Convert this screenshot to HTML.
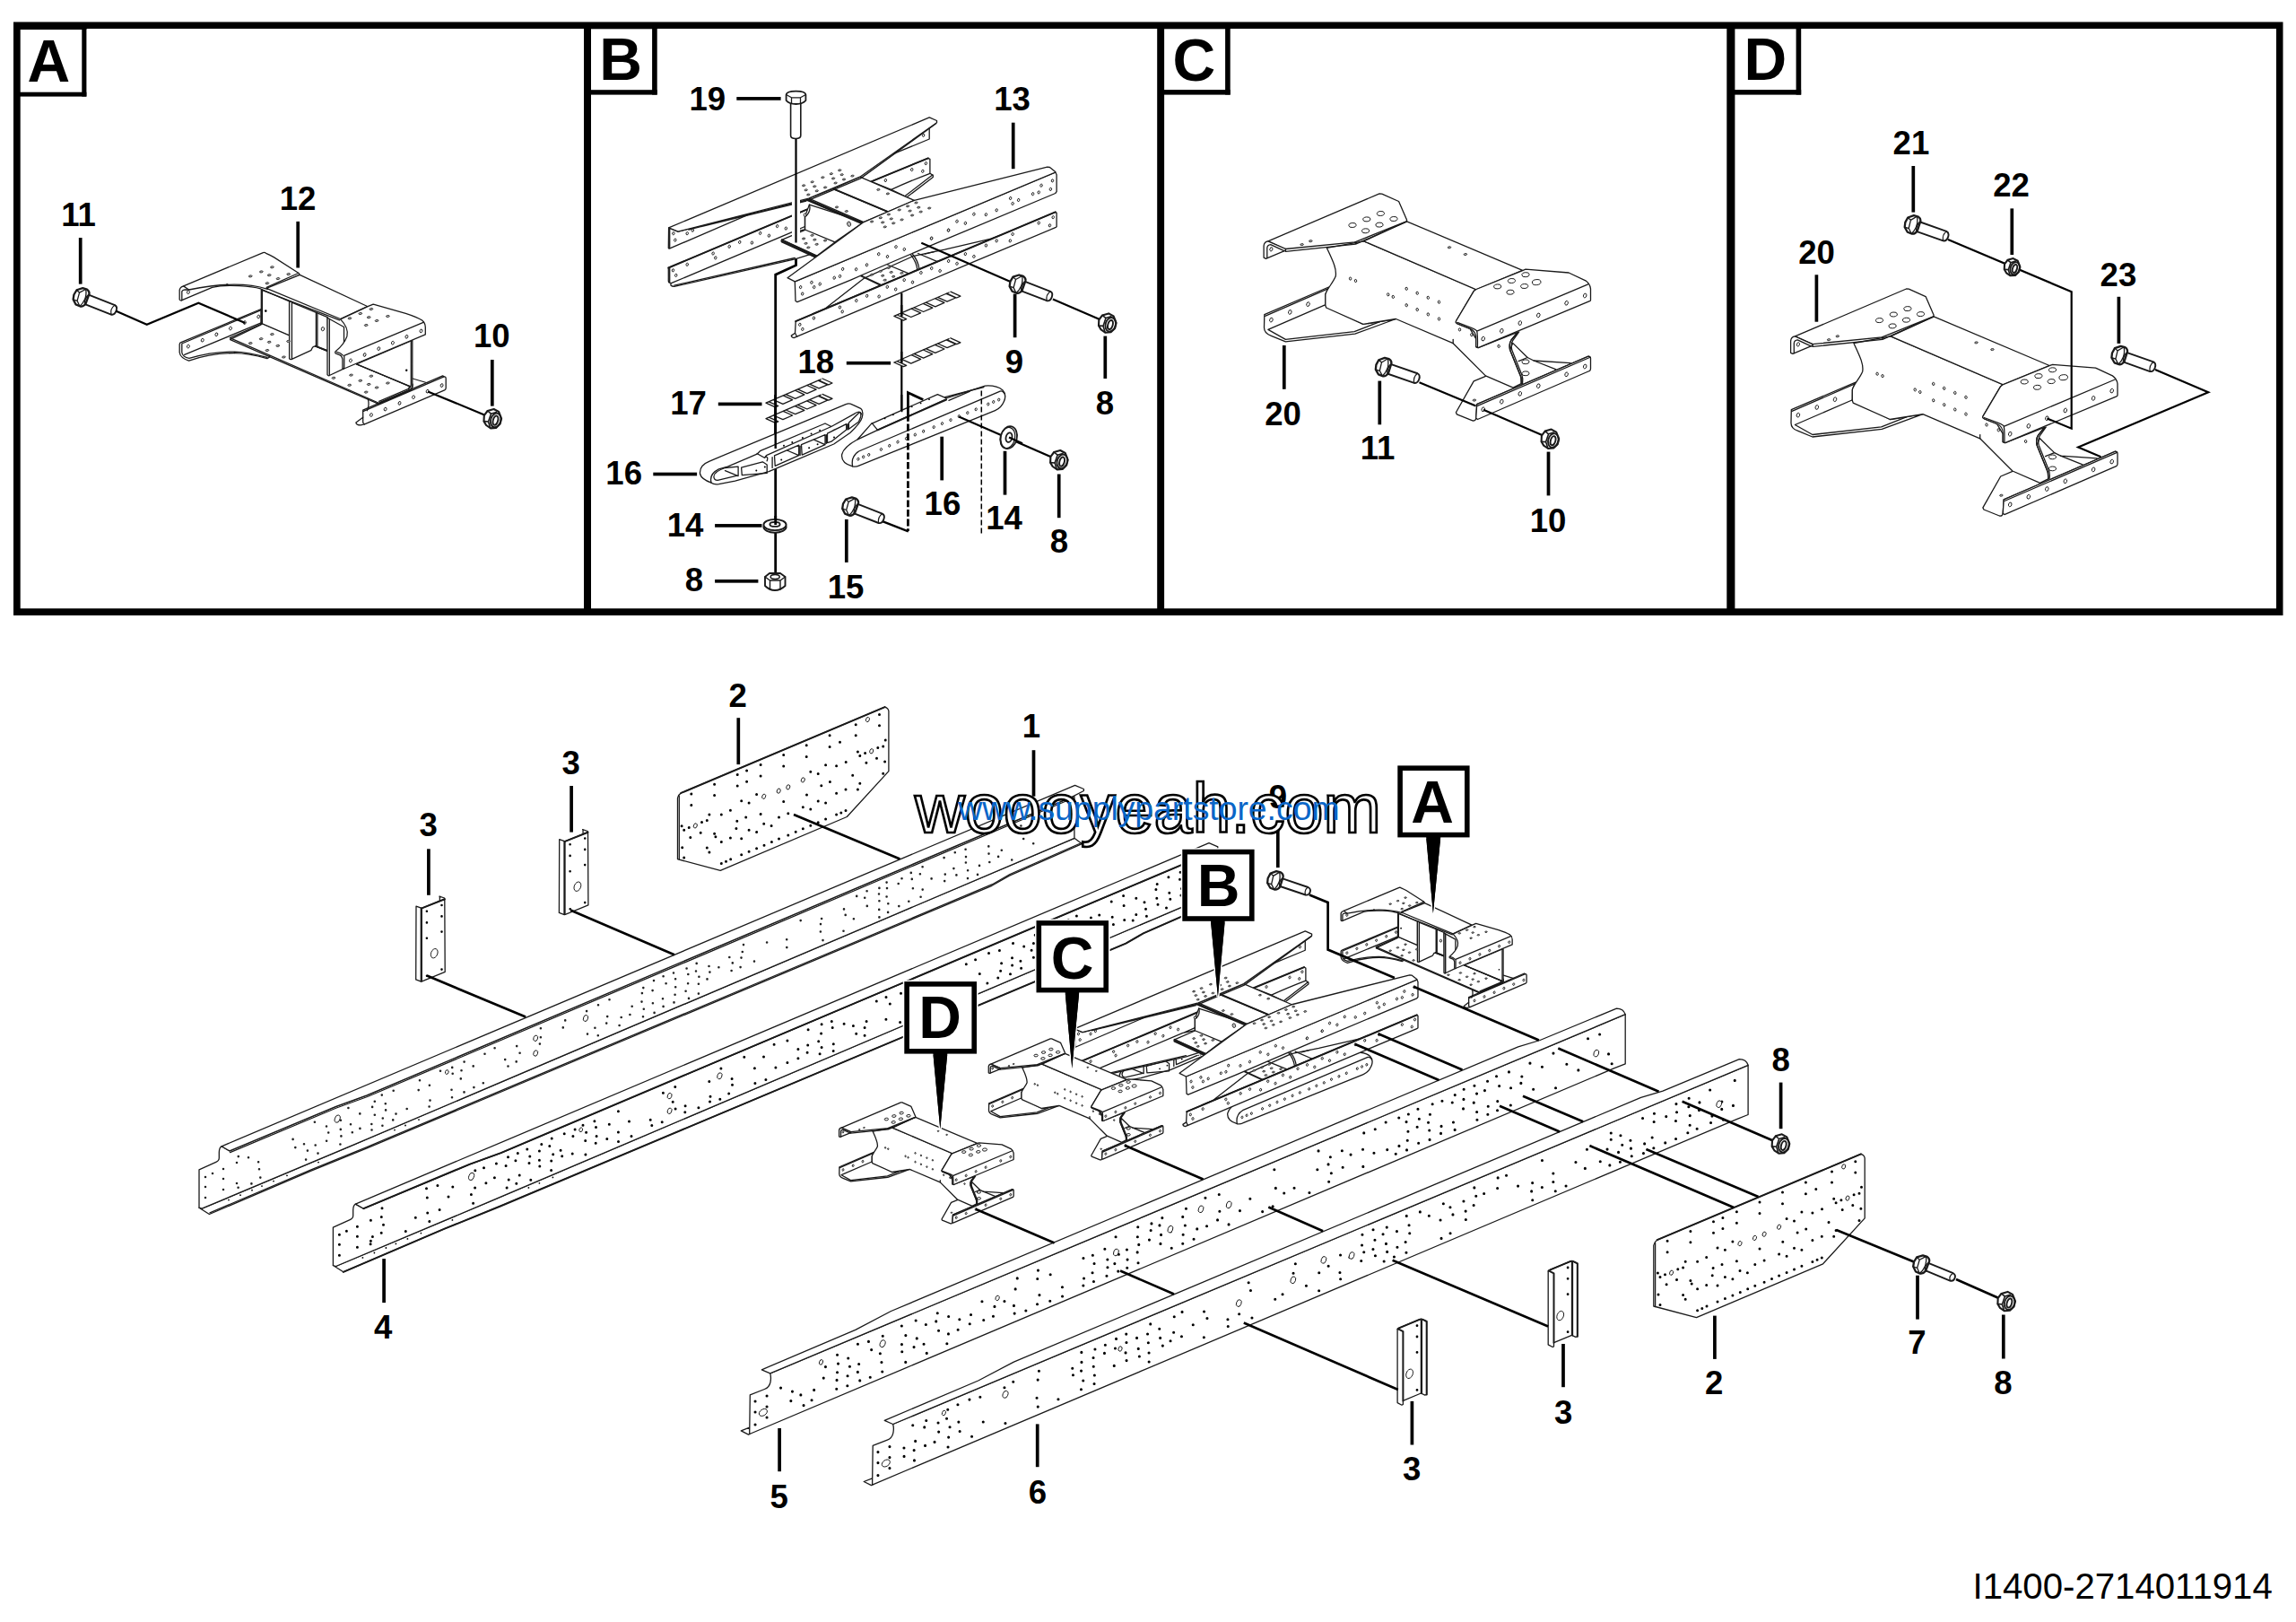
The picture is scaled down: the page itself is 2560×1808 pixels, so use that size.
<!DOCTYPE html>
<html><head><meta charset="utf-8"><title>I1400-2714011914</title>
<style>
html,body{margin:0;padding:0;background:#fff}
svg{display:block}
.lb{font-family:"Liberation Sans",Arial,sans-serif;font-weight:bold;font-size:36.6px;fill:#000;text-anchor:middle}
.bx{font-family:"Liberation Sans",Arial,sans-serif;font-weight:bold;font-size:66px;fill:#000}
.ld{stroke:#000;stroke-width:3.6;fill:none}
.ln{stroke:#000;stroke-width:2.6;fill:none;stroke-linejoin:miter}
.p{stroke:#1a1a1a;stroke-width:1.3;fill:#fff;stroke-linejoin:round;stroke-linecap:round}
.o{stroke:#1a1a1a;stroke-width:1.3;fill:none;stroke-linejoin:round;stroke-linecap:round}
.h{stroke:#1a1a1a;stroke-width:1;fill:#fff}
.p,.o,.h,.h2{vector-effect:non-scaling-stroke}
.d{fill:#000;stroke:none}
.h2{stroke:#222;stroke-width:0.9;fill:#bbb}
.ln{stroke-width:2.2}
</style></head><body>
<svg width="2560" height="1808" viewBox="0 0 2560 1808">
<rect x="0" y="0" width="2560" height="1808" fill="#fff"/>
<path fill="#000" fill-rule="evenodd" d="M15 24.4H2545.5V685.9H15Z M22.7 32H2538V678.2H22.7Z"/>
<rect x="651" y="31" width="8.0" height="648" fill="#000"/>
<rect x="1290.2" y="31" width="7.9" height="648" fill="#000"/>
<rect x="1925.3" y="31" width="9.1" height="648" fill="#000"/>
<rect x="91.3" y="31" width="5.1" height="76.6" fill="#000"/>
<rect x="21.7" y="102.7" width="74.7" height="4.9" fill="#000"/>
<rect x="21.7" y="31" width="74.7" height="2.0" fill="#000"/>
<rect x="727.1" y="31" width="5.6" height="74.6" fill="#000"/>
<rect x="658" y="100.2" width="74.7" height="5.4" fill="#000"/>
<rect x="658" y="31" width="74.7" height="1.3" fill="#000"/>
<rect x="1366.1" y="31" width="5.6" height="74.6" fill="#000"/>
<rect x="1297.1" y="100.1" width="74.6" height="5.5" fill="#000"/>
<rect x="1297.1" y="31" width="74.6" height="1.3" fill="#000"/>
<rect x="2002.6" y="31" width="5.6" height="74.6" fill="#000"/>
<rect x="1933.4" y="100.1" width="74.8" height="5.5" fill="#000"/>
<rect x="1933.4" y="31" width="74.8" height="1.3" fill="#000"/>
<defs><g id="pA">
<path class="o" d="M 200.9 321.3 L 294.1 281.8 L 334.2 305.6 L 409.6 341.5 L 416.1 339.3 L 474.4 357.6 L 474.4 373.2 L 460.1 380.2 L 460.1 428.1 L 497.1 421.1 L 497.1 434.6 L 406.5 473.4 L 396.9 471.7 L 423.0 450.2 L 256.3 377.1 L 291.5 361.9 L 291.5 346.6 L 210.5 399.4 L 200.6 394.1 Z" style="fill:#fff;stroke:none"/>
<path class="p" d="M 201.9 381.7 L 291.1 344.5 L 291.1 360.3 L 300.7 398.0 L 297.9 399.6 C 286.0 396.3 272.3 393.6 261.3 393.6 C 244.9 393.6 226.6 396.6 210.6 402.1 Q 201.0 398.9 200.2 393.0 L 200.2 383.8 Q 200.4 382.0 201.9 381.7 Z"/>
<path class="o" d="M 205.7 395.4 L 291.1 359.8 M 202.8 383.0 L 291.1 345.7 M 210.9 399.4 C 226.6 394.8 244.9 392.0 261.3 392.1 C 272.3 392.3 286.0 395.1 297.9 398.4 M 261.3 392.2 L 261.3 393.6 M 202.8 383.2 L 202.8 393.0 Q 203.7 398.0 210.9 399.4"/>
<ellipse class="h" cx="209.9" cy="386.1" rx="1.4" ry="1.9" transform="rotate(18 209.9 386.1)"/>
<ellipse class="h" cx="225.7" cy="379.2" rx="1.4" ry="1.9" transform="rotate(18 225.7 379.2)"/>
<ellipse class="h" cx="241.4" cy="372.8" rx="1.4" ry="1.9" transform="rotate(18 241.4 372.8)"/>
<ellipse class="h" cx="257.0" cy="366.0" rx="1.4" ry="1.9" transform="rotate(18 257.0 366.0)"/>
<ellipse class="h" cx="272.8" cy="359.6" rx="1.4" ry="1.9" transform="rotate(18 272.8 359.6)"/>
<ellipse class="h" cx="288.3" cy="353.0" rx="1.4" ry="1.9" transform="rotate(18 288.3 353.0)"/>
<path class="p" d="M 256.3 376.7 L 292.9 360.7 L 458.7 431.6 Q 458.7 435.1 456.1 436.3 L 423.0 449.5 Z"/>
<path class="o" d="M 256.7 378.6 L 423.0 450.6 L 457.0 436.3 Q 460.5 433.9 460.1 428.1 M 423.6 448.9 L 457.4 434.6"/>
<path class="o" d="M 256.6 378.3 L 291.1 361.9"/>
<path class="o" d="M 460.1 422.0 L 478.8 427.5"/>
<path class="p" d="M 291.3 322.3 L 291.3 360.3 L 322.6 373.8 L 322.6 335.8 Z"/>
<path class="o" d="M 292.4 323.0 L 292.4 360.5"/>
<path class="p" d="M 325.4 337.2 L 325.4 400.3 L 345.5 391.1 Q 347.5 390.5 347.9 388.4 Q 348.8 385.9 351.9 385.9 L 365.6 391.1 L 365.2 353.6 Z"/>
<path class="o" d="M 352.4 348.1 L 352.4 385.6 M 353.9 348.8 L 353.9 386.3"/>
<path class="o" d="M 351.9 385.9 L 365.6 391.1" style="stroke-width:2"/>
<path class="p" d="M 322.6 335.6 L 322.6 399.8 Q 324.0 401.3 325.4 400.3 L 325.4 336.9 Z"/>
<path class="p" d="M 367.3 355.5 L 367.3 418.5 L 383.5 410.9 L 383.5 364.5 Z"/>
<path class="p" d="M 365.0 354.1 L 365.0 417.7 Q 366.1 419.4 367.3 418.5 L 367.3 355.5 Z"/>
<path class="p" d="M 397.4 405.8 L 458.3 379.9 L 459.8 379.5 L 459.8 429.3 Q 459.8 433.4 456.4 434.8 L 455.5 433.4 L 456.9 430.5 Z"/>
<path class="o" d="M 458.3 379.9 L 458.3 428.8 Q 458.3 432.0 455.5 433.4 L 422.6 447.3 M 456.4 434.8 L 423.2 448.8 M 397.4 405.8 L 456.9 430.5"/>
<path class="p" d="M 204.6 318.9 L 293.4 281.6 Q 295.0 281.1 296.6 282.3 Q 301.1 284.1 305.2 286.6 L 332.7 304.2 Q 334.2 305.2 333.8 306.5 L 298.4 322.3 C 281.5 317.0 254.0 314.0 210.6 323.0 L 206.0 322.8 Q 203.7 323.0 202.8 324.8 L 202.8 334.7 L 202.3 335.1 Q 200.8 335.1 200.2 334.0 L 200.2 323.4 Q 200.5 320.2 204.6 318.9 Z"/>
<path class="o" d="M 332.7 304.5 L 297.2 320.4 M 290.6 321.9 C 281.5 319.3 254.0 316.4 236.6 320.4 L 202.8 334.7 M 253.1 316.4 L 253.1 318.2 M 210.6 323.0 L 204.6 318.9"/>
<path class="p" d="M 334.2 306.3 L 409.6 341.5 L 379.5 355.5 L 297.1 321.3 Z"/>
<path class="o" d="M 291.5 323.1 L 378.6 356.9"/>
<path class="p" d="M 411.2 341.2 L 416.2 339.2 L 452.3 349.3 Q 465.1 353.4 470.6 357.0 Q 474.3 360.2 474.3 364.8 L 474.3 372.9 L 383.5 411.0 L 381.9 410.6 L 381.9 400.5 Q 381.4 396.8 378.7 395.7 L 374.1 393.9 Q 373.2 392.7 374.1 391.8 Q 383.7 384.0 386.9 374.9 Q 389.2 365.7 379.6 355.9 Z"/>
<path class="o" d="M 472.6 359.1 L 383.7 396.4 Q 383.9 398.7 383.7 410.6 M 375.5 392.4 Q 380.1 393.2 382.3 396.1"/>
<ellipse class="h2" cx="303.4" cy="297.8" rx="1.9" ry="1.0" transform="rotate(-8 303.4 297.8)"/>
<ellipse class="h2" cx="291.3" cy="302.9" rx="1.9" ry="1.0" transform="rotate(-8 291.3 302.9)"/>
<ellipse class="h2" cx="279.2" cy="307.9" rx="1.9" ry="1.0" transform="rotate(-8 279.2 307.9)"/>
<ellipse class="h2" cx="300.2" cy="306.7" rx="1.9" ry="1.0" transform="rotate(-8 300.2 306.7)"/>
<ellipse class="h2" cx="310.0" cy="310.6" rx="1.9" ry="1.0" transform="rotate(-8 310.0 310.6)"/>
<ellipse class="h2" cx="297.9" cy="315.7" rx="1.9" ry="1.0" transform="rotate(-8 297.9 315.7)"/>
<ellipse class="h2" cx="321.7" cy="305.6" rx="1.9" ry="1.0" transform="rotate(-8 321.7 305.6)"/>
<ellipse class="h2" cx="303.4" cy="372.6" rx="1.9" ry="1.0" transform="rotate(-8 303.4 372.6)"/>
<ellipse class="h2" cx="291.1" cy="377.7" rx="1.9" ry="1.0" transform="rotate(-8 291.1 377.7)"/>
<ellipse class="h2" cx="279.2" cy="382.6" rx="1.9" ry="1.0" transform="rotate(-8 279.2 382.6)"/>
<ellipse class="h2" cx="300.2" cy="381.3" rx="1.9" ry="1.0" transform="rotate(-8 300.2 381.3)"/>
<ellipse class="h2" cx="309.8" cy="385.4" rx="1.9" ry="1.0" transform="rotate(-8 309.8 385.4)"/>
<ellipse class="h2" cx="297.9" cy="390.5" rx="1.9" ry="1.0" transform="rotate(-8 297.9 390.5)"/>
<ellipse class="h2" cx="321.5" cy="380.4" rx="1.9" ry="1.0" transform="rotate(-8 321.5 380.4)"/>
<ellipse class="h2" cx="316.4" cy="398.0" rx="1.9" ry="1.0" transform="rotate(-8 316.4 398.0)"/>
<ellipse class="h2" cx="413.9" cy="344.5" rx="1.9" ry="1.0" transform="rotate(-8 413.9 344.5)"/>
<ellipse class="h2" cx="401.8" cy="349.5" rx="1.9" ry="1.0" transform="rotate(-8 401.8 349.5)"/>
<ellipse class="h2" cx="389.9" cy="354.8" rx="1.9" ry="1.0" transform="rotate(-8 389.9 354.8)"/>
<ellipse class="h2" cx="411.2" cy="353.7" rx="1.9" ry="1.0" transform="rotate(-8 411.2 353.7)"/>
<ellipse class="h2" cx="420.1" cy="357.5" rx="1.9" ry="1.0" transform="rotate(-8 420.1 357.5)"/>
<ellipse class="h2" cx="432.4" cy="352.5" rx="1.9" ry="1.0" transform="rotate(-8 432.4 352.5)"/>
<ellipse class="h2" cx="408.2" cy="362.5" rx="1.9" ry="1.0" transform="rotate(-8 408.2 362.5)"/>
<ellipse class="h2" cx="372.0" cy="421.3" rx="1.9" ry="1.0" transform="rotate(-8 372.0 421.3)"/>
<ellipse class="h2" cx="391.5" cy="418.1" rx="1.9" ry="1.0" transform="rotate(-8 391.5 418.1)"/>
<ellipse class="h2" cx="413.9" cy="419.2" rx="1.9" ry="1.0" transform="rotate(-8 413.9 419.2)"/>
<ellipse class="h2" cx="401.8" cy="424.3" rx="1.9" ry="1.0" transform="rotate(-8 401.8 424.3)"/>
<ellipse class="h2" cx="389.7" cy="429.3" rx="1.9" ry="1.0" transform="rotate(-8 389.7 429.3)"/>
<ellipse class="h2" cx="411.2" cy="428.4" rx="1.9" ry="1.0" transform="rotate(-8 411.2 428.4)"/>
<ellipse class="h2" cx="420.1" cy="432.0" rx="1.9" ry="1.0" transform="rotate(-8 420.1 432.0)"/>
<ellipse class="h2" cx="432.4" cy="427.0" rx="1.9" ry="1.0" transform="rotate(-8 432.4 427.0)"/>
<ellipse class="h2" cx="408.2" cy="437.1" rx="1.9" ry="1.0" transform="rotate(-8 408.2 437.1)"/>
<ellipse class="h" cx="390.9" cy="401.9" rx="1.4" ry="1.9" transform="rotate(18 390.9 401.9)"/>
<ellipse class="h" cx="406.6" cy="395.5" rx="1.4" ry="1.9" transform="rotate(18 406.6 395.5)"/>
<ellipse class="h" cx="422.3" cy="388.6" rx="1.4" ry="1.9" transform="rotate(18 422.3 388.6)"/>
<ellipse class="h" cx="437.9" cy="382.2" rx="1.4" ry="1.9" transform="rotate(18 437.9 382.2)"/>
<ellipse class="h" cx="453.4" cy="375.3" rx="1.4" ry="1.9" transform="rotate(18 453.4 375.3)"/>
<ellipse class="h" cx="469.5" cy="368.9" rx="1.4" ry="1.9" transform="rotate(18 469.5 368.9)"/>
<ellipse class="h" cx="209.9" cy="325.7" rx="1.4" ry="1.9" transform="rotate(18 209.9 325.7)"/>
<ellipse class="h" cx="359.9" cy="366.7" rx="1.6" ry="2.1" transform="rotate(10 359.9 366.7)"/>
<path class="d" d="M295.0 346.6a1.3 1.3 0 1 0 2.6 0a1.3 1.3 0 1 0 -2.6 0"/>
<path class="d" d="M452.0 412.8a1.2 1.2 0 1 0 2.4 0a1.2 1.2 0 1 0 -2.4 0"/>
<path class="p" d="M 404.7 458.6 L 495.0 419.9 Q 497.2 419.6 497.2 422.0 L 497.2 432.5 Q 497.2 434.2 495.7 434.9 L 406.5 472.9 L 404.7 471.1 Z"/>
<path class="o" d="M 404.7 457.2 L 493.6 418.9 L 495.0 419.9 M 404.7 457.2 L 404.7 458.6 M 404.7 465.2 L 396.9 471.1 Q 397.4 473.9 402.1 473.9 L 406.5 472.9"/>
<path class="o" d="M 410.2 444.4 Q 412.3 451.7 409.3 457.7"/>
<ellipse class="h" cx="413.9" cy="462.5" rx="1.4" ry="1.9" transform="rotate(18 413.9 462.5)"/>
<ellipse class="h" cx="429.6" cy="456.1" rx="1.4" ry="1.9" transform="rotate(18 429.6 456.1)"/>
<ellipse class="h" cx="445.5" cy="449.4" rx="1.4" ry="1.9" transform="rotate(18 445.5 449.4)"/>
<ellipse class="h" cx="461.0" cy="442.7" rx="1.4" ry="1.9" transform="rotate(18 461.0 442.7)"/>
<ellipse class="h" cx="476.6" cy="436.2" rx="1.4" ry="1.9" transform="rotate(18 476.6 436.2)"/>
<ellipse class="h" cx="492.6" cy="429.6" rx="1.4" ry="1.9" transform="rotate(18 492.6 429.6)"/>
</g></defs>
<use href="#pA"/>
<g transform="translate(89.5 331.5) rotate(21.5) scale(1.0)">
<path class="p" style="stroke-width:1.9" d="M5 -6.1 L39 -6.1 Q42.8 -5.6 42.8 -0.5 Q42.8 4.6 39 5.1 L5 5.1Z"/>
<path class="o" style="stroke-width:1.2" d="M39 -6.1 Q35.4 -0.5 39 5.1"/>
<path class="p" style="stroke-width:2.3" d="M-1.2 -10.6 L3.8 -11 Q7.5 -10 7.9 -7 L8.2 4.4 Q7 8.5 3.7 9.3 L-1.7 9.2 L-6.5 5 L-7.7 -0.2 L-6.7 -6.2Z"/>
<path class="o" style="stroke-width:1.3" d="M-6.7 -6.2 L-2.8 -4.6 L1.6 -9.8 M-2.8 -4.6 L-1.8 4.8 L-6.5 5 M-1.8 4.8 L2.4 8.8 M2.4 -10.9 Q5.7 -5 5.5 0 Q5.3 5.5 3.1 9.3"/>
<path class="o" style="stroke-width:1.5" d="M7.6 -6.3999999999999995 Q4.4 -0.5 7.6 5.199999999999999"/>
</g>
<path class="ln" d="M129.5 346.8 L163.7 361.7 L221.3 337.8 L273.3 359.9"/>
<path class="ln" d="M477.1 436.4 L541.3 462.9"/>
<g transform="translate(549.1 466.6) rotate(0) scale(1.0)">
<path class="p" style="stroke-width:2.1" d="M-9.3 -3.5 L-5.5 -8.6 L1.5 -10.6 L7 -7.6 L10 0 L8.5 6 L4 10.3 L-2 10.8 L-7 7.4 L-9.6 3Z"/>
<path class="o" style="stroke-width:1.6" d="M-5.5 -8.6 L-1.6 -5.4 L4.2 -7.2 M-1.6 -5.4 L-4.6 3.4 L-9.6 3 M-4.6 3.4 L-2.4 10.4"/>
<ellipse class="o" style="stroke-width:1.9" cx="3.6" cy="1.8" rx="5.6" ry="7.9" transform="rotate(17 3.6 1.8)"/>
<ellipse class="o" style="stroke-width:1.9" cx="3.4" cy="2" rx="2.7" ry="5.2" transform="rotate(17 3.4 2)"/>
</g>
<defs><g id="pB">
<path class="o" d="M 745.3 253.9 L 1036.2 130.9 L 1044.5 134.5 L 1044.5 136.8 L 1036.9 143.1 L 1036.9 177.3 L 1040.3 195.4 L 1040.3 197.5 L 1019.4 223.3 L 1167.7 186.1 L 1178.1 194.8 L 1178.1 252.7 L 1086.1 291.7 L 888.6 375.5 L 882.3 375.5 L 886.5 358.1 L 887.0 335.5 L 887.0 313.9 L 878.0 309.7 L 910.7 285.3 L 886.3 288.8 L 751.8 319.4 L 745.3 314.5 L 745.3 298.5 L 823.6 265.8 L 746.3 277.2 Z" style="fill:#fff;stroke:none"/>
<path class="p" d="M 745.3 298.5 L 902.4 232.3 L 897.5 252.5 L 882.2 259.1 Q 809.7 289.5 748.4 315.7 Q 746.3 319.0 751.8 319.4 L 886.3 288.8 L 902.4 283.9 L 897.5 256.0 L 882.2 259.1 Q 809.7 289.5 748.4 315.7 L 746.3 315.2 Q 745.3 314.5 745.3 313.2 Z"/>
<path class="o" d="M 745.3 298.5 L 902.4 232.3" style="stroke-width:2"/>
<path class="o" d="M 751.8 318.2 L 886.3 287.5 M 746.7 299.2 L 746.7 314.5"/>
<ellipse class="h" cx="750.5" cy="301.3" rx="1.2" ry="1.6" transform="rotate(15 750.5 301.3)"/>
<ellipse class="h" cx="753.7" cy="306.9" rx="1.2" ry="1.6" transform="rotate(15 753.7 306.9)"/>
<ellipse class="h" cx="766.2" cy="294.8" rx="1.2" ry="1.6" transform="rotate(15 766.2 294.8)"/>
<ellipse class="h" cx="795.1" cy="282.5" rx="1.2" ry="1.6" transform="rotate(15 795.1 282.5)"/>
<ellipse class="h" cx="797.8" cy="287.4" rx="1.2" ry="1.6" transform="rotate(15 797.8 287.4)"/>
<ellipse class="h" cx="813.2" cy="274.8" rx="1.2" ry="1.6" transform="rotate(15 813.2 274.8)"/>
<ellipse class="h" cx="824.7" cy="269.9" rx="1.2" ry="1.6" transform="rotate(15 824.7 269.9)"/>
<ellipse class="h" cx="838.4" cy="270.6" rx="1.2" ry="1.6" transform="rotate(15 838.4 270.6)"/>
<ellipse class="h" cx="847.6" cy="259.9" rx="1.2" ry="1.6" transform="rotate(15 847.6 259.9)"/>
<ellipse class="h" cx="857.4" cy="262.7" rx="1.2" ry="1.6" transform="rotate(15 857.4 262.7)"/>
<ellipse class="h" cx="866.6" cy="252.1" rx="1.2" ry="1.6" transform="rotate(15 866.6 252.1)"/>
<ellipse class="h" cx="876.3" cy="254.6" rx="1.2" ry="1.6" transform="rotate(15 876.3 254.6)"/>
<path class="p" d="M 971.4 202.4 L 1034.8 176.3 L 1036.9 177.3 L 1036.9 193.3 L 1040.3 195.4 L 1040.3 197.5 L 1011.1 219.8 L 993.7 211.4 Z"/>
<path class="o" d="M 971.4 202.4 L 1034.8 176.3" style="stroke-width:2"/>
<path class="o" d="M 1036.9 193.3 Q 1011.8 203.0 993.7 211.4 M 1039.7 195.0 L 1009.7 218.1"/>
<ellipse class="h" cx="1032.4" cy="182.1" rx="1.2" ry="1.6" transform="rotate(15 1032.4 182.1)"/>
<ellipse class="h" cx="1016.7" cy="189.1" rx="1.2" ry="1.6" transform="rotate(15 1016.7 189.1)"/>
<ellipse class="h" cx="1028.8" cy="190.8" rx="1.2" ry="1.6" transform="rotate(15 1028.8 190.8)"/>
<ellipse class="h" cx="987.4" cy="201.0" rx="1.2" ry="1.6" transform="rotate(15 987.4 201.0)"/>
<path class="p" d="M 871.7 267.4 L 897.5 256.3 L 897.5 241.4 L 902.4 228.1 L 963.0 247.6 L 930.9 269.9 L 910.7 285.3 Z"/>
<path class="o" d="M 902.4 228.1 Q 904.5 235.1 898.9 240.7 L 897.5 241.4 L 897.5 256.0 L 930.9 269.9 M 871.0 268.6 L 909.8 286.1 M 871.3 269.7 L 908.9 287.0"/>
<path class="o" d="M 871.7 267.4 L 910.7 285.3" style="stroke-width:2"/>
<ellipse class="h2" cx="905.6" cy="262.3" rx="1.7" ry="0.9" transform="rotate(-10 905.6 262.3)"/>
<ellipse class="h2" cx="896.1" cy="266.0" rx="1.7" ry="0.9" transform="rotate(-10 896.1 266.0)"/>
<ellipse class="h2" cx="908.4" cy="267.2" rx="1.7" ry="0.9" transform="rotate(-10 908.4 267.2)"/>
<ellipse class="h2" cx="920.1" cy="268.1" rx="1.7" ry="0.9" transform="rotate(-10 920.1 268.1)"/>
<ellipse class="h2" cx="898.6" cy="271.3" rx="1.7" ry="0.9" transform="rotate(-10 898.6 271.3)"/>
<ellipse class="h2" cx="910.7" cy="272.3" rx="1.7" ry="0.9" transform="rotate(-10 910.7 272.3)"/>
<ellipse class="h2" cx="901.3" cy="275.9" rx="1.7" ry="0.9" transform="rotate(-10 901.3 275.9)"/>
<ellipse class="h2" cx="946.6" cy="249.7" rx="2.0" ry="2.7" transform="rotate(-15 946.6 249.7)"/>
<ellipse class="h" cx="897.5" cy="239.6" rx="1.3" ry="1.7"/>
<path class="p" d="M 745.6 253.9 L 756.0 258.1 L 837.6 237.9 L 746.3 277.2 L 745.3 276.6 Z"/>
<path class="o" d="M 746.7 254.9 L 746.7 276.4"/>
<ellipse class="h" cx="750.9" cy="260.2" rx="1.2" ry="1.6" transform="rotate(15 750.9 260.2)"/>
<ellipse class="h" cx="766.2" cy="260.2" rx="1.2" ry="1.6" transform="rotate(15 766.2 260.2)"/>
<ellipse class="h" cx="772.3" cy="256.7" rx="1.2" ry="1.6" transform="rotate(15 772.3 256.7)"/>
<ellipse class="h" cx="752.8" cy="267.6" rx="1.2" ry="1.6" transform="rotate(15 752.8 267.6)"/>
<path class="p" d="M 1036.2 143.1 L 1036.2 155.0 L 995.7 171.7 L 1036.2 138.9 Z"/>
<ellipse class="h" cx="1029.6" cy="150.8" rx="1.2" ry="1.6" transform="rotate(15 1029.6 150.8)"/>
<path class="p" d="M 901.7 221.2 L 928.9 210.3 L 990.2 236.2 L 963.0 247.6 Z"/>
<path class="o" d="M 898.9 222.8 L 960.2 249.0 M 900.3 222.0 L 961.6 248.3" style="stroke-width:1.5"/>
<ellipse class="h2" cx="933.0" cy="230.9" rx="1.7" ry="0.9" transform="rotate(-10 933.0 230.9)"/>
<ellipse class="h2" cx="943.8" cy="235.5" rx="1.7" ry="0.9" transform="rotate(-10 943.8 235.5)"/>
<path class="p" d="M 958.8 197.2 L 1019.4 223.3 L 990.2 236.2 L 928.9 210.3 Z"/>
<path class="o" d="M 928.9 210.3 L 990.2 236.2" style="stroke-width:2"/>
<ellipse class="h2" cx="979.4" cy="211.4" rx="1.7" ry="0.9" transform="rotate(-10 979.4 211.4)"/>
<ellipse class="h2" cx="989.9" cy="215.9" rx="1.7" ry="0.9" transform="rotate(-10 989.9 215.9)"/>
<path class="p" d="M 745.6 253.9 L 1036.2 130.9 L 1044.5 134.5 L 1044.5 136.8 L 958.8 197.2 L 901.7 221.2 L 756.0 258.1 Z"/>
<path class="o" d="M 1043.6 137.8 L 959.5 198.9 L 902.4 222.8 M 898.9 224.2 L 781.8 252.5 M 900.3 222.6 L 767.9 256.0"/>
<ellipse class="h2" cx="936.2" cy="189.8" rx="1.7" ry="0.9" transform="rotate(-10 936.2 189.8)"/>
<ellipse class="h2" cx="926.8" cy="193.7" rx="1.7" ry="0.9" transform="rotate(-10 926.8 193.7)"/>
<ellipse class="h2" cx="917.3" cy="197.8" rx="1.7" ry="0.9" transform="rotate(-10 917.3 197.8)"/>
<ellipse class="h2" cx="905.6" cy="202.8" rx="1.7" ry="0.9" transform="rotate(-10 905.6 202.8)"/>
<ellipse class="h2" cx="896.1" cy="206.8" rx="1.7" ry="0.9" transform="rotate(-10 896.1 206.8)"/>
<ellipse class="h2" cx="938.6" cy="194.7" rx="1.7" ry="0.9" transform="rotate(-10 938.6 194.7)"/>
<ellipse class="h2" cx="929.1" cy="198.9" rx="1.7" ry="0.9" transform="rotate(-10 929.1 198.9)"/>
<ellipse class="h2" cx="908.2" cy="207.8" rx="1.7" ry="0.9" transform="rotate(-10 908.2 207.8)"/>
<ellipse class="h2" cx="898.6" cy="211.8" rx="1.7" ry="0.9" transform="rotate(-10 898.6 211.8)"/>
<ellipse class="h2" cx="950.5" cy="196.1" rx="1.7" ry="0.9" transform="rotate(-10 950.5 196.1)"/>
<ellipse class="h2" cx="941.0" cy="200.0" rx="1.7" ry="0.9" transform="rotate(-10 941.0 200.0)"/>
<ellipse class="h2" cx="931.6" cy="204.0" rx="1.7" ry="0.9" transform="rotate(-10 931.6 204.0)"/>
<ellipse class="h2" cx="920.1" cy="208.9" rx="1.7" ry="0.9" transform="rotate(-10 920.1 208.9)"/>
<ellipse class="h2" cx="910.7" cy="212.8" rx="1.7" ry="0.9" transform="rotate(-10 910.7 212.8)"/>
<ellipse class="h2" cx="901.3" cy="217.0" rx="1.7" ry="0.9" transform="rotate(-10 901.3 217.0)"/>
<path class="p" d="M 918.4 345.2 L 963.0 310.4 L 1018.7 285.3 L 1053.4 278.2 L 1104.9 266.2 L 1128.6 257.6 L 1065.9 282.9 L 905.9 349.9 Z"/>
<path class="o" d="M 958.8 306.9 L 982.5 318.0" style="stroke-width:2"/>
<path class="o" d="M 989.5 295.0 L 1013.2 304.8 M 1015.3 283.9 Q 1021.5 290.9 1022.9 300.9 M 1017.4 283.2 Q 1023.6 290.2 1025.0 300.3 M 1023.6 282.5 L 1045.2 291.6 M 1031.3 283.2 L 1042.4 280.4"/>
<ellipse class="h2" cx="972.1" cy="306.2" rx="1.7" ry="0.9" transform="rotate(-10 972.1 306.2)"/>
<ellipse class="h2" cx="981.8" cy="302.3" rx="1.7" ry="0.9" transform="rotate(-10 981.8 302.3)"/>
<ellipse class="h2" cx="990.9" cy="298.5" rx="1.7" ry="0.9" transform="rotate(-10 990.9 298.5)"/>
<ellipse class="h2" cx="984.2" cy="307.3" rx="1.7" ry="0.9" transform="rotate(-10 984.2 307.3)"/>
<ellipse class="h2" cx="993.7" cy="303.4" rx="1.7" ry="0.9" transform="rotate(-10 993.7 303.4)"/>
<ellipse class="h2" cx="1005.5" cy="304.4" rx="1.7" ry="0.9" transform="rotate(-10 1005.5 304.4)"/>
<ellipse class="h2" cx="986.7" cy="312.2" rx="1.7" ry="0.9" transform="rotate(-10 986.7 312.2)"/>
<ellipse class="h2" cx="996.2" cy="308.3" rx="1.7" ry="0.9" transform="rotate(-10 996.2 308.3)"/>
<path class="p" d="M 887.2 358.1 L 1176.7 236.4 L 1178.1 237.4 L 1178.1 252.7 L 1176.7 253.7 L 1086.1 291.7 L 888.6 375.2 L 885.1 376.6 Q 882.3 376.2 882.3 374.1 L 886.5 371.3 Z"/>
<path class="o" d="M 887.2 358.1 L 1176.7 236.4" style="stroke-width:2"/>
<path class="o" d="M 886.5 371.3 L 888.6 375.2"/>
<ellipse class="h" cx="891.8" cy="361.8" rx="1.2" ry="1.6" transform="rotate(15 891.8 361.8)"/>
<ellipse class="h" cx="894.8" cy="366.9" rx="1.2" ry="1.6" transform="rotate(15 894.8 366.9)"/>
<ellipse class="h" cx="907.4" cy="354.6" rx="1.2" ry="1.6" transform="rotate(15 907.4 354.6)"/>
<ellipse class="h" cx="936.4" cy="342.5" rx="1.2" ry="1.6" transform="rotate(15 936.4 342.5)"/>
<ellipse class="h" cx="939.2" cy="347.4" rx="1.2" ry="1.6" transform="rotate(15 939.2 347.4)"/>
<ellipse class="h" cx="954.8" cy="335.1" rx="1.2" ry="1.6" transform="rotate(15 954.8 335.1)"/>
<ellipse class="h" cx="966.6" cy="329.8" rx="1.2" ry="1.6" transform="rotate(15 966.6 329.8)"/>
<ellipse class="h" cx="980.1" cy="330.5" rx="1.2" ry="1.6" transform="rotate(15 980.1 330.5)"/>
<ellipse class="h" cx="989.3" cy="319.8" rx="1.2" ry="1.6" transform="rotate(15 989.3 319.8)"/>
<ellipse class="h" cx="998.7" cy="322.5" rx="1.2" ry="1.6" transform="rotate(15 998.7 322.5)"/>
<ellipse class="h" cx="1008.2" cy="312.1" rx="1.2" ry="1.6" transform="rotate(15 1008.2 312.1)"/>
<ellipse class="h" cx="1017.5" cy="314.6" rx="1.2" ry="1.6" transform="rotate(15 1017.5 314.6)"/>
<ellipse class="h" cx="1174.2" cy="242.2" rx="1.2" ry="1.6" transform="rotate(15 1174.2 242.2)"/>
<ellipse class="h" cx="1158.2" cy="248.5" rx="1.2" ry="1.6" transform="rotate(15 1158.2 248.5)"/>
<ellipse class="h" cx="1170.5" cy="251.3" rx="1.2" ry="1.6" transform="rotate(15 1170.5 251.3)"/>
<ellipse class="h" cx="1129.1" cy="261.0" rx="1.2" ry="1.6" transform="rotate(15 1129.1 261.0)"/>
<ellipse class="h" cx="1126.3" cy="268.4" rx="1.2" ry="1.6" transform="rotate(15 1126.3 268.4)"/>
<ellipse class="h" cx="1111.2" cy="268.4" rx="1.2" ry="1.6" transform="rotate(15 1111.2 268.4)"/>
<ellipse class="h" cx="1099.4" cy="273.6" rx="1.2" ry="1.6" transform="rotate(15 1099.4 273.6)"/>
<ellipse class="h" cx="1076.4" cy="283.1" rx="1.2" ry="1.6" transform="rotate(15 1076.4 283.1)"/>
<ellipse class="h" cx="1085.9" cy="285.9" rx="1.2" ry="1.6" transform="rotate(15 1085.9 285.9)"/>
<ellipse class="h" cx="1057.6" cy="291.0" rx="1.2" ry="1.6" transform="rotate(15 1057.6 291.0)"/>
<ellipse class="h" cx="1067.0" cy="293.8" rx="1.2" ry="1.6" transform="rotate(15 1067.0 293.8)"/>
<ellipse class="h" cx="1038.7" cy="299.1" rx="1.2" ry="1.6" transform="rotate(15 1038.7 299.1)"/>
<ellipse class="h" cx="1048.1" cy="301.9" rx="1.2" ry="1.6" transform="rotate(15 1048.1 301.9)"/>
<ellipse class="h" cx="1026.9" cy="304.0" rx="1.2" ry="1.6" transform="rotate(15 1026.9 304.0)"/>
<path class="p" d="M 886.3 313.9 L 1176.7 191.8 L 1178.1 194.8 L 1178.1 213.7 L 1176.7 215.5 L 1041.5 272.2 Q 990.9 293.6 949.1 311.8 L 888.9 336.6 L 887.0 335.5 Z"/>
<ellipse class="h" cx="892.6" cy="320.1" rx="1.2" ry="1.6" transform="rotate(15 892.6 320.1)"/>
<ellipse class="h" cx="894.7" cy="327.5" rx="1.2" ry="1.6" transform="rotate(15 894.7 327.5)"/>
<ellipse class="h" cx="904.9" cy="314.8" rx="1.2" ry="1.6" transform="rotate(15 904.9 314.8)"/>
<ellipse class="h" cx="907.7" cy="320.1" rx="1.2" ry="1.6" transform="rotate(15 907.7 320.1)"/>
<ellipse class="h" cx="914.2" cy="316.6" rx="1.2" ry="1.6" transform="rotate(15 914.2 316.6)"/>
<ellipse class="h" cx="930.2" cy="309.7" rx="1.2" ry="1.6" transform="rotate(15 930.2 309.7)"/>
<ellipse class="h" cx="936.5" cy="307.9" rx="1.2" ry="1.6" transform="rotate(15 936.5 307.9)"/>
<ellipse class="h" cx="939.6" cy="299.9" rx="1.2" ry="1.6" transform="rotate(15 939.6 299.9)"/>
<ellipse class="h" cx="954.6" cy="300.2" rx="1.2" ry="1.6" transform="rotate(15 954.6 300.2)"/>
<ellipse class="h" cx="966.5" cy="295.3" rx="1.2" ry="1.6" transform="rotate(15 966.5 295.3)"/>
<ellipse class="h" cx="979.7" cy="283.2" rx="1.2" ry="1.6" transform="rotate(15 979.7 283.2)"/>
<ellipse class="h" cx="989.5" cy="286.0" rx="1.2" ry="1.6" transform="rotate(15 989.5 286.0)"/>
<ellipse class="h" cx="999.0" cy="275.2" rx="1.2" ry="1.6" transform="rotate(15 999.0 275.2)"/>
<ellipse class="h" cx="1008.3" cy="277.9" rx="1.2" ry="1.6" transform="rotate(15 1008.3 277.9)"/>
<ellipse class="h" cx="1038.5" cy="265.8" rx="1.2" ry="1.6" transform="rotate(15 1038.5 265.8)"/>
<ellipse class="h" cx="1057.5" cy="256.7" rx="1.2" ry="1.6" transform="rotate(15 1057.5 256.7)"/>
<ellipse class="h" cx="1173.5" cy="201.4" rx="1.2" ry="1.6" transform="rotate(15 1173.5 201.4)"/>
<ellipse class="h" cx="1161.0" cy="206.7" rx="1.2" ry="1.6" transform="rotate(15 1161.0 206.7)"/>
<ellipse class="h" cx="1171.4" cy="210.9" rx="1.2" ry="1.6" transform="rotate(15 1171.4 210.9)"/>
<ellipse class="h" cx="1158.2" cy="214.4" rx="1.2" ry="1.6" transform="rotate(15 1158.2 214.4)"/>
<ellipse class="h" cx="1151.6" cy="216.2" rx="1.2" ry="1.6" transform="rotate(15 1151.6 216.2)"/>
<ellipse class="h" cx="1126.6" cy="221.0" rx="1.2" ry="1.6" transform="rotate(15 1126.6 221.0)"/>
<ellipse class="h" cx="1135.6" cy="223.0" rx="1.2" ry="1.6" transform="rotate(15 1135.6 223.0)"/>
<ellipse class="h" cx="1129.1" cy="226.9" rx="1.2" ry="1.6" transform="rotate(15 1129.1 226.9)"/>
<ellipse class="h" cx="1111.2" cy="234.3" rx="1.2" ry="1.6" transform="rotate(15 1111.2 234.3)"/>
<ellipse class="h" cx="1099.4" cy="239.2" rx="1.2" ry="1.6" transform="rotate(15 1099.4 239.2)"/>
<ellipse class="h" cx="1085.9" cy="238.7" rx="1.2" ry="1.6" transform="rotate(15 1085.9 238.7)"/>
<ellipse class="h" cx="1067.0" cy="246.7" rx="1.2" ry="1.6" transform="rotate(15 1067.0 246.7)"/>
<ellipse class="h" cx="1076.4" cy="248.8" rx="1.2" ry="1.6" transform="rotate(15 1076.4 248.8)"/>
<ellipse class="h" cx="1057.6" cy="256.6" rx="1.2" ry="1.6" transform="rotate(15 1057.6 256.6)"/>
<ellipse class="h" cx="1038.7" cy="265.6" rx="1.2" ry="1.6" transform="rotate(15 1038.7 265.6)"/>
<path class="p" d="M 878.0 309.7 L 963.0 247.6 L 1019.4 223.3 L 1167.7 186.1 L 1170.5 186.5 L 1176.7 191.4 L 1176.7 192.1 L 886.3 313.9 Z"/>
<ellipse class="h2" cx="972.1" cy="247.0" rx="1.7" ry="0.9" transform="rotate(-10 972.1 247.0)"/>
<ellipse class="h2" cx="981.8" cy="242.8" rx="1.7" ry="0.9" transform="rotate(-10 981.8 242.8)"/>
<ellipse class="h2" cx="990.9" cy="239.0" rx="1.7" ry="0.9" transform="rotate(-10 990.9 239.0)"/>
<ellipse class="h2" cx="1002.7" cy="234.0" rx="1.7" ry="0.9" transform="rotate(-10 1002.7 234.0)"/>
<ellipse class="h2" cx="1012.1" cy="229.8" rx="1.7" ry="0.9" transform="rotate(-10 1012.1 229.8)"/>
<ellipse class="h2" cx="1021.5" cy="226.0" rx="1.7" ry="0.9" transform="rotate(-10 1021.5 226.0)"/>
<ellipse class="h2" cx="984.2" cy="247.9" rx="1.7" ry="0.9" transform="rotate(-10 984.2 247.9)"/>
<ellipse class="h2" cx="993.7" cy="243.9" rx="1.7" ry="0.9" transform="rotate(-10 993.7 243.9)"/>
<ellipse class="h2" cx="1014.6" cy="235.1" rx="1.7" ry="0.9" transform="rotate(-10 1014.6 235.1)"/>
<ellipse class="h2" cx="1024.3" cy="231.2" rx="1.7" ry="0.9" transform="rotate(-10 1024.3 231.2)"/>
<ellipse class="h2" cx="1036.2" cy="232.0" rx="1.7" ry="0.9" transform="rotate(-10 1036.2 232.0)"/>
<ellipse class="h2" cx="986.7" cy="252.9" rx="1.7" ry="0.9" transform="rotate(-10 986.7 252.9)"/>
<ellipse class="h2" cx="996.2" cy="248.8" rx="1.7" ry="0.9" transform="rotate(-10 996.2 248.8)"/>
<ellipse class="h2" cx="1005.5" cy="244.9" rx="1.7" ry="0.9" transform="rotate(-10 1005.5 244.9)"/>
<ellipse class="h2" cx="1017.1" cy="240.0" rx="1.7" ry="0.9" transform="rotate(-10 1017.1 240.0)"/>
<ellipse class="h2" cx="1026.7" cy="236.1" rx="1.7" ry="0.9" transform="rotate(-10 1026.7 236.1)"/>
</g></defs>
<use href="#pB"/>

<defs><g id="pC">
<path class="o" d="M 1409.1 274.0 L 1538.0 215.9 L 1559.6 224.5 L 1568.6 245.4 L 1697.6 301.4 L 1701.0 300.2 L 1749.1 304.0 L 1773.5 321.8 L 1773.5 335.7 L 1697.6 369.2 L 1711.5 402.0 L 1750.5 404.7 L 1773.5 398.5 L 1773.5 413.1 L 1647.4 467.5 L 1641.8 468.9 L 1623.4 459.8 L 1643.2 424.9 L 1657.1 419.1 L 1620.2 382.7 L 1556.1 355.5 L 1510.8 372.2 L 1433.4 380.9 L 1409.5 365.3 L 1409.8 350.6 L 1481.5 320.0 L 1489.9 302.6 L 1479.4 276.4 L 1433.4 280.3 L 1409.1 287.5 Z" style="fill:#fff;stroke:none"/>
<path class="p" d="M 1409.8 350.6 L 1481.5 320.0 L 1478.0 327.6 L 1477.8 340.2 L 1519.9 361.4 L 1556.4 355.5 L 1510.8 372.2 L 1433.4 380.9 L 1417.4 374.3 Q 1409.5 371.6 1409.5 365.3 Z"/>
<path class="o" d="M 1410.5 352.3 L 1480.6 321.8 M 1413.9 367.4 L 1477.4 339.9 M 1413.9 367.4 L 1433.4 378.4 L 1510.1 369.7 L 1544.9 356.1 M 1520.1 360.0 L 1553.3 354.7"/>
<ellipse class="h" cx="1417.4" cy="356.6" rx="1.7" ry="2.4" transform="rotate(18 1417.4 356.6)"/>
<ellipse class="h" cx="1438.3" cy="347.9" rx="1.7" ry="2.4" transform="rotate(18 1438.3 347.9)"/>
<ellipse class="h" cx="1458.5" cy="339.1" rx="1.7" ry="2.4" transform="rotate(18 1458.5 339.1)"/>
<path class="p" d="M 1657.1 419.1 L 1643.2 424.9 L 1623.4 459.8 L 1624.4 461.9 L 1641.8 468.9 Q 1645.3 469.5 1645.7 466.1 L 1646.7 450.7 L 1771.1 397.1 L 1751.9 405.4 L 1750.5 404.7 L 1710.1 402.0 L 1703.1 398.5 L 1686.7 382.4 L 1683.6 390.1 Z"/>
<path class="o" d="M 1710.1 402.0 L 1734.5 411.7 M 1703.1 398.5 L 1693.1 402.6"/>
<ellipse class="h" cx="1701.0" cy="403.3" rx="4.0" ry="2.4" transform="rotate(-5 1701.0 403.3)"/>
<ellipse class="h" cx="1701.0" cy="416.3" rx="4.0" ry="2.4" transform="rotate(-5 1701.0 416.3)"/>
<ellipse class="h2" cx="1643.9" cy="446.1" rx="1.8" ry="1.0" transform="rotate(-8 1643.9 446.1)"/>
<path class="p" d="M 1479.4 276.4 C 1486.4 291.4 1490.6 299.8 1489.2 308.1 C 1486.4 315.1 1479.4 322.1 1477.8 328.3 L 1477.8 340.2 L 1478.7 343.0 L 1519.9 361.4 L 1556.4 355.5 L 1620.2 382.7 L 1656.4 418.9 L 1687.1 432.2 L 1696.2 427.7 L 1696.2 420.8 L 1683.6 390.1 Q 1682.2 383.1 1685.0 379.0 L 1692.0 370.3 L 1648.1 387.6 L 1645.7 386.6 L 1645.7 377.6 L 1639.0 366.4 L 1625.1 360.8 L 1623.4 358.0 L 1643.2 324.6 L 1646.0 322.5 L 1520.6 268.8 Z"/>
<path class="o" d="M 1620.2 378.5 L 1620.2 382.7"/>
<path class="o" d="M 1692.0 370.3 L 1685.0 379.0 Q 1682.2 383.1 1683.6 390.1 L 1694.8 418.0 Q 1696.2 420.8 1696.2 428.0 M 1693.7 369.9 L 1686.7 379.7 Q 1684.3 383.8 1685.7 390.1 L 1696.9 418.0 Q 1698.3 421.5 1697.6 427.5"/>
<path class="p" d="M 1520.6 268.8 L 1568.6 246.8 L 1697.6 301.4 L 1646.0 322.8 Z"/>
<path class="p" d="M 1413.9 268.8 L 1538.0 215.9 L 1540.8 216.1 L 1559.6 224.5 L 1568.4 244.7 Q 1568.9 246.1 1567.9 246.8 L 1510.8 269.8 L 1433.4 277.5 Z"/>
<path class="o" d="M 1568.6 246.8 L 1511.5 272.2 L 1433.4 280.3 L 1433.4 277.5 M 1511.5 272.2 L 1510.8 269.8"/>
<path class="p" d="M 1413.9 268.8 Q 1409.5 269.4 1409.1 274.0 L 1409.1 287.2 L 1411.4 288.3 L 1433.4 279.1 L 1433.4 277.5 Z"/>
<path class="o" d="M 1412.8 287.6 L 1412.8 276.4 Q 1413.2 273.0 1416.7 272.7 L 1431.8 279.7"/>
<ellipse class="h" cx="1417.4" cy="277.8" rx="1.5" ry="2.2" transform="rotate(18 1417.4 277.8)"/>
<ellipse class="h" cx="1539.4" cy="238.0" rx="4.1" ry="2.5" transform="rotate(-6 1539.4 238.0)"/>
<ellipse class="h" cx="1523.8" cy="244.4" rx="4.1" ry="2.5" transform="rotate(-6 1523.8 244.4)"/>
<ellipse class="h" cx="1508.0" cy="251.0" rx="4.1" ry="2.5" transform="rotate(-6 1508.0 251.0)"/>
<ellipse class="h" cx="1554.0" cy="244.0" rx="4.1" ry="2.5" transform="rotate(-6 1554.0 244.0)"/>
<ellipse class="h" cx="1538.0" cy="250.6" rx="4.1" ry="2.5" transform="rotate(-6 1538.0 250.6)"/>
<ellipse class="h" cx="1522.6" cy="257.3" rx="4.1" ry="2.5" transform="rotate(-6 1522.6 257.3)"/>
<ellipse class="h2" cx="1461.3" cy="268.7" rx="1.8" ry="1.0" transform="rotate(-8 1461.3 268.7)"/>
<ellipse class="h2" cx="1451.6" cy="272.6" rx="1.8" ry="1.0" transform="rotate(-8 1451.6 272.6)"/>
<ellipse class="h2" cx="1616.0" cy="275.8" rx="1.8" ry="1.0" transform="rotate(-8 1616.0 275.8)"/>
<ellipse class="h2" cx="1633.9" cy="283.5" rx="1.8" ry="1.0" transform="rotate(-8 1633.9 283.5)"/>
<ellipse class="h" cx="1505.6" cy="310.6" rx="1.2" ry="1.6" transform="rotate(-10 1505.6 310.6)"/>
<ellipse class="h" cx="1511.5" cy="313.0" rx="1.2" ry="1.6" transform="rotate(-10 1511.5 313.0)"/>
<ellipse class="h" cx="1547.7" cy="328.3" rx="1.2" ry="1.6" transform="rotate(-10 1547.7 328.3)"/>
<ellipse class="h" cx="1553.3" cy="330.9" rx="1.2" ry="1.6" transform="rotate(-10 1553.3 330.9)"/>
<ellipse class="h" cx="1568.2" cy="321.8" rx="1.2" ry="1.6" transform="rotate(-10 1568.2 321.8)"/>
<ellipse class="h" cx="1580.2" cy="326.7" rx="1.2" ry="1.6" transform="rotate(-10 1580.2 326.7)"/>
<ellipse class="h" cx="1592.3" cy="331.8" rx="1.2" ry="1.6" transform="rotate(-10 1592.3 331.8)"/>
<ellipse class="h" cx="1604.5" cy="336.7" rx="1.2" ry="1.6" transform="rotate(-10 1604.5 336.7)"/>
<ellipse class="h" cx="1568.2" cy="340.2" rx="1.2" ry="1.6" transform="rotate(-10 1568.2 340.2)"/>
<ellipse class="h" cx="1580.2" cy="345.1" rx="1.2" ry="1.6" transform="rotate(-10 1580.2 345.1)"/>
<ellipse class="h" cx="1592.3" cy="350.4" rx="1.2" ry="1.6" transform="rotate(-10 1592.3 350.4)"/>
<ellipse class="h" cx="1604.5" cy="355.5" rx="1.2" ry="1.6" transform="rotate(-10 1604.5 355.5)"/>
<ellipse class="h" cx="1627.5" cy="367.4" rx="1.2" ry="1.6" transform="rotate(-10 1627.5 367.4)"/>
<ellipse class="h" cx="1640.8" cy="373.2" rx="1.2" ry="1.6" transform="rotate(-10 1640.8 373.2)"/>
<ellipse class="h" cx="1671.1" cy="385.9" rx="1.2" ry="1.6" transform="rotate(-10 1671.1 385.9)"/>
<path class="p" d="M 1646.0 322.5 L 1697.6 301.6 L 1701.0 300.2 L 1749.1 304.0 L 1767.9 312.8 Q 1772.8 316.2 1773.5 321.8 L 1773.5 334.4 Q 1773.5 335.5 1772.4 335.7 L 1648.1 387.6 L 1645.7 386.6 L 1645.7 377.6 Q 1646.0 369.2 1639.0 366.4 L 1625.1 360.8 Q 1622.3 359.7 1623.4 358.0 L 1643.2 324.6 Z"/>
<path class="o" d="M 1770.7 316.9 L 1646.7 369.2 Q 1647.7 372.7 1647.4 387.3 M 1624.8 359.4 L 1640.4 365.3 Q 1646.7 367.8 1646.7 369.2"/>
<ellipse class="h" cx="1701.0" cy="306.2" rx="4.1" ry="2.5" transform="rotate(-6 1701.0 306.2)"/>
<ellipse class="h" cx="1685.4" cy="313.0" rx="4.1" ry="2.5" transform="rotate(-6 1685.4 313.0)"/>
<ellipse class="h" cx="1669.7" cy="319.4" rx="4.1" ry="2.5" transform="rotate(-6 1669.7 319.4)"/>
<ellipse class="h" cx="1699.7" cy="319.0" rx="4.1" ry="2.5" transform="rotate(-6 1699.7 319.0)"/>
<ellipse class="h" cx="1684.0" cy="325.7" rx="4.1" ry="2.5" transform="rotate(-6 1684.0 325.7)"/>
<ellipse class="h" cx="1713.2" cy="314.6" rx="4.8" ry="3.0" transform="rotate(-6 1713.2 314.6)"/>
<ellipse class="h" cx="1653.7" cy="377.6" rx="1.7" ry="2.4" transform="rotate(18 1653.7 377.6)"/>
<ellipse class="h" cx="1674.3" cy="368.8" rx="1.7" ry="2.4" transform="rotate(18 1674.3 368.8)"/>
<ellipse class="h" cx="1694.8" cy="360.1" rx="1.7" ry="2.4" transform="rotate(18 1694.8 360.1)"/>
<ellipse class="h" cx="1715.3" cy="351.4" rx="1.7" ry="2.4" transform="rotate(18 1715.3 351.4)"/>
<ellipse class="h" cx="1746.6" cy="337.8" rx="1.7" ry="2.4" transform="rotate(18 1746.6 337.8)"/>
<ellipse class="h" cx="1767.2" cy="329.5" rx="1.7" ry="2.4" transform="rotate(18 1767.2 329.5)"/>
<path class="p" d="M 1646.7 450.7 L 1771.1 397.1 Q 1773.5 397.4 1773.5 399.2 L 1773.5 411.0 Q 1773.5 413.1 1772.1 413.5 L 1647.4 467.5 L 1645.7 466.1 Z"/>
<path class="o" d="M 1647.4 452.4 L 1772.4 398.5"/>
<ellipse class="h" cx="1653.7" cy="456.3" rx="1.7" ry="2.4" transform="rotate(18 1653.7 456.3)"/>
<ellipse class="h" cx="1674.3" cy="447.7" rx="1.7" ry="2.4" transform="rotate(18 1674.3 447.7)"/>
<ellipse class="h" cx="1694.8" cy="438.9" rx="1.7" ry="2.4" transform="rotate(18 1694.8 438.9)"/>
<ellipse class="h" cx="1715.3" cy="430.2" rx="1.7" ry="2.4" transform="rotate(18 1715.3 430.2)"/>
<ellipse class="h" cx="1746.6" cy="417.3" rx="1.7" ry="2.4" transform="rotate(18 1746.6 417.3)"/>
<ellipse class="h" cx="1767.2" cy="408.5" rx="1.7" ry="2.4" transform="rotate(18 1767.2 408.5)"/>
</g></defs>
<use href="#pC"/>
<use href="#pC" transform="translate(587.5 106.1)"/>
<g transform="translate(1541.6 409.3) rotate(19) scale(1.0)">
<path class="p" style="stroke-width:1.9" d="M5 -6.1 L39 -6.1 Q42.8 -5.6 42.8 -0.5 Q42.8 4.6 39 5.1 L5 5.1Z"/>
<path class="o" style="stroke-width:1.2" d="M39 -6.1 Q35.4 -0.5 39 5.1"/>
<path class="p" style="stroke-width:2.3" d="M-1.2 -10.6 L3.8 -11 Q7.5 -10 7.9 -7 L8.2 4.4 Q7 8.5 3.7 9.3 L-1.7 9.2 L-6.5 5 L-7.7 -0.2 L-6.7 -6.2Z"/>
<path class="o" style="stroke-width:1.3" d="M-6.7 -6.2 L-2.8 -4.6 L1.6 -9.8 M-2.8 -4.6 L-1.8 4.8 L-6.5 5 M-1.8 4.8 L2.4 8.8 M2.4 -10.9 Q5.7 -5 5.5 0 Q5.3 5.5 3.1 9.3"/>
<path class="o" style="stroke-width:1.5" d="M7.6 -6.3999999999999995 Q4.4 -0.5 7.6 5.199999999999999"/>
</g>
<path class="ln" d="M1582.5 426.2 L1645.6 452.6 M1654 456.8 L1720 485.2"/>
<g transform="translate(1728.2 489.2) rotate(0) scale(1.0)">
<path class="p" style="stroke-width:2.1" d="M-9.3 -3.5 L-5.5 -8.6 L1.5 -10.6 L7 -7.6 L10 0 L8.5 6 L4 10.3 L-2 10.8 L-7 7.4 L-9.6 3Z"/>
<path class="o" style="stroke-width:1.6" d="M-5.5 -8.6 L-1.6 -5.4 L4.2 -7.2 M-1.6 -5.4 L-4.6 3.4 L-9.6 3 M-4.6 3.4 L-2.4 10.4"/>
<ellipse class="o" style="stroke-width:1.9" cx="3.6" cy="1.8" rx="5.6" ry="7.9" transform="rotate(17 3.6 1.8)"/>
<ellipse class="o" style="stroke-width:1.9" cx="3.4" cy="2" rx="2.7" ry="5.2" transform="rotate(17 3.4 2)"/>
</g>
<g transform="translate(2131.5 250.6) rotate(19.5) scale(1.0)">
<path class="p" style="stroke-width:1.9" d="M5 -6.1 L39 -6.1 Q42.8 -5.6 42.8 -0.5 Q42.8 4.6 39 5.1 L5 5.1Z"/>
<path class="o" style="stroke-width:1.2" d="M39 -6.1 Q35.4 -0.5 39 5.1"/>
<path class="p" style="stroke-width:2.3" d="M-1.2 -10.6 L3.8 -11 Q7.5 -10 7.9 -7 L8.2 4.4 Q7 8.5 3.7 9.3 L-1.7 9.2 L-6.5 5 L-7.7 -0.2 L-6.7 -6.2Z"/>
<path class="o" style="stroke-width:1.3" d="M-6.7 -6.2 L-2.8 -4.6 L1.6 -9.8 M-2.8 -4.6 L-1.8 4.8 L-6.5 5 M-1.8 4.8 L2.4 8.8 M2.4 -10.9 Q5.7 -5 5.5 0 Q5.3 5.5 3.1 9.3"/>
<path class="o" style="stroke-width:1.5" d="M7.6 -6.3999999999999995 Q4.4 -0.5 7.6 5.199999999999999"/>
</g>
<path class="ln" d="M2172 267 L2309.7 325.2 L2309.7 477.7 L2282.4 466.4"/>
<g transform="translate(2243.4 297.6) rotate(0) scale(0.9)">
<path class="p" style="stroke-width:2.1" d="M-9.3 -3.5 L-5.5 -8.6 L1.5 -10.6 L7 -7.6 L10 0 L8.5 6 L4 10.3 L-2 10.8 L-7 7.4 L-9.6 3Z"/>
<path class="o" style="stroke-width:1.6" d="M-5.5 -8.6 L-1.6 -5.4 L4.2 -7.2 M-1.6 -5.4 L-4.6 3.4 L-9.6 3 M-4.6 3.4 L-2.4 10.4"/>
<ellipse class="o" style="stroke-width:1.9" cx="3.6" cy="1.8" rx="5.6" ry="7.9" transform="rotate(17 3.6 1.8)"/>
<ellipse class="o" style="stroke-width:1.9" cx="3.4" cy="2" rx="2.7" ry="5.2" transform="rotate(17 3.4 2)"/>
</g>
<g transform="translate(2362.2 396.2) rotate(19.5) scale(1.0)">
<path class="p" style="stroke-width:1.9" d="M5 -6.1 L39 -6.1 Q42.8 -5.6 42.8 -0.5 Q42.8 4.6 39 5.1 L5 5.1Z"/>
<path class="o" style="stroke-width:1.2" d="M39 -6.1 Q35.4 -0.5 39 5.1"/>
<path class="p" style="stroke-width:2.3" d="M-1.2 -10.6 L3.8 -11 Q7.5 -10 7.9 -7 L8.2 4.4 Q7 8.5 3.7 9.3 L-1.7 9.2 L-6.5 5 L-7.7 -0.2 L-6.7 -6.2Z"/>
<path class="o" style="stroke-width:1.3" d="M-6.7 -6.2 L-2.8 -4.6 L1.6 -9.8 M-2.8 -4.6 L-1.8 4.8 L-6.5 5 M-1.8 4.8 L2.4 8.8 M2.4 -10.9 Q5.7 -5 5.5 0 Q5.3 5.5 3.1 9.3"/>
<path class="o" style="stroke-width:1.5" d="M7.6 -6.3999999999999995 Q4.4 -0.5 7.6 5.199999999999999"/>
</g>
<path class="ln" d="M2403 412 L2462.2 437.3 L2317.2 498.6 L2342.5 509.2"/>
<defs><g id="r16r">
<path class="p" d="M 950.6 519.8 Q 937.4 516.3 938.7 506.5 Q 940.8 498.2 956.2 489.8 L 971.5 472.4 L 1045.4 439.6 L 1055.1 443.8 L 1098.3 430.1 Q 1110.9 429.2 1117.8 434.7 Q 1122.7 439.6 1119.5 447.3 Q 1116.4 454.9 1109.5 457.7 L 957.6 519.1 Q 954.8 520.5 950.6 519.8 Z"/>
<path class="o" d="M 950.6 519.8 Q 948.5 508.6 957.6 503.0 L 1115.1 436.1 Q 1117.8 435.4 1119.5 438.2 M 972.2 471.7 L 978.5 479.3 L 1055.1 444.9 M 1053.7 442.7 L 1096.9 431.5 M 1057.9 446.3 L 1081.6 436.1 M 956.2 489.8 L 978.5 479.3"/>
<path class="o" d="M 978.5 479.3 L 1055.1 445.5" style="stroke-width:2"/>
<ellipse class="h" cx="956.9" cy="511.7" rx="1.1" ry="1.5" transform="rotate(15 956.9 511.7)"/>
<ellipse class="h" cx="962.7" cy="509.3" rx="1.1" ry="1.5" transform="rotate(15 962.7 509.3)"/>
<ellipse class="h" cx="968.7" cy="506.9" rx="1.1" ry="1.5" transform="rotate(15 968.7 506.9)"/>
<ellipse class="h" cx="982.4" cy="500.9" rx="1.1" ry="1.5" transform="rotate(15 982.4 500.9)"/>
<ellipse class="h" cx="991.7" cy="496.8" rx="1.1" ry="1.5" transform="rotate(15 991.7 496.8)"/>
<ellipse class="h" cx="1001.0" cy="492.6" rx="1.1" ry="1.5" transform="rotate(15 1001.0 492.6)"/>
<ellipse class="h" cx="1010.5" cy="488.8" rx="1.1" ry="1.5" transform="rotate(15 1010.5 488.8)"/>
<ellipse class="h" cx="1020.3" cy="484.6" rx="1.1" ry="1.5" transform="rotate(15 1020.3 484.6)"/>
<ellipse class="h" cx="1029.6" cy="480.7" rx="1.1" ry="1.5" transform="rotate(15 1029.6 480.7)"/>
<ellipse class="h" cx="1041.2" cy="476.1" rx="1.1" ry="1.5" transform="rotate(15 1041.2 476.1)"/>
<ellipse class="h" cx="1050.5" cy="472.1" rx="1.1" ry="1.5" transform="rotate(15 1050.5 472.1)"/>
<ellipse class="h" cx="1060.0" cy="468.2" rx="1.1" ry="1.5" transform="rotate(15 1060.0 468.2)"/>
<ellipse class="h" cx="1069.3" cy="464.0" rx="1.1" ry="1.5" transform="rotate(15 1069.3 464.0)"/>
<ellipse class="h" cx="1078.8" cy="460.2" rx="1.1" ry="1.5" transform="rotate(15 1078.8 460.2)"/>
<ellipse class="h" cx="1088.2" cy="456.3" rx="1.1" ry="1.5" transform="rotate(15 1088.2 456.3)"/>
<ellipse class="h" cx="1101.8" cy="450.5" rx="1.1" ry="1.5" transform="rotate(15 1101.8 450.5)"/>
<ellipse class="h" cx="1107.7" cy="448.0" rx="1.1" ry="1.5" transform="rotate(15 1107.7 448.0)"/>
<ellipse class="h" cx="1113.7" cy="445.5" rx="1.1" ry="1.5" transform="rotate(15 1113.7 445.5)"/>
<path class="d" d="M985.7 466.4a0.9 0.9 0 1 0 1.8 0a0.9 0.9 0 1 0 -1.8 0M995.0 462.3a0.9 0.9 0 1 0 1.8 0a0.9 0.9 0 1 0 -1.8 0M1004.7 458.4a0.9 0.9 0 1 0 1.8 0a0.9 0.9 0 1 0 -1.8 0M1015.9 453.3a0.9 0.9 0 1 0 1.8 0a0.9 0.9 0 1 0 -1.8 0M1025.7 449.4a0.9 0.9 0 1 0 1.8 0a0.9 0.9 0 1 0 -1.8 0M1035.1 445.2a0.9 0.9 0 1 0 1.8 0a0.9 0.9 0 1 0 -1.8 0"/>
</g><g id="r16l">
<path class="p" d="M 780.6 528.5 Q 779.2 518.7 791.7 513.8 L 943.7 450.4 Q 946.4 449.0 950.6 451.1 L 959.7 455.3 Q 963.2 458.1 961.1 465.7 Q 959.7 471.3 947.8 482.5 L 929.7 495.0 L 857.2 525.7 L 819.6 536.1 L 801.5 539.6 Q 795.9 540.3 793.1 538.2 Q 782.0 534.0 780.6 528.5 Z"/>
<path class="o" d="M 793.1 538.2 Q 790.3 528.5 801.5 522.9 L 811.3 520.1 L 844.0 506.2 L 847.5 502.7 L 920.0 472.0 L 926.9 475.5 L 952.0 461.6 Q 959.0 456.7 960.4 461.6 M 844.0 505.5 L 852.4 510.3 L 854.5 507.6 L 926.9 475.5 M 852.4 510.3 Q 857.2 507.6 855.2 513.8"/>
<path class="o" d="M 795.9 531.3 Q 795.9 525.7 808.5 521.5 L 823.1 520.1 L 823.1 529.9 L 800.1 535.4 Q 795.9 535.4 795.9 531.3 Z M 808.5 524.6 L 823.1 530.6 M 826.6 521.2 L 850.3 514.8 L 855.2 518.0 L 855.2 527.4 L 827.3 529.6 Z M 863.5 507.8 L 890.7 496.1 L 890.7 507.6 L 864.2 519.3 Z M 877.5 502.0 L 890.7 507.6 M 893.5 495.7 L 920.0 484.6 L 920.0 495.7 L 894.2 507.1 Z M 907.4 490.1 L 920.0 495.7 M 922.5 483.2 L 943.7 472.7 L 943.7 479.0 L 926.9 492.2 L 922.5 493.6 Z M 929.0 479.7 L 935.3 476.9 M 946.4 471.3 L 957.6 460.2 Q 960.4 458.8 959.7 464.4 L 957.6 469.9 L 946.4 478.3 Z M 861.1 509.7 L 861.1 521.5 M 892.1 497.1 L 892.1 507.6 M 921.4 484.6 L 921.4 494.3 M 945.1 472.7 L 945.1 479.0"/>
<path class="d" d="M873.0 496.7a1.0 1.0 0 1 0 2.0 0a1.0 1.0 0 1 0 -2.0 0M882.3 492.9a1.0 1.0 0 1 0 2.0 0a1.0 1.0 0 1 0 -2.0 0M893.9 488.0a1.0 1.0 0 1 0 2.0 0a1.0 1.0 0 1 0 -2.0 0M903.6 483.6a1.0 1.0 0 1 0 2.0 0a1.0 1.0 0 1 0 -2.0 0M913.1 479.7a1.0 1.0 0 1 0 2.0 0a1.0 1.0 0 1 0 -2.0 0M842.3 524.6a1.0 1.0 0 1 0 2.0 0a1.0 1.0 0 1 0 -2.0 0M851.8 520.5a1.0 1.0 0 1 0 2.0 0a1.0 1.0 0 1 0 -2.0 0M870.2 512.4a1.0 1.0 0 1 0 2.0 0a1.0 1.0 0 1 0 -2.0 0M901.1 499.2a1.0 1.0 0 1 0 2.0 0a1.0 1.0 0 1 0 -2.0 0M910.6 495.3a1.0 1.0 0 1 0 2.0 0a1.0 1.0 0 1 0 -2.0 0M929.0 487.4a1.0 1.0 0 1 0 2.0 0a1.0 1.0 0 1 0 -2.0 0"/>
</g></defs>
<path d="M887.5 200 L887.5 268" stroke="#fff" stroke-width="9" fill="none"/>
<path class="ln" d="M887.5 153 L887.5 270.5"/>
<path class="ln" style="stroke-width:2.8" d="M887.5 288.8 L887.5 295.7 L864.7 306.2 L864.7 640"/>
<path d="M854.0 449.2 L864.5 453.9 L867.8 452.5 L857.3 447.8Z M862.4 445.6 L872.9 450.3 L883.7 445.6 L873.2 440.9Z M876.2 439.6 L886.7 444.3 L896.9 439.9 L886.4 435.2Z M889.4 433.9 L899.9 438.6 L910.1 434.2 L899.6 429.5Z M902.6 428.2 L913.1 432.9 L922.7 428.8 L912.2 424.1Z M912.8 423.8 L923.8 428.8 L928.0 427.0 L917.0 422.0Z " fill="#fff"/><path class="o" style="stroke-width:1.3" d="M854.0 449.2 L915.2 422.8 M854.0 449.2 L864.5 453.9 L867.8 452.5 L857.3 447.8 M862.4 445.6 L872.9 450.3 L883.7 445.6 L873.2 440.9 M876.2 439.6 L886.7 444.3 L896.9 439.9 L886.4 435.2 M889.4 433.9 L899.9 438.6 L910.1 434.2 L899.6 429.5 M902.6 428.2 L913.1 432.9 L922.7 428.8 L912.2 424.1 M912.8 423.8 L923.8 428.8 L928.0 427.0 L917.0 422.0 "/>
<path d="M854.0 466.6 L864.5 471.3 L867.8 469.9 L857.3 465.2Z M862.4 463.0 L872.9 467.7 L883.7 463.0 L873.2 458.3Z M876.2 457.0 L886.7 461.7 L896.9 457.3 L886.4 452.6Z M889.4 451.3 L899.9 456.0 L910.1 451.6 L899.6 446.9Z M902.6 445.6 L913.1 450.3 L922.7 446.2 L912.2 441.5Z M912.8 441.2 L923.8 446.2 L928.0 444.4 L917.0 439.4Z " fill="#fff"/><path class="o" style="stroke-width:1.3" d="M854.0 466.6 L915.2 440.2 M854.0 466.6 L864.5 471.3 L867.8 469.9 L857.3 465.2 M862.4 463.0 L872.9 467.7 L883.7 463.0 L873.2 458.3 M876.2 457.0 L886.7 461.7 L896.9 457.3 L886.4 452.6 M889.4 451.3 L899.9 456.0 L910.1 451.6 L899.6 446.9 M902.6 445.6 L913.1 450.3 L922.7 446.2 L912.2 441.5 M912.8 441.2 L923.8 446.2 L928.0 444.4 L917.0 439.4 "/>
<path class="ln" style="stroke-width:2.4" d="M864.7 440 L864.7 500"/>
<use href="#r16l"/>
<path class="ln" style="stroke-width:2.4" d="M864.7 440 L864.7 500"/>
<path class="ln" d="M1005.3 326.5 L1005.3 458"/>
<path d="M996.9 352.4 L1007.4 357.1 L1010.7 355.7 L1000.2 351.0Z M1005.3 348.8 L1015.8 353.5 L1026.6 348.8 L1016.1 344.1Z M1019.1 342.8 L1029.6 347.5 L1039.8 343.1 L1029.3 338.4Z M1032.3 337.1 L1042.8 341.8 L1053.0 337.4 L1042.5 332.7Z M1045.5 331.4 L1056.0 336.1 L1065.6 332.0 L1055.1 327.3Z M1055.7 327.0 L1066.7 332.0 L1070.9 330.2 L1059.9 325.2Z " fill="#fff"/><path class="o" style="stroke-width:1.3" d="M996.9 352.4 L1058.1 326.0 M996.9 352.4 L1007.4 357.1 L1010.7 355.7 L1000.2 351.0 M1005.3 348.8 L1015.8 353.5 L1026.6 348.8 L1016.1 344.1 M1019.1 342.8 L1029.6 347.5 L1039.8 343.1 L1029.3 338.4 M1032.3 337.1 L1042.8 341.8 L1053.0 337.4 L1042.5 332.7 M1045.5 331.4 L1056.0 336.1 L1065.6 332.0 L1055.1 327.3 M1055.7 327.0 L1066.7 332.0 L1070.9 330.2 L1059.9 325.2 "/>
<path d="M996.9 404.0 L1007.4 408.7 L1010.7 407.3 L1000.2 402.6Z M1005.3 400.4 L1015.8 405.1 L1026.6 400.4 L1016.1 395.7Z M1019.1 394.4 L1029.6 399.1 L1039.8 394.7 L1029.3 390.0Z M1032.3 388.7 L1042.8 393.4 L1053.0 389.0 L1042.5 384.3Z M1045.5 383.0 L1056.0 387.7 L1065.6 383.6 L1055.1 378.9Z M1055.7 378.6 L1066.7 383.6 L1070.9 381.8 L1059.9 376.8Z " fill="#fff"/><path class="o" style="stroke-width:1.3" d="M996.9 404.0 L1058.1 377.6 M996.9 404.0 L1007.4 408.7 L1010.7 407.3 L1000.2 402.6 M1005.3 400.4 L1015.8 405.1 L1026.6 400.4 L1016.1 395.7 M1019.1 394.4 L1029.6 399.1 L1039.8 394.7 L1029.3 390.0 M1032.3 388.7 L1042.8 393.4 L1053.0 389.0 L1042.5 384.3 M1045.5 383.0 L1056.0 387.7 L1065.6 383.6 L1055.1 378.9 M1055.7 378.6 L1066.7 383.6 L1070.9 381.8 L1059.9 376.8 "/>
<path class="ln" d="M1005.3 340 L1005.3 352 M1005.3 392 L1005.3 404"/>
<use href="#r16r"/>
<path class="ln" d="M1005.3 440 L1005.3 458"/>
<path class="ln" style="stroke-width:2.8" d="M1029.3 445.5 L1012.4 437.7 L1012.4 462"/>
<path class="ln" style="stroke-width:2.8;stroke-dasharray:7.8 2.8" d="M1012.4 462 L1012.4 592"/>
<path class="ln" style="stroke-width:2.4" d="M1012.8 592.4 L983.3 580.9"/>
<path class="ln" style="stroke-width:1.5;stroke-dasharray:6 3" d="M1094.3 435.4 L1094.3 597.6"/>
<g transform="translate(947.1 564.7) rotate(21.5) scale(1.0)">
<path class="p" style="stroke-width:1.9" d="M5 -6.1 L37 -6.1 Q40.8 -5.6 40.8 -0.5 Q40.8 4.6 37 5.1 L5 5.1Z"/>
<path class="o" style="stroke-width:1.2" d="M37 -6.1 Q33.4 -0.5 37 5.1"/>
<path class="p" style="stroke-width:2.3" d="M-1.2 -10.6 L3.8 -11 Q7.5 -10 7.9 -7 L8.2 4.4 Q7 8.5 3.7 9.3 L-1.7 9.2 L-6.5 5 L-7.7 -0.2 L-6.7 -6.2Z"/>
<path class="o" style="stroke-width:1.3" d="M-6.7 -6.2 L-2.8 -4.6 L1.6 -9.8 M-2.8 -4.6 L-1.8 4.8 L-6.5 5 M-1.8 4.8 L2.4 8.8 M2.4 -10.9 Q5.7 -5 5.5 0 Q5.3 5.5 3.1 9.3"/>
<path class="o" style="stroke-width:1.5" d="M7.6 -6.3999999999999995 Q4.4 -0.5 7.6 5.199999999999999"/>
</g>
<path class="ln" d="M1069.2 464.6 L1173 509.8"/>
<ellipse class="p" style="stroke-width:1.8" cx="1124.8" cy="487.7" rx="9" ry="12.6" transform="rotate(14 1124.8 487.7)"/>
<ellipse class="o" style="stroke-width:1.2" cx="1123.4" cy="488" rx="8.2" ry="11.8" transform="rotate(14 1123.4 488)"/>
<ellipse class="p" style="stroke-width:1.8" cx="1125" cy="487.6" rx="3.4" ry="5.4" transform="rotate(14 1125 487.6)"/>
<path class="ln" d="M1125 487.6 L1140 494.2"/>
<g transform="translate(1180.7 512.6) rotate(0) scale(1.0)">
<path class="p" style="stroke-width:2.1" d="M-9.3 -3.5 L-5.5 -8.6 L1.5 -10.6 L7 -7.6 L10 0 L8.5 6 L4 10.3 L-2 10.8 L-7 7.4 L-9.6 3Z"/>
<path class="o" style="stroke-width:1.6" d="M-5.5 -8.6 L-1.6 -5.4 L4.2 -7.2 M-1.6 -5.4 L-4.6 3.4 L-9.6 3 M-4.6 3.4 L-2.4 10.4"/>
<ellipse class="o" style="stroke-width:1.9" cx="3.6" cy="1.8" rx="5.6" ry="7.9" transform="rotate(17 3.6 1.8)"/>
<ellipse class="o" style="stroke-width:1.9" cx="3.4" cy="2" rx="2.7" ry="5.2" transform="rotate(17 3.4 2)"/>
</g>
<path class="ln" d="M1027.3 270.8 L1126.6 314 M1173.9 333.5 L1225.5 355.8"/>
<g transform="translate(1133.5 316.8) rotate(21.1) scale(1.0)">
<path class="p" style="stroke-width:1.9" d="M5 -6.1 L38 -6.1 Q41.8 -5.6 41.8 -0.5 Q41.8 4.6 38 5.1 L5 5.1Z"/>
<path class="o" style="stroke-width:1.2" d="M38 -6.1 Q34.4 -0.5 38 5.1"/>
<path class="p" style="stroke-width:2.3" d="M-1.2 -10.6 L3.8 -11 Q7.5 -10 7.9 -7 L8.2 4.4 Q7 8.5 3.7 9.3 L-1.7 9.2 L-6.5 5 L-7.7 -0.2 L-6.7 -6.2Z"/>
<path class="o" style="stroke-width:1.3" d="M-6.7 -6.2 L-2.8 -4.6 L1.6 -9.8 M-2.8 -4.6 L-1.8 4.8 L-6.5 5 M-1.8 4.8 L2.4 8.8 M2.4 -10.9 Q5.7 -5 5.5 0 Q5.3 5.5 3.1 9.3"/>
<path class="o" style="stroke-width:1.5" d="M7.6 -6.3999999999999995 Q4.4 -0.5 7.6 5.199999999999999"/>
</g>
<g transform="translate(1234.6 360.0) rotate(0) scale(1.0)">
<path class="p" style="stroke-width:2.1" d="M-9.3 -3.5 L-5.5 -8.6 L1.5 -10.6 L7 -7.6 L10 0 L8.5 6 L4 10.3 L-2 10.8 L-7 7.4 L-9.6 3Z"/>
<path class="o" style="stroke-width:1.6" d="M-5.5 -8.6 L-1.6 -5.4 L4.2 -7.2 M-1.6 -5.4 L-4.6 3.4 L-9.6 3 M-4.6 3.4 L-2.4 10.4"/>
<ellipse class="o" style="stroke-width:1.9" cx="3.6" cy="1.8" rx="5.6" ry="7.9" transform="rotate(17 3.6 1.8)"/>
<ellipse class="o" style="stroke-width:1.9" cx="3.4" cy="2" rx="2.7" ry="5.2" transform="rotate(17 3.4 2)"/>
</g>
<path class="p" style="stroke-width:1.6" d="M881.6 114 L881.6 151 Q881.6 154.5 887.2 154.5 Q892.8 154.5 892.8 151 L892.8 114Z"/>
<path class="p" style="stroke-width:1.8" d="M876.6 105.5 Q877 101.6 887.5 101.6 Q898 101.6 898.4 105.5 L898.4 112 Q895 116 887.5 116 Q880 116 876.6 112Z"/>
<path class="o" d="M876.6 105.5 L882.5 108.8 L892.5 108.8 L898.4 105.5 M882.5 108.8 L882.5 115.6 M892.5 108.8 L892.5 115.6"/>
<ellipse class="p" style="stroke-width:1.9" cx="864" cy="587.6" rx="12.6" ry="6.1"/>
<ellipse class="p" style="stroke-width:1.9" cx="864" cy="585" rx="12.6" ry="6.1"/>
<ellipse class="p" style="stroke-width:1.9" cx="864" cy="584.4" rx="5.6" ry="2.5"/>
<path class="ln" style="stroke-width:2.8" d="M864.7 575 L864.7 585"/>
<path class="p" style="stroke-width:1.9" d="M853 643 L858 639 L870 639 L875.5 643 L875.5 653 Q870 658 864 658 Q858 658 853 653Z"/>
<path class="o" style="stroke-width:1.4" d="M853 643 L858.5 647 L870 647 L875.5 643 M858.5 647 L858.5 657 M870 647 L870 657"/>
<ellipse class="p" style="stroke-width:1.5" cx="864.2" cy="643" rx="5" ry="2.4"/>
<defs><g id="plate2"><path class="p" d="M 755.5 889.7 Q 756.2 885.9 759.4 883.9 L 986.6 788.1 Q 990.5 789.4 990.9 792.7 L 990.9 859.6 L 944.3 910.5 L 803.2 970.4 L 755.5 957.7 Z"/>
<path class="o" d="M 759.4 883.9 L 986.6 788.1" style="stroke-width:2"/>
<path class="o" d="M 757.3 887.2 L 757.3 958.2"/>
<path class="d" d="M979.0 796.5a1.5 1.5 0 1 0 3.0 0a1.5 1.5 0 1 0 -3.0 0M979.0 808.8a1.5 1.5 0 1 0 3.0 0a1.5 1.5 0 1 0 -3.0 0M952.7 807.8a1.5 1.5 0 1 0 3.0 0a1.5 1.5 0 1 0 -3.0 0M952.7 819.8a1.5 1.5 0 1 0 3.0 0a1.5 1.5 0 1 0 -3.0 0M923.6 819.8a1.5 1.5 0 1 0 3.0 0a1.5 1.5 0 1 0 -3.0 0M923.6 832.5a1.5 1.5 0 1 0 3.0 0a1.5 1.5 0 1 0 -3.0 0M897.7 830.8a1.5 1.5 0 1 0 3.0 0a1.5 1.5 0 1 0 -3.0 0M897.7 843.5a1.5 1.5 0 1 0 3.0 0a1.5 1.5 0 1 0 -3.0 0M872.2 841.6a1.5 1.5 0 1 0 3.0 0a1.5 1.5 0 1 0 -3.0 0M872.2 854.1a1.5 1.5 0 1 0 3.0 0a1.5 1.5 0 1 0 -3.0 0M846.6 852.5a1.5 1.5 0 1 0 3.0 0a1.5 1.5 0 1 0 -3.0 0M846.6 864.9a1.5 1.5 0 1 0 3.0 0a1.5 1.5 0 1 0 -3.0 0M831.1 859.1a1.5 1.5 0 1 0 3.0 0a1.5 1.5 0 1 0 -3.0 0M831.1 871.2a1.5 1.5 0 1 0 3.0 0a1.5 1.5 0 1 0 -3.0 0M820.7 863.5a1.5 1.5 0 1 0 3.0 0a1.5 1.5 0 1 0 -3.0 0M820.7 875.9a1.5 1.5 0 1 0 3.0 0a1.5 1.5 0 1 0 -3.0 0M795.1 874.2a1.5 1.5 0 1 0 3.0 0a1.5 1.5 0 1 0 -3.0 0M795.1 886.5a1.5 1.5 0 1 0 3.0 0a1.5 1.5 0 1 0 -3.0 0M769.3 885.0a1.5 1.5 0 1 0 3.0 0a1.5 1.5 0 1 0 -3.0 0M769.3 897.5a1.5 1.5 0 1 0 3.0 0a1.5 1.5 0 1 0 -3.0 0M985.7 825.0a1.5 1.5 0 1 0 3.0 0a1.5 1.5 0 1 0 -3.0 0M983.2 831.9a1.5 1.5 0 1 0 3.0 0a1.5 1.5 0 1 0 -3.0 0M977.3 833.4a1.5 1.5 0 1 0 3.0 0a1.5 1.5 0 1 0 -3.0 0M963.1 839.5a1.5 1.5 0 1 0 3.0 0a1.5 1.5 0 1 0 -3.0 0M957.3 842.5a1.5 1.5 0 1 0 3.0 0a1.5 1.5 0 1 0 -3.0 0M954.9 838.0a1.5 1.5 0 1 0 3.0 0a1.5 1.5 0 1 0 -3.0 0M935.0 827.3a1.5 1.5 0 1 0 3.0 0a1.5 1.5 0 1 0 -3.0 0M976.0 845.3a1.5 1.5 0 1 0 3.0 0a1.5 1.5 0 1 0 -3.0 0M964.4 850.3a1.5 1.5 0 1 0 3.0 0a1.5 1.5 0 1 0 -3.0 0M985.1 849.0a1.5 1.5 0 1 0 3.0 0a1.5 1.5 0 1 0 -3.0 0M941.7 849.4a1.5 1.5 0 1 0 3.0 0a1.5 1.5 0 1 0 -3.0 0M931.1 853.8a1.5 1.5 0 1 0 3.0 0a1.5 1.5 0 1 0 -3.0 0M919.1 852.8a1.5 1.5 0 1 0 3.0 0a1.5 1.5 0 1 0 -3.0 0M902.3 860.2a1.5 1.5 0 1 0 3.0 0a1.5 1.5 0 1 0 -3.0 0M910.7 862.6a1.5 1.5 0 1 0 3.0 0a1.5 1.5 0 1 0 -3.0 0M949.2 864.2a1.5 1.5 0 1 0 3.0 0a1.5 1.5 0 1 0 -3.0 0M983.2 862.3a1.5 1.5 0 1 0 3.0 0a1.5 1.5 0 1 0 -3.0 0M957.3 873.2a1.5 1.5 0 1 0 3.0 0a1.5 1.5 0 1 0 -3.0 0M954.9 880.0a1.5 1.5 0 1 0 3.0 0a1.5 1.5 0 1 0 -3.0 0M941.5 880.0a1.5 1.5 0 1 0 3.0 0a1.5 1.5 0 1 0 -3.0 0M931.1 884.3a1.5 1.5 0 1 0 3.0 0a1.5 1.5 0 1 0 -3.0 0M923.9 871.6a1.5 1.5 0 1 0 3.0 0a1.5 1.5 0 1 0 -3.0 0M914.3 875.8a1.5 1.5 0 1 0 3.0 0a1.5 1.5 0 1 0 -3.0 0M898.0 885.9a1.5 1.5 0 1 0 3.0 0a1.5 1.5 0 1 0 -3.0 0M910.7 893.0a1.5 1.5 0 1 0 3.0 0a1.5 1.5 0 1 0 -3.0 0M919.1 894.9a1.5 1.5 0 1 0 3.0 0a1.5 1.5 0 1 0 -3.0 0M893.8 899.7a1.5 1.5 0 1 0 3.0 0a1.5 1.5 0 1 0 -3.0 0M902.3 902.0a1.5 1.5 0 1 0 3.0 0a1.5 1.5 0 1 0 -3.0 0M872.2 893.6a1.5 1.5 0 1 0 3.0 0a1.5 1.5 0 1 0 -3.0 0M842.1 885.6a1.5 1.5 0 1 0 3.0 0a1.5 1.5 0 1 0 -3.0 0M825.2 892.7a1.5 1.5 0 1 0 3.0 0a1.5 1.5 0 1 0 -3.0 0M833.6 894.9a1.5 1.5 0 1 0 3.0 0a1.5 1.5 0 1 0 -3.0 0M812.9 903.3a1.5 1.5 0 1 0 3.0 0a1.5 1.5 0 1 0 -3.0 0M802.8 907.9a1.5 1.5 0 1 0 3.0 0a1.5 1.5 0 1 0 -3.0 0M789.4 907.9a1.5 1.5 0 1 0 3.0 0a1.5 1.5 0 1 0 -3.0 0M786.8 914.6a1.5 1.5 0 1 0 3.0 0a1.5 1.5 0 1 0 -3.0 0M781.0 916.5a1.5 1.5 0 1 0 3.0 0a1.5 1.5 0 1 0 -3.0 0M766.7 922.5a1.5 1.5 0 1 0 3.0 0a1.5 1.5 0 1 0 -3.0 0M761.2 925.3a1.5 1.5 0 1 0 3.0 0a1.5 1.5 0 1 0 -3.0 0M758.6 920.8a1.5 1.5 0 1 0 3.0 0a1.5 1.5 0 1 0 -3.0 0M779.7 928.2a1.5 1.5 0 1 0 3.0 0a1.5 1.5 0 1 0 -3.0 0M795.1 929.2a1.5 1.5 0 1 0 3.0 0a1.5 1.5 0 1 0 -3.0 0M796.4 932.8a1.5 1.5 0 1 0 3.0 0a1.5 1.5 0 1 0 -3.0 0M768.3 933.4a1.5 1.5 0 1 0 3.0 0a1.5 1.5 0 1 0 -3.0 0M759.2 944.8a1.5 1.5 0 1 0 3.0 0a1.5 1.5 0 1 0 -3.0 0M786.8 945.1a1.5 1.5 0 1 0 3.0 0a1.5 1.5 0 1 0 -3.0 0M789.4 949.9a1.5 1.5 0 1 0 3.0 0a1.5 1.5 0 1 0 -3.0 0M761.2 956.1a1.5 1.5 0 1 0 3.0 0a1.5 1.5 0 1 0 -3.0 0M802.8 938.5a1.5 1.5 0 1 0 3.0 0a1.5 1.5 0 1 0 -3.0 0M812.9 934.1a1.5 1.5 0 1 0 3.0 0a1.5 1.5 0 1 0 -3.0 0M825.2 934.7a1.5 1.5 0 1 0 3.0 0a1.5 1.5 0 1 0 -3.0 0M819.4 923.4a1.5 1.5 0 1 0 3.0 0a1.5 1.5 0 1 0 -3.0 0M820.3 915.2a1.5 1.5 0 1 0 3.0 0a1.5 1.5 0 1 0 -3.0 0M830.2 911.1a1.5 1.5 0 1 0 3.0 0a1.5 1.5 0 1 0 -3.0 0M846.6 907.5a1.5 1.5 0 1 0 3.0 0a1.5 1.5 0 1 0 -3.0 0M833.6 925.3a1.5 1.5 0 1 0 3.0 0a1.5 1.5 0 1 0 -3.0 0M842.1 927.5a1.5 1.5 0 1 0 3.0 0a1.5 1.5 0 1 0 -3.0 0M850.2 918.2a1.5 1.5 0 1 0 3.0 0a1.5 1.5 0 1 0 -3.0 0M858.6 920.4a1.5 1.5 0 1 0 3.0 0a1.5 1.5 0 1 0 -3.0 0M867.0 911.1a1.5 1.5 0 1 0 3.0 0a1.5 1.5 0 1 0 -3.0 0M877.3 906.8a1.5 1.5 0 1 0 3.0 0a1.5 1.5 0 1 0 -3.0 0M802.8 962.5a1.5 1.5 0 1 0 3.0 0a1.5 1.5 0 1 0 -3.0 0M808.0 960.3a1.5 1.5 0 1 0 3.0 0a1.5 1.5 0 1 0 -3.0 0M813.2 957.7a1.5 1.5 0 1 0 3.0 0a1.5 1.5 0 1 0 -3.0 0M825.2 952.8a1.5 1.5 0 1 0 3.0 0a1.5 1.5 0 1 0 -3.0 0M833.6 949.3a1.5 1.5 0 1 0 3.0 0a1.5 1.5 0 1 0 -3.0 0M842.1 945.8a1.5 1.5 0 1 0 3.0 0a1.5 1.5 0 1 0 -3.0 0M850.5 942.2a1.5 1.5 0 1 0 3.0 0a1.5 1.5 0 1 0 -3.0 0M858.9 938.5a1.5 1.5 0 1 0 3.0 0a1.5 1.5 0 1 0 -3.0 0M867.0 935.0a1.5 1.5 0 1 0 3.0 0a1.5 1.5 0 1 0 -3.0 0M877.3 930.9a1.5 1.5 0 1 0 3.0 0a1.5 1.5 0 1 0 -3.0 0M885.7 927.3a1.5 1.5 0 1 0 3.0 0a1.5 1.5 0 1 0 -3.0 0M893.8 923.8a1.5 1.5 0 1 0 3.0 0a1.5 1.5 0 1 0 -3.0 0M902.3 920.2a1.5 1.5 0 1 0 3.0 0a1.5 1.5 0 1 0 -3.0 0M910.7 916.7a1.5 1.5 0 1 0 3.0 0a1.5 1.5 0 1 0 -3.0 0M919.1 913.0a1.5 1.5 0 1 0 3.0 0a1.5 1.5 0 1 0 -3.0 0M931.1 908.1a1.5 1.5 0 1 0 3.0 0a1.5 1.5 0 1 0 -3.0 0M936.3 905.9a1.5 1.5 0 1 0 3.0 0a1.5 1.5 0 1 0 -3.0 0M941.5 903.6a1.5 1.5 0 1 0 3.0 0a1.5 1.5 0 1 0 -3.0 0"/>
<ellipse class="h" cx="967.4" cy="802.1" rx="1.9" ry="2.7" transform="rotate(20 967.4 802.1)"/>
<ellipse class="h" cx="971.7" cy="837.3" rx="1.9" ry="2.7" transform="rotate(20 971.7 837.3)"/>
<ellipse class="h" cx="895.3" cy="869.4" rx="1.9" ry="2.7" transform="rotate(20 895.3 869.4)"/>
<ellipse class="h" cx="878.8" cy="877.4" rx="1.9" ry="2.7" transform="rotate(20 878.8 877.4)"/>
<ellipse class="h" cx="868.2" cy="881.6" rx="1.9" ry="2.7" transform="rotate(20 868.2 881.6)"/>
<ellipse class="h" cx="851.7" cy="887.8" rx="1.9" ry="2.7" transform="rotate(20 851.7 887.8)"/>
<ellipse class="h" cx="775.3" cy="920.4" rx="1.9" ry="2.7" transform="rotate(20 775.3 920.4)"/></g>
<g id="br3"><path class="p" d="M 464.0 1010.1 L 470.3 1012.4 L 495.8 1002.2 L 496.2 1083.4 L 471.1 1093.7 L 469.6 1094.1 L 463.7 1091.9 Z"/>
<path class="o" d="M 470.3 1012.4 L 495.8 1002.2" style="stroke-width:2"/>
<path class="o" d="M 470.3 1012.5 L 470.3 1093.9 M 469.3 1012.2 L 469.3 1093.9 M 489.9 999.1 L 495.6 1001.0 L 495.8 1002.2 M 490.3 999.1 L 490.4 1004.1"/>
<path class="d" d="M474.6 1015.8a1.3 1.3 0 1 0 2.6 0a1.3 1.3 0 1 0 -2.6 0M474.6 1028.4a1.3 1.3 0 1 0 2.6 0a1.3 1.3 0 1 0 -2.6 0M474.6 1045.7a1.3 1.3 0 1 0 2.6 0a1.3 1.3 0 1 0 -2.6 0M491.2 1009.0a1.3 1.3 0 1 0 2.6 0a1.3 1.3 0 1 0 -2.6 0M491.2 1021.4a1.3 1.3 0 1 0 2.6 0a1.3 1.3 0 1 0 -2.6 0M491.2 1038.6a1.3 1.3 0 1 0 2.6 0a1.3 1.3 0 1 0 -2.6 0M491.2 1080.6a1.3 1.3 0 1 0 2.6 0a1.3 1.3 0 1 0 -2.6 0M474.7 1087.7a1.3 1.3 0 1 0 2.6 0a1.3 1.3 0 1 0 -2.6 0"/>
<ellipse class="h" cx="484.2" cy="1062.7" rx="3.6" ry="5.4" transform="rotate(22 484.2 1062.7)"/></g>
<g id="br3r"><path class="p" d="M 1726.2 1416.8 Q 1726.6 1415.6 1728.1 1415.4 L 1750.7 1406.1 Q 1752.9 1405.2 1755.1 1406.5 L 1758.8 1408.3 L 1758.8 1489.7 L 1756.9 1490.4 L 1752.5 1488.3 L 1732.5 1496.7 L 1732.5 1500.8 L 1731.1 1501.5 L 1726.2 1498.9 Z"/>
<path class="o" d="M 1728.1 1415.6 L 1750.7 1406.1 Q 1752.9 1405.2 1755.1 1406.5 L 1758.8 1408.3 L 1758.8 1489.7 M 1728.1 1417.2 L 1732.5 1419.4 L 1732.5 1496.7" style="stroke-width:2"/>
<path class="o" d="M 1752.5 1407.0 L 1752.5 1488.3 M 1753.5 1407.4 L 1753.5 1488.8 M 1726.2 1416.8 L 1728.1 1417.2"/>
<path class="d" d="M1746.7 1413.0a1.4 1.4 0 1 0 2.8 0a1.4 1.4 0 1 0 -2.8 0M1746.7 1425.3a1.4 1.4 0 1 0 2.8 0a1.4 1.4 0 1 0 -2.8 0M1746.7 1442.7a1.4 1.4 0 1 0 2.8 0a1.4 1.4 0 1 0 -2.8 0M1746.7 1484.7a1.4 1.4 0 1 0 2.8 0a1.4 1.4 0 1 0 -2.8 0"/>
<ellipse class="h" cx="1739.7" cy="1466.6" rx="3.6" ry="5.4" transform="rotate(22 1739.7 1466.6)"/></g>
<g id="rail1"><path class="p" d="M233.4 1353.5 L346.3 1305.4 L409.1 1279.9 L1105.9 987.3 L1125.4 976.1 L1206.3 940.6 L1197.9 934.3 L1197.9 934.3 L396.5 1275.1 L225.1 1347.2 L222 1346.2Z"/>
<path class="o" d="M234.0 1351.9 L346.9 1303.8 L409.7 1278.3 L1106.5 985.7 L1126.0 974.5 L1206.9 939.0"/>
<path class="p" d="M256.0 1282.9 L374.6 1233.3 L409.1 1220.8 L1195.1 888.3 L1197.9 887.6 L1197.9 934.3 L1197.9 934.3 L396.5 1275.1 L225.1 1347.2 L222 1346.2 L222 1303.8 L240.8 1295.4 Q244.3 1294 244.3 1290.8 L244.3 1284.5 Q244.5 1279 247 1277.8Z"/>
<path class="p" d="M247 1277.8 L1198.6 875.4 L1208.4 879.5 L1208.4 881.5 L1195.1 888.3 L409.1 1220.8 L374.6 1233.3 L256.0 1282.9Z"/>
<path class="o" d="M256.5 1284.6 L375.1 1235.0 L409.6 1222.5 L1195.6 890.0"/>
<path class="d" style="fill:#222" d="M264.5 1289.1a1.3 1.3 0 1 0 2.6 0a1.3 1.3 0 1 0 -2.6 0M264.3 1323.7a1.3 1.3 0 1 0 2.6 0a1.3 1.3 0 1 0 -2.6 0M275.7 1290.2a1.3 1.3 0 1 0 2.6 0a1.3 1.3 0 1 0 -2.6 0M279.1 1319.4a1.3 1.3 0 1 0 2.6 0a1.3 1.3 0 1 0 -2.6 0M286.8 1295.2a1.3 1.3 0 1 0 2.6 0a1.3 1.3 0 1 0 -2.6 0M287.7 1303.2a1.3 1.3 0 1 0 2.6 0a1.3 1.3 0 1 0 -2.6 0M289.0 1312.6a1.3 1.3 0 1 0 2.6 0a1.3 1.3 0 1 0 -2.6 0M325.3 1269.9a1.3 1.3 0 1 0 2.6 0a1.3 1.3 0 1 0 -2.6 0M328.0 1279.1a1.3 1.3 0 1 0 2.6 0a1.3 1.3 0 1 0 -2.6 0M337.7 1275.3a1.3 1.3 0 1 0 2.6 0a1.3 1.3 0 1 0 -2.6 0M341.6 1282.6a1.3 1.3 0 1 0 2.6 0a1.3 1.3 0 1 0 -2.6 0M339.8 1292.6a1.3 1.3 0 1 0 2.6 0a1.3 1.3 0 1 0 -2.6 0M349.6 1250.7a1.3 1.3 0 1 0 2.6 0a1.3 1.3 0 1 0 -2.6 0M350.4 1276.5a1.3 1.3 0 1 0 2.6 0a1.3 1.3 0 1 0 -2.6 0M353.2 1285.6a1.3 1.3 0 1 0 2.6 0a1.3 1.3 0 1 0 -2.6 0M362.7 1255.5a1.3 1.3 0 1 0 2.6 0a1.3 1.3 0 1 0 -2.6 0M364.9 1262.5a1.3 1.3 0 1 0 2.6 0a1.3 1.3 0 1 0 -2.6 0M362.8 1271.8a1.3 1.3 0 1 0 2.6 0a1.3 1.3 0 1 0 -2.6 0M378.6 1248.8a1.3 1.3 0 1 0 2.6 0a1.3 1.3 0 1 0 -2.6 0M378.5 1258.9a1.3 1.3 0 1 0 2.6 0a1.3 1.3 0 1 0 -2.6 0M379.1 1266.4a1.3 1.3 0 1 0 2.6 0a1.3 1.3 0 1 0 -2.6 0M378.1 1275.5a1.3 1.3 0 1 0 2.6 0a1.3 1.3 0 1 0 -2.6 0M387.1 1235.0a1.3 1.3 0 1 0 2.6 0a1.3 1.3 0 1 0 -2.6 0M389.7 1253.2a1.3 1.3 0 1 0 2.6 0a1.3 1.3 0 1 0 -2.6 0M391.5 1262.2a1.3 1.3 0 1 0 2.6 0a1.3 1.3 0 1 0 -2.6 0M400.0 1241.4a1.3 1.3 0 1 0 2.6 0a1.3 1.3 0 1 0 -2.6 0M400.1 1257.9a1.3 1.3 0 1 0 2.6 0a1.3 1.3 0 1 0 -2.6 0M416.5 1227.8a1.3 1.3 0 1 0 2.6 0a1.3 1.3 0 1 0 -2.6 0M413.8 1233.9a1.3 1.3 0 1 0 2.6 0a1.3 1.3 0 1 0 -2.6 0M416.5 1242.8a1.3 1.3 0 1 0 2.6 0a1.3 1.3 0 1 0 -2.6 0M413.0 1253.0a1.3 1.3 0 1 0 2.6 0a1.3 1.3 0 1 0 -2.6 0M413.2 1259.5a1.3 1.3 0 1 0 2.6 0a1.3 1.3 0 1 0 -2.6 0M424.5 1220.6a1.3 1.3 0 1 0 2.6 0a1.3 1.3 0 1 0 -2.6 0M428.5 1230.2a1.3 1.3 0 1 0 2.6 0a1.3 1.3 0 1 0 -2.6 0M428.8 1237.4a1.3 1.3 0 1 0 2.6 0a1.3 1.3 0 1 0 -2.6 0M425.5 1246.5a1.3 1.3 0 1 0 2.6 0a1.3 1.3 0 1 0 -2.6 0M425.1 1254.7a1.3 1.3 0 1 0 2.6 0a1.3 1.3 0 1 0 -2.6 0M437.4 1215.7a1.3 1.3 0 1 0 2.6 0a1.3 1.3 0 1 0 -2.6 0M440.2 1241.6a1.3 1.3 0 1 0 2.6 0a1.3 1.3 0 1 0 -2.6 0M436.9 1248.4a1.3 1.3 0 1 0 2.6 0a1.3 1.3 0 1 0 -2.6 0M452.4 1236.0a1.3 1.3 0 1 0 2.6 0a1.3 1.3 0 1 0 -2.6 0M466.7 1204.2a1.3 1.3 0 1 0 2.6 0a1.3 1.3 0 1 0 -2.6 0M465.4 1215.1a1.3 1.3 0 1 0 2.6 0a1.3 1.3 0 1 0 -2.6 0M477.6 1209.8a1.3 1.3 0 1 0 2.6 0a1.3 1.3 0 1 0 -2.6 0M478.2 1226.6a1.3 1.3 0 1 0 2.6 0a1.3 1.3 0 1 0 -2.6 0M477.3 1233.5a1.3 1.3 0 1 0 2.6 0a1.3 1.3 0 1 0 -2.6 0M489.7 1193.7a1.3 1.3 0 1 0 2.6 0a1.3 1.3 0 1 0 -2.6 0M502.9 1189.9a1.3 1.3 0 1 0 2.6 0a1.3 1.3 0 1 0 -2.6 0M503.4 1196.8a1.3 1.3 0 1 0 2.6 0a1.3 1.3 0 1 0 -2.6 0M502.2 1214.8a1.3 1.3 0 1 0 2.6 0a1.3 1.3 0 1 0 -2.6 0M502.7 1223.3a1.3 1.3 0 1 0 2.6 0a1.3 1.3 0 1 0 -2.6 0M516.3 1183.6a1.3 1.3 0 1 0 2.6 0a1.3 1.3 0 1 0 -2.6 0M513.2 1193.3a1.3 1.3 0 1 0 2.6 0a1.3 1.3 0 1 0 -2.6 0M512.5 1202.4a1.3 1.3 0 1 0 2.6 0a1.3 1.3 0 1 0 -2.6 0M516.2 1217.4a1.3 1.3 0 1 0 2.6 0a1.3 1.3 0 1 0 -2.6 0M526.4 1188.4a1.3 1.3 0 1 0 2.6 0a1.3 1.3 0 1 0 -2.6 0M527.1 1212.1a1.3 1.3 0 1 0 2.6 0a1.3 1.3 0 1 0 -2.6 0M539.2 1174.8a1.3 1.3 0 1 0 2.6 0a1.3 1.3 0 1 0 -2.6 0M537.5 1207.2a1.3 1.3 0 1 0 2.6 0a1.3 1.3 0 1 0 -2.6 0M550.3 1168.2a1.3 1.3 0 1 0 2.6 0a1.3 1.3 0 1 0 -2.6 0M561.9 1181.1a1.3 1.3 0 1 0 2.6 0a1.3 1.3 0 1 0 -2.6 0M565.2 1188.5a1.3 1.3 0 1 0 2.6 0a1.3 1.3 0 1 0 -2.6 0M574.9 1166.1a1.3 1.3 0 1 0 2.6 0a1.3 1.3 0 1 0 -2.6 0M578.3 1173.8a1.3 1.3 0 1 0 2.6 0a1.3 1.3 0 1 0 -2.6 0M574.4 1183.4a1.3 1.3 0 1 0 2.6 0a1.3 1.3 0 1 0 -2.6 0M601.6 1146.3a1.3 1.3 0 1 0 2.6 0a1.3 1.3 0 1 0 -2.6 0M601.6 1156.3a1.3 1.3 0 1 0 2.6 0a1.3 1.3 0 1 0 -2.6 0M600.6 1163.6a1.3 1.3 0 1 0 2.6 0a1.3 1.3 0 1 0 -2.6 0M628.9 1137.4a1.3 1.3 0 1 0 2.6 0a1.3 1.3 0 1 0 -2.6 0M626.5 1145.4a1.3 1.3 0 1 0 2.6 0a1.3 1.3 0 1 0 -2.6 0M652.8 1127.1a1.3 1.3 0 1 0 2.6 0a1.3 1.3 0 1 0 -2.6 0M653.7 1152.6a1.3 1.3 0 1 0 2.6 0a1.3 1.3 0 1 0 -2.6 0M665.7 1120.3a1.3 1.3 0 1 0 2.6 0a1.3 1.3 0 1 0 -2.6 0M662.1 1145.7a1.3 1.3 0 1 0 2.6 0a1.3 1.3 0 1 0 -2.6 0M665.5 1154.2a1.3 1.3 0 1 0 2.6 0a1.3 1.3 0 1 0 -2.6 0M678.2 1114.2a1.3 1.3 0 1 0 2.6 0a1.3 1.3 0 1 0 -2.6 0M675.9 1133.1a1.3 1.3 0 1 0 2.6 0a1.3 1.3 0 1 0 -2.6 0M674.9 1140.6a1.3 1.3 0 1 0 2.6 0a1.3 1.3 0 1 0 -2.6 0M691.4 1134.0a1.3 1.3 0 1 0 2.6 0a1.3 1.3 0 1 0 -2.6 0M689.3 1143.0a1.3 1.3 0 1 0 2.6 0a1.3 1.3 0 1 0 -2.6 0M703.4 1121.8a1.3 1.3 0 1 0 2.6 0a1.3 1.3 0 1 0 -2.6 0M701.1 1131.0a1.3 1.3 0 1 0 2.6 0a1.3 1.3 0 1 0 -2.6 0M716.0 1101.1a1.3 1.3 0 1 0 2.6 0a1.3 1.3 0 1 0 -2.6 0M714.6 1107.1a1.3 1.3 0 1 0 2.6 0a1.3 1.3 0 1 0 -2.6 0M714.2 1116.6a1.3 1.3 0 1 0 2.6 0a1.3 1.3 0 1 0 -2.6 0M716.5 1124.7a1.3 1.3 0 1 0 2.6 0a1.3 1.3 0 1 0 -2.6 0M715.7 1133.2a1.3 1.3 0 1 0 2.6 0a1.3 1.3 0 1 0 -2.6 0M727.7 1093.1a1.3 1.3 0 1 0 2.6 0a1.3 1.3 0 1 0 -2.6 0M726.3 1104.1a1.3 1.3 0 1 0 2.6 0a1.3 1.3 0 1 0 -2.6 0M726.6 1118.2a1.3 1.3 0 1 0 2.6 0a1.3 1.3 0 1 0 -2.6 0M728.3 1128.9a1.3 1.3 0 1 0 2.6 0a1.3 1.3 0 1 0 -2.6 0M738.3 1088.2a1.3 1.3 0 1 0 2.6 0a1.3 1.3 0 1 0 -2.6 0M741.3 1096.3a1.3 1.3 0 1 0 2.6 0a1.3 1.3 0 1 0 -2.6 0M737.7 1113.2a1.3 1.3 0 1 0 2.6 0a1.3 1.3 0 1 0 -2.6 0M738.3 1121.9a1.3 1.3 0 1 0 2.6 0a1.3 1.3 0 1 0 -2.6 0M749.7 1084.5a1.3 1.3 0 1 0 2.6 0a1.3 1.3 0 1 0 -2.6 0M751.8 1091.3a1.3 1.3 0 1 0 2.6 0a1.3 1.3 0 1 0 -2.6 0M751.9 1100.2a1.3 1.3 0 1 0 2.6 0a1.3 1.3 0 1 0 -2.6 0M751.3 1108.8a1.3 1.3 0 1 0 2.6 0a1.3 1.3 0 1 0 -2.6 0M750.2 1117.4a1.3 1.3 0 1 0 2.6 0a1.3 1.3 0 1 0 -2.6 0M764.3 1079.5a1.3 1.3 0 1 0 2.6 0a1.3 1.3 0 1 0 -2.6 0M766.0 1086.0a1.3 1.3 0 1 0 2.6 0a1.3 1.3 0 1 0 -2.6 0M765.8 1096.3a1.3 1.3 0 1 0 2.6 0a1.3 1.3 0 1 0 -2.6 0M763.3 1104.7a1.3 1.3 0 1 0 2.6 0a1.3 1.3 0 1 0 -2.6 0M766.7 1112.9a1.3 1.3 0 1 0 2.6 0a1.3 1.3 0 1 0 -2.6 0M775.4 1073.9a1.3 1.3 0 1 0 2.6 0a1.3 1.3 0 1 0 -2.6 0M774.7 1082.5a1.3 1.3 0 1 0 2.6 0a1.3 1.3 0 1 0 -2.6 0M778.1 1088.7a1.3 1.3 0 1 0 2.6 0a1.3 1.3 0 1 0 -2.6 0M777.6 1096.7a1.3 1.3 0 1 0 2.6 0a1.3 1.3 0 1 0 -2.6 0M777.6 1107.6a1.3 1.3 0 1 0 2.6 0a1.3 1.3 0 1 0 -2.6 0M789.2 1077.0a1.3 1.3 0 1 0 2.6 0a1.3 1.3 0 1 0 -2.6 0M790.1 1083.6a1.3 1.3 0 1 0 2.6 0a1.3 1.3 0 1 0 -2.6 0M787.2 1091.4a1.3 1.3 0 1 0 2.6 0a1.3 1.3 0 1 0 -2.6 0M800.1 1078.3a1.3 1.3 0 1 0 2.6 0a1.3 1.3 0 1 0 -2.6 0M812.0 1067.0a1.3 1.3 0 1 0 2.6 0a1.3 1.3 0 1 0 -2.6 0M815.5 1073.4a1.3 1.3 0 1 0 2.6 0a1.3 1.3 0 1 0 -2.6 0M814.3 1082.0a1.3 1.3 0 1 0 2.6 0a1.3 1.3 0 1 0 -2.6 0M827.7 1053.1a1.3 1.3 0 1 0 2.6 0a1.3 1.3 0 1 0 -2.6 0M826.5 1061.0a1.3 1.3 0 1 0 2.6 0a1.3 1.3 0 1 0 -2.6 0M825.2 1067.6a1.3 1.3 0 1 0 2.6 0a1.3 1.3 0 1 0 -2.6 0M824.3 1078.1a1.3 1.3 0 1 0 2.6 0a1.3 1.3 0 1 0 -2.6 0M839.7 1071.6a1.3 1.3 0 1 0 2.6 0a1.3 1.3 0 1 0 -2.6 0M853.8 1050.5a1.3 1.3 0 1 0 2.6 0a1.3 1.3 0 1 0 -2.6 0M875.9 1047.3a1.3 1.3 0 1 0 2.6 0a1.3 1.3 0 1 0 -2.6 0M876.0 1056.1a1.3 1.3 0 1 0 2.6 0a1.3 1.3 0 1 0 -2.6 0M891.4 1026.1a1.3 1.3 0 1 0 2.6 0a1.3 1.3 0 1 0 -2.6 0M914.8 1024.0a1.3 1.3 0 1 0 2.6 0a1.3 1.3 0 1 0 -2.6 0M913.7 1030.1a1.3 1.3 0 1 0 2.6 0a1.3 1.3 0 1 0 -2.6 0M913.6 1038.5a1.3 1.3 0 1 0 2.6 0a1.3 1.3 0 1 0 -2.6 0M916.2 1048.1a1.3 1.3 0 1 0 2.6 0a1.3 1.3 0 1 0 -2.6 0M939.7 1013.4a1.3 1.3 0 1 0 2.6 0a1.3 1.3 0 1 0 -2.6 0M941.4 1019.9a1.3 1.3 0 1 0 2.6 0a1.3 1.3 0 1 0 -2.6 0M939.2 1037.7a1.3 1.3 0 1 0 2.6 0a1.3 1.3 0 1 0 -2.6 0M953.9 998.9a1.3 1.3 0 1 0 2.6 0a1.3 1.3 0 1 0 -2.6 0M950.6 1024.3a1.3 1.3 0 1 0 2.6 0a1.3 1.3 0 1 0 -2.6 0M965.3 993.2a1.3 1.3 0 1 0 2.6 0a1.3 1.3 0 1 0 -2.6 0M962.9 1000.7a1.3 1.3 0 1 0 2.6 0a1.3 1.3 0 1 0 -2.6 0M965.5 1009.9a1.3 1.3 0 1 0 2.6 0a1.3 1.3 0 1 0 -2.6 0M979.1 989.9a1.3 1.3 0 1 0 2.6 0a1.3 1.3 0 1 0 -2.6 0M978.7 996.5a1.3 1.3 0 1 0 2.6 0a1.3 1.3 0 1 0 -2.6 0M979.1 1004.2a1.3 1.3 0 1 0 2.6 0a1.3 1.3 0 1 0 -2.6 0M978.9 1013.9a1.3 1.3 0 1 0 2.6 0a1.3 1.3 0 1 0 -2.6 0M979.1 1022.4a1.3 1.3 0 1 0 2.6 0a1.3 1.3 0 1 0 -2.6 0M987.3 983.6a1.3 1.3 0 1 0 2.6 0a1.3 1.3 0 1 0 -2.6 0M987.7 990.1a1.3 1.3 0 1 0 2.6 0a1.3 1.3 0 1 0 -2.6 0M987.3 999.5a1.3 1.3 0 1 0 2.6 0a1.3 1.3 0 1 0 -2.6 0M989.0 1007.2a1.3 1.3 0 1 0 2.6 0a1.3 1.3 0 1 0 -2.6 0M988.8 1016.9a1.3 1.3 0 1 0 2.6 0a1.3 1.3 0 1 0 -2.6 0M1004.2 979.3a1.3 1.3 0 1 0 2.6 0a1.3 1.3 0 1 0 -2.6 0M1000.4 985.0a1.3 1.3 0 1 0 2.6 0a1.3 1.3 0 1 0 -2.6 0M1001.0 1010.1a1.3 1.3 0 1 0 2.6 0a1.3 1.3 0 1 0 -2.6 0M1014.5 972.9a1.3 1.3 0 1 0 2.6 0a1.3 1.3 0 1 0 -2.6 0M1015.5 979.9a1.3 1.3 0 1 0 2.6 0a1.3 1.3 0 1 0 -2.6 0M1016.6 990.3a1.3 1.3 0 1 0 2.6 0a1.3 1.3 0 1 0 -2.6 0M1012.0 1004.8a1.3 1.3 0 1 0 2.6 0a1.3 1.3 0 1 0 -2.6 0M1027.3 966.2a1.3 1.3 0 1 0 2.6 0a1.3 1.3 0 1 0 -2.6 0M1024.6 974.3a1.3 1.3 0 1 0 2.6 0a1.3 1.3 0 1 0 -2.6 0M1027.4 991.6a1.3 1.3 0 1 0 2.6 0a1.3 1.3 0 1 0 -2.6 0M1025.3 999.7a1.3 1.3 0 1 0 2.6 0a1.3 1.3 0 1 0 -2.6 0M1037.3 979.4a1.3 1.3 0 1 0 2.6 0a1.3 1.3 0 1 0 -2.6 0M1051.3 956.1a1.3 1.3 0 1 0 2.6 0a1.3 1.3 0 1 0 -2.6 0M1052.5 974.6a1.3 1.3 0 1 0 2.6 0a1.3 1.3 0 1 0 -2.6 0M1051.9 982.1a1.3 1.3 0 1 0 2.6 0a1.3 1.3 0 1 0 -2.6 0M1063.5 950.3a1.3 1.3 0 1 0 2.6 0a1.3 1.3 0 1 0 -2.6 0M1062.1 968.1a1.3 1.3 0 1 0 2.6 0a1.3 1.3 0 1 0 -2.6 0M1065.1 975.4a1.3 1.3 0 1 0 2.6 0a1.3 1.3 0 1 0 -2.6 0M1075.3 946.7a1.3 1.3 0 1 0 2.6 0a1.3 1.3 0 1 0 -2.6 0M1075.7 955.1a1.3 1.3 0 1 0 2.6 0a1.3 1.3 0 1 0 -2.6 0M1075.6 961.5a1.3 1.3 0 1 0 2.6 0a1.3 1.3 0 1 0 -2.6 0M1077.8 970.3a1.3 1.3 0 1 0 2.6 0a1.3 1.3 0 1 0 -2.6 0M1077.7 979.1a1.3 1.3 0 1 0 2.6 0a1.3 1.3 0 1 0 -2.6 0M1090.7 964.9a1.3 1.3 0 1 0 2.6 0a1.3 1.3 0 1 0 -2.6 0M1088.7 974.9a1.3 1.3 0 1 0 2.6 0a1.3 1.3 0 1 0 -2.6 0M1101.0 943.4a1.3 1.3 0 1 0 2.6 0a1.3 1.3 0 1 0 -2.6 0M1101.2 951.6a1.3 1.3 0 1 0 2.6 0a1.3 1.3 0 1 0 -2.6 0M1102.0 961.0a1.3 1.3 0 1 0 2.6 0a1.3 1.3 0 1 0 -2.6 0M1115.5 947.8a1.3 1.3 0 1 0 2.6 0a1.3 1.3 0 1 0 -2.6 0M1111.8 954.9a1.3 1.3 0 1 0 2.6 0a1.3 1.3 0 1 0 -2.6 0M1126.9 958.5a1.3 1.3 0 1 0 2.6 0a1.3 1.3 0 1 0 -2.6 0M1137.1 920.5a1.3 1.3 0 1 0 2.6 0a1.3 1.3 0 1 0 -2.6 0M1139.9 935.0a1.3 1.3 0 1 0 2.6 0a1.3 1.3 0 1 0 -2.6 0M1150.3 915.2a1.3 1.3 0 1 0 2.6 0a1.3 1.3 0 1 0 -2.6 0M1150.9 940.3a1.3 1.3 0 1 0 2.6 0a1.3 1.3 0 1 0 -2.6 0M227.7 1312.0a1.3 1.3 0 1 0 2.6 0a1.3 1.3 0 1 0 -2.6 0M227.7 1323.0a1.3 1.3 0 1 0 2.6 0a1.3 1.3 0 1 0 -2.6 0M227.7 1335.0a1.3 1.3 0 1 0 2.6 0a1.3 1.3 0 1 0 -2.6 0M235.7 1308.0a1.3 1.3 0 1 0 2.6 0a1.3 1.3 0 1 0 -2.6 0M247.7 1303.0a1.3 1.3 0 1 0 2.6 0a1.3 1.3 0 1 0 -2.6 0M247.7 1314.0a1.3 1.3 0 1 0 2.6 0a1.3 1.3 0 1 0 -2.6 0M247.7 1326.0a1.3 1.3 0 1 0 2.6 0a1.3 1.3 0 1 0 -2.6 0M262.7 1296.0a1.3 1.3 0 1 0 2.6 0a1.3 1.3 0 1 0 -2.6 0M262.7 1319.0a1.3 1.3 0 1 0 2.6 0a1.3 1.3 0 1 0 -2.6 0"/>
<path class="d" d="M254.1 1337.6a0.9 0.9 0 1 0 1.8 0a0.9 0.9 0 1 0 -1.8 0M267.1 1332.2a0.9 0.9 0 1 0 1.8 0a0.9 0.9 0 1 0 -1.8 0M280.1 1326.7a0.9 0.9 0 1 0 1.8 0a0.9 0.9 0 1 0 -1.8 0M291.1 1322.1a0.9 0.9 0 1 0 1.8 0a0.9 0.9 0 1 0 -1.8 0M304.1 1316.6a0.9 0.9 0 1 0 1.8 0a0.9 0.9 0 1 0 -1.8 0M319.1 1310.3a0.9 0.9 0 1 0 1.8 0a0.9 0.9 0 1 0 -1.8 0M354.1 1295.6a0.9 0.9 0 1 0 1.8 0a0.9 0.9 0 1 0 -1.8 0M439.1 1259.6a0.9 0.9 0 1 0 1.8 0a0.9 0.9 0 1 0 -1.8 0M451.1 1254.5a0.9 0.9 0 1 0 1.8 0a0.9 0.9 0 1 0 -1.8 0M466.1 1248.1a0.9 0.9 0 1 0 1.8 0a0.9 0.9 0 1 0 -1.8 0"/>
<g><ellipse class="h" cx="376.2" cy="1247.1" rx="2.8" ry="4.3" transform="rotate(20 376.2 1247.1)"/><ellipse class="h" cx="498.3" cy="1195" rx="1.8" ry="2.4" transform="rotate(20 498.3 1195)"/><ellipse class="h" cx="597.2" cy="1157.3" rx="2.3" ry="3.3" transform="rotate(20 597.2 1157.3)"/><ellipse class="h" cx="597.2" cy="1174" rx="2.3" ry="3.3" transform="rotate(20 597.2 1174)"/><ellipse class="h" cx="653" cy="1135" rx="2.5" ry="3.6" transform="rotate(20 653 1135)"/></g></g>
<g id="rail4"><path class="p" d="M233.4 1353.5 L346.3 1305.4 L409.1 1279.9 L1105.9 987.3 L1125.4 976.1 L1206.3 940.6 L1197.9 934.3 L1197.9 934.3 L396.5 1275.1 L225.1 1347.2 L222 1346.2Z"/>
<path class="o" style="stroke-width:2" d="M233.4 1353.5 L346.3 1305.4 L409.1 1279.9 L1105.9 987.3 L1125.4 976.1 L1206.3 940.6"/>
<path class="p" d="M256.0 1282.9 L374.6 1233.3 L409.1 1220.8 L1195.1 888.3 L1197.9 887.6 L1197.9 934.3 L1197.9 934.3 L396.5 1275.1 L225.1 1347.2 L222 1346.2 L222 1303.8 L240.8 1295.4 Q244.3 1294 244.3 1290.8 L244.3 1284.5 Q244.5 1279 247 1277.8Z"/>
<path class="p" d="M247 1277.8 L1198.6 875.4 L1208.4 879.5 L1208.4 881.5 L1195.1 888.3 L409.1 1220.8 L374.6 1233.3 L256.0 1282.9Z"/>
<path class="o" style="stroke-width:2" d="M256.0 1282.9 L374.6 1233.3 L409.1 1220.8 L1195.1 888.3"/>
<path class="d" d="M264.5 1314.2a1.5 1.5 0 1 0 3.0 0a1.5 1.5 0 1 0 -3.0 0M262.2 1322.4a1.5 1.5 0 1 0 3.0 0a1.5 1.5 0 1 0 -3.0 0M275.1 1282.5a1.5 1.5 0 1 0 3.0 0a1.5 1.5 0 1 0 -3.0 0M274.4 1292.1a1.5 1.5 0 1 0 3.0 0a1.5 1.5 0 1 0 -3.0 0M276.6 1301.0a1.5 1.5 0 1 0 3.0 0a1.5 1.5 0 1 0 -3.0 0M274.3 1310.0a1.5 1.5 0 1 0 3.0 0a1.5 1.5 0 1 0 -3.0 0M301.4 1308.2a1.5 1.5 0 1 0 3.0 0a1.5 1.5 0 1 0 -3.0 0M312.4 1292.9a1.5 1.5 0 1 0 3.0 0a1.5 1.5 0 1 0 -3.0 0M324.6 1260.5a1.5 1.5 0 1 0 3.0 0a1.5 1.5 0 1 0 -3.0 0M325.4 1270.7a1.5 1.5 0 1 0 3.0 0a1.5 1.5 0 1 0 -3.0 0M325.8 1287.6a1.5 1.5 0 1 0 3.0 0a1.5 1.5 0 1 0 -3.0 0M327.9 1297.2a1.5 1.5 0 1 0 3.0 0a1.5 1.5 0 1 0 -3.0 0M337.0 1257.3a1.5 1.5 0 1 0 3.0 0a1.5 1.5 0 1 0 -3.0 0M339.2 1284.2a1.5 1.5 0 1 0 3.0 0a1.5 1.5 0 1 0 -3.0 0M353.9 1258.7a1.5 1.5 0 1 0 3.0 0a1.5 1.5 0 1 0 -3.0 0M349.1 1269.8a1.5 1.5 0 1 0 3.0 0a1.5 1.5 0 1 0 -3.0 0M378.9 1240.5a1.5 1.5 0 1 0 3.0 0a1.5 1.5 0 1 0 -3.0 0M374.4 1249.6a1.5 1.5 0 1 0 3.0 0a1.5 1.5 0 1 0 -3.0 0M378.7 1259.8a1.5 1.5 0 1 0 3.0 0a1.5 1.5 0 1 0 -3.0 0M374.5 1267.3a1.5 1.5 0 1 0 3.0 0a1.5 1.5 0 1 0 -3.0 0M376.7 1277.0a1.5 1.5 0 1 0 3.0 0a1.5 1.5 0 1 0 -3.0 0M388.6 1237.5a1.5 1.5 0 1 0 3.0 0a1.5 1.5 0 1 0 -3.0 0M391.0 1254.5a1.5 1.5 0 1 0 3.0 0a1.5 1.5 0 1 0 -3.0 0M402.5 1232.6a1.5 1.5 0 1 0 3.0 0a1.5 1.5 0 1 0 -3.0 0M400.5 1248.4a1.5 1.5 0 1 0 3.0 0a1.5 1.5 0 1 0 -3.0 0M415.6 1225.5a1.5 1.5 0 1 0 3.0 0a1.5 1.5 0 1 0 -3.0 0M413.2 1235.3a1.5 1.5 0 1 0 3.0 0a1.5 1.5 0 1 0 -3.0 0M416.3 1250.7a1.5 1.5 0 1 0 3.0 0a1.5 1.5 0 1 0 -3.0 0M414.2 1259.7a1.5 1.5 0 1 0 3.0 0a1.5 1.5 0 1 0 -3.0 0M426.4 1221.2a1.5 1.5 0 1 0 3.0 0a1.5 1.5 0 1 0 -3.0 0M424.0 1229.4a1.5 1.5 0 1 0 3.0 0a1.5 1.5 0 1 0 -3.0 0M428.3 1245.8a1.5 1.5 0 1 0 3.0 0a1.5 1.5 0 1 0 -3.0 0M424.9 1255.0a1.5 1.5 0 1 0 3.0 0a1.5 1.5 0 1 0 -3.0 0M436.9 1216.7a1.5 1.5 0 1 0 3.0 0a1.5 1.5 0 1 0 -3.0 0M439.9 1224.6a1.5 1.5 0 1 0 3.0 0a1.5 1.5 0 1 0 -3.0 0M439.1 1232.3a1.5 1.5 0 1 0 3.0 0a1.5 1.5 0 1 0 -3.0 0M440.9 1250.9a1.5 1.5 0 1 0 3.0 0a1.5 1.5 0 1 0 -3.0 0M452.9 1211.3a1.5 1.5 0 1 0 3.0 0a1.5 1.5 0 1 0 -3.0 0M450.5 1218.7a1.5 1.5 0 1 0 3.0 0a1.5 1.5 0 1 0 -3.0 0M450.5 1229.0a1.5 1.5 0 1 0 3.0 0a1.5 1.5 0 1 0 -3.0 0M450.9 1235.8a1.5 1.5 0 1 0 3.0 0a1.5 1.5 0 1 0 -3.0 0M464.3 1204.8a1.5 1.5 0 1 0 3.0 0a1.5 1.5 0 1 0 -3.0 0M461.9 1213.1a1.5 1.5 0 1 0 3.0 0a1.5 1.5 0 1 0 -3.0 0M465.8 1222.4a1.5 1.5 0 1 0 3.0 0a1.5 1.5 0 1 0 -3.0 0M463.8 1229.6a1.5 1.5 0 1 0 3.0 0a1.5 1.5 0 1 0 -3.0 0M463.7 1240.3a1.5 1.5 0 1 0 3.0 0a1.5 1.5 0 1 0 -3.0 0M478.3 1199.4a1.5 1.5 0 1 0 3.0 0a1.5 1.5 0 1 0 -3.0 0M474.2 1218.0a1.5 1.5 0 1 0 3.0 0a1.5 1.5 0 1 0 -3.0 0M475.8 1224.4a1.5 1.5 0 1 0 3.0 0a1.5 1.5 0 1 0 -3.0 0M490.2 1194.6a1.5 1.5 0 1 0 3.0 0a1.5 1.5 0 1 0 -3.0 0M488.0 1202.1a1.5 1.5 0 1 0 3.0 0a1.5 1.5 0 1 0 -3.0 0M487.3 1221.6a1.5 1.5 0 1 0 3.0 0a1.5 1.5 0 1 0 -3.0 0M499.1 1190.0a1.5 1.5 0 1 0 3.0 0a1.5 1.5 0 1 0 -3.0 0M502.7 1197.9a1.5 1.5 0 1 0 3.0 0a1.5 1.5 0 1 0 -3.0 0M501.8 1207.3a1.5 1.5 0 1 0 3.0 0a1.5 1.5 0 1 0 -3.0 0M502.0 1222.7a1.5 1.5 0 1 0 3.0 0a1.5 1.5 0 1 0 -3.0 0M512.0 1185.4a1.5 1.5 0 1 0 3.0 0a1.5 1.5 0 1 0 -3.0 0M513.6 1192.2a1.5 1.5 0 1 0 3.0 0a1.5 1.5 0 1 0 -3.0 0M514.2 1202.2a1.5 1.5 0 1 0 3.0 0a1.5 1.5 0 1 0 -3.0 0M513.3 1210.0a1.5 1.5 0 1 0 3.0 0a1.5 1.5 0 1 0 -3.0 0M528.4 1188.9a1.5 1.5 0 1 0 3.0 0a1.5 1.5 0 1 0 -3.0 0M525.9 1205.1a1.5 1.5 0 1 0 3.0 0a1.5 1.5 0 1 0 -3.0 0M538.5 1174.4a1.5 1.5 0 1 0 3.0 0a1.5 1.5 0 1 0 -3.0 0M538.5 1197.6a1.5 1.5 0 1 0 3.0 0a1.5 1.5 0 1 0 -3.0 0M538.6 1208.3a1.5 1.5 0 1 0 3.0 0a1.5 1.5 0 1 0 -3.0 0M550.6 1185.7a1.5 1.5 0 1 0 3.0 0a1.5 1.5 0 1 0 -3.0 0M553.1 1202.2a1.5 1.5 0 1 0 3.0 0a1.5 1.5 0 1 0 -3.0 0M574.3 1184.0a1.5 1.5 0 1 0 3.0 0a1.5 1.5 0 1 0 -3.0 0M575.9 1190.1a1.5 1.5 0 1 0 3.0 0a1.5 1.5 0 1 0 -3.0 0M588.5 1154.0a1.5 1.5 0 1 0 3.0 0a1.5 1.5 0 1 0 -3.0 0M587.3 1186.4a1.5 1.5 0 1 0 3.0 0a1.5 1.5 0 1 0 -3.0 0M601.9 1147.3a1.5 1.5 0 1 0 3.0 0a1.5 1.5 0 1 0 -3.0 0M599.3 1163.9a1.5 1.5 0 1 0 3.0 0a1.5 1.5 0 1 0 -3.0 0M602.2 1171.8a1.5 1.5 0 1 0 3.0 0a1.5 1.5 0 1 0 -3.0 0M613.2 1168.5a1.5 1.5 0 1 0 3.0 0a1.5 1.5 0 1 0 -3.0 0M612.9 1175.4a1.5 1.5 0 1 0 3.0 0a1.5 1.5 0 1 0 -3.0 0M628.0 1170.4a1.5 1.5 0 1 0 3.0 0a1.5 1.5 0 1 0 -3.0 0M639.9 1141.1a1.5 1.5 0 1 0 3.0 0a1.5 1.5 0 1 0 -3.0 0M641.1 1157.9a1.5 1.5 0 1 0 3.0 0a1.5 1.5 0 1 0 -3.0 0M640.6 1163.6a1.5 1.5 0 1 0 3.0 0a1.5 1.5 0 1 0 -3.0 0M653.0 1126.8a1.5 1.5 0 1 0 3.0 0a1.5 1.5 0 1 0 -3.0 0M651.9 1161.0a1.5 1.5 0 1 0 3.0 0a1.5 1.5 0 1 0 -3.0 0M665.2 1138.2a1.5 1.5 0 1 0 3.0 0a1.5 1.5 0 1 0 -3.0 0M665.6 1144.9a1.5 1.5 0 1 0 3.0 0a1.5 1.5 0 1 0 -3.0 0M661.8 1154.7a1.5 1.5 0 1 0 3.0 0a1.5 1.5 0 1 0 -3.0 0M678.9 1114.0a1.5 1.5 0 1 0 3.0 0a1.5 1.5 0 1 0 -3.0 0M690.5 1126.5a1.5 1.5 0 1 0 3.0 0a1.5 1.5 0 1 0 -3.0 0M691.0 1143.3a1.5 1.5 0 1 0 3.0 0a1.5 1.5 0 1 0 -3.0 0M700.6 1113.8a1.5 1.5 0 1 0 3.0 0a1.5 1.5 0 1 0 -3.0 0M703.0 1139.2a1.5 1.5 0 1 0 3.0 0a1.5 1.5 0 1 0 -3.0 0M712.2 1099.9a1.5 1.5 0 1 0 3.0 0a1.5 1.5 0 1 0 -3.0 0M714.0 1125.6a1.5 1.5 0 1 0 3.0 0a1.5 1.5 0 1 0 -3.0 0M727.0 1095.7a1.5 1.5 0 1 0 3.0 0a1.5 1.5 0 1 0 -3.0 0M727.0 1120.3a1.5 1.5 0 1 0 3.0 0a1.5 1.5 0 1 0 -3.0 0M739.0 1105.3a1.5 1.5 0 1 0 3.0 0a1.5 1.5 0 1 0 -3.0 0M739.0 1115.5a1.5 1.5 0 1 0 3.0 0a1.5 1.5 0 1 0 -3.0 0M750.2 1083.4a1.5 1.5 0 1 0 3.0 0a1.5 1.5 0 1 0 -3.0 0M749.8 1100.6a1.5 1.5 0 1 0 3.0 0a1.5 1.5 0 1 0 -3.0 0M749.2 1109.0a1.5 1.5 0 1 0 3.0 0a1.5 1.5 0 1 0 -3.0 0M765.2 1077.5a1.5 1.5 0 1 0 3.0 0a1.5 1.5 0 1 0 -3.0 0M764.7 1087.6a1.5 1.5 0 1 0 3.0 0a1.5 1.5 0 1 0 -3.0 0M761.8 1096.4a1.5 1.5 0 1 0 3.0 0a1.5 1.5 0 1 0 -3.0 0M765.2 1103.3a1.5 1.5 0 1 0 3.0 0a1.5 1.5 0 1 0 -3.0 0M763.2 1110.5a1.5 1.5 0 1 0 3.0 0a1.5 1.5 0 1 0 -3.0 0M776.4 1074.1a1.5 1.5 0 1 0 3.0 0a1.5 1.5 0 1 0 -3.0 0M777.3 1081.1a1.5 1.5 0 1 0 3.0 0a1.5 1.5 0 1 0 -3.0 0M778.4 1099.4a1.5 1.5 0 1 0 3.0 0a1.5 1.5 0 1 0 -3.0 0M778.3 1107.2a1.5 1.5 0 1 0 3.0 0a1.5 1.5 0 1 0 -3.0 0M790.2 1077.0a1.5 1.5 0 1 0 3.0 0a1.5 1.5 0 1 0 -3.0 0M800.5 1079.3a1.5 1.5 0 1 0 3.0 0a1.5 1.5 0 1 0 -3.0 0M803.8 1087.9a1.5 1.5 0 1 0 3.0 0a1.5 1.5 0 1 0 -3.0 0M815.2 1074.2a1.5 1.5 0 1 0 3.0 0a1.5 1.5 0 1 0 -3.0 0M813.2 1081.1a1.5 1.5 0 1 0 3.0 0a1.5 1.5 0 1 0 -3.0 0M813.2 1089.9a1.5 1.5 0 1 0 3.0 0a1.5 1.5 0 1 0 -3.0 0M826.4 1051.6a1.5 1.5 0 1 0 3.0 0a1.5 1.5 0 1 0 -3.0 0M837.1 1047.1a1.5 1.5 0 1 0 3.0 0a1.5 1.5 0 1 0 -3.0 0M841.4 1054.8a1.5 1.5 0 1 0 3.0 0a1.5 1.5 0 1 0 -3.0 0M837.0 1072.0a1.5 1.5 0 1 0 3.0 0a1.5 1.5 0 1 0 -3.0 0M853.6 1042.9a1.5 1.5 0 1 0 3.0 0a1.5 1.5 0 1 0 -3.0 0M852.7 1075.3a1.5 1.5 0 1 0 3.0 0a1.5 1.5 0 1 0 -3.0 0M864.2 1044.7a1.5 1.5 0 1 0 3.0 0a1.5 1.5 0 1 0 -3.0 0M863.4 1060.4a1.5 1.5 0 1 0 3.0 0a1.5 1.5 0 1 0 -3.0 0M874.3 1029.7a1.5 1.5 0 1 0 3.0 0a1.5 1.5 0 1 0 -3.0 0M876.2 1040.2a1.5 1.5 0 1 0 3.0 0a1.5 1.5 0 1 0 -3.0 0M877.3 1055.2a1.5 1.5 0 1 0 3.0 0a1.5 1.5 0 1 0 -3.0 0M901.5 1045.9a1.5 1.5 0 1 0 3.0 0a1.5 1.5 0 1 0 -3.0 0M926.4 1010.4a1.5 1.5 0 1 0 3.0 0a1.5 1.5 0 1 0 -3.0 0M928.4 1043.1a1.5 1.5 0 1 0 3.0 0a1.5 1.5 0 1 0 -3.0 0M936.7 1005.5a1.5 1.5 0 1 0 3.0 0a1.5 1.5 0 1 0 -3.0 0M941.4 1021.1a1.5 1.5 0 1 0 3.0 0a1.5 1.5 0 1 0 -3.0 0M951.6 998.1a1.5 1.5 0 1 0 3.0 0a1.5 1.5 0 1 0 -3.0 0M950.0 1031.7a1.5 1.5 0 1 0 3.0 0a1.5 1.5 0 1 0 -3.0 0M963.5 995.2a1.5 1.5 0 1 0 3.0 0a1.5 1.5 0 1 0 -3.0 0M965.7 1009.5a1.5 1.5 0 1 0 3.0 0a1.5 1.5 0 1 0 -3.0 0M964.7 1017.9a1.5 1.5 0 1 0 3.0 0a1.5 1.5 0 1 0 -3.0 0M961.9 1025.8a1.5 1.5 0 1 0 3.0 0a1.5 1.5 0 1 0 -3.0 0M978.6 987.2a1.5 1.5 0 1 0 3.0 0a1.5 1.5 0 1 0 -3.0 0M977.6 1003.5a1.5 1.5 0 1 0 3.0 0a1.5 1.5 0 1 0 -3.0 0M977.7 1011.8a1.5 1.5 0 1 0 3.0 0a1.5 1.5 0 1 0 -3.0 0M975.6 1021.4a1.5 1.5 0 1 0 3.0 0a1.5 1.5 0 1 0 -3.0 0M990.8 990.8a1.5 1.5 0 1 0 3.0 0a1.5 1.5 0 1 0 -3.0 0M987.0 1007.0a1.5 1.5 0 1 0 3.0 0a1.5 1.5 0 1 0 -3.0 0M987.7 1015.0a1.5 1.5 0 1 0 3.0 0a1.5 1.5 0 1 0 -3.0 0M1003.3 978.0a1.5 1.5 0 1 0 3.0 0a1.5 1.5 0 1 0 -3.0 0M1001.5 987.1a1.5 1.5 0 1 0 3.0 0a1.5 1.5 0 1 0 -3.0 0M999.2 994.9a1.5 1.5 0 1 0 3.0 0a1.5 1.5 0 1 0 -3.0 0M1001.5 1003.0a1.5 1.5 0 1 0 3.0 0a1.5 1.5 0 1 0 -3.0 0M1013.5 972.1a1.5 1.5 0 1 0 3.0 0a1.5 1.5 0 1 0 -3.0 0M1011.7 981.6a1.5 1.5 0 1 0 3.0 0a1.5 1.5 0 1 0 -3.0 0M1014.8 998.3a1.5 1.5 0 1 0 3.0 0a1.5 1.5 0 1 0 -3.0 0M1024.4 976.5a1.5 1.5 0 1 0 3.0 0a1.5 1.5 0 1 0 -3.0 0M1028.9 1000.5a1.5 1.5 0 1 0 3.0 0a1.5 1.5 0 1 0 -3.0 0M1040.4 961.2a1.5 1.5 0 1 0 3.0 0a1.5 1.5 0 1 0 -3.0 0M1041.0 968.9a1.5 1.5 0 1 0 3.0 0a1.5 1.5 0 1 0 -3.0 0M1039.4 987.2a1.5 1.5 0 1 0 3.0 0a1.5 1.5 0 1 0 -3.0 0M1049.5 956.8a1.5 1.5 0 1 0 3.0 0a1.5 1.5 0 1 0 -3.0 0M1051.1 963.8a1.5 1.5 0 1 0 3.0 0a1.5 1.5 0 1 0 -3.0 0M1051.8 971.8a1.5 1.5 0 1 0 3.0 0a1.5 1.5 0 1 0 -3.0 0M1050.9 980.1a1.5 1.5 0 1 0 3.0 0a1.5 1.5 0 1 0 -3.0 0M1065.5 958.7a1.5 1.5 0 1 0 3.0 0a1.5 1.5 0 1 0 -3.0 0M1061.8 968.6a1.5 1.5 0 1 0 3.0 0a1.5 1.5 0 1 0 -3.0 0M1062.3 983.8a1.5 1.5 0 1 0 3.0 0a1.5 1.5 0 1 0 -3.0 0M1074.8 955.6a1.5 1.5 0 1 0 3.0 0a1.5 1.5 0 1 0 -3.0 0M1078.8 964.0a1.5 1.5 0 1 0 3.0 0a1.5 1.5 0 1 0 -3.0 0M1077.6 969.3a1.5 1.5 0 1 0 3.0 0a1.5 1.5 0 1 0 -3.0 0M1076.7 978.1a1.5 1.5 0 1 0 3.0 0a1.5 1.5 0 1 0 -3.0 0M1088.3 940.8a1.5 1.5 0 1 0 3.0 0a1.5 1.5 0 1 0 -3.0 0M1089.3 957.9a1.5 1.5 0 1 0 3.0 0a1.5 1.5 0 1 0 -3.0 0M1090.5 966.2a1.5 1.5 0 1 0 3.0 0a1.5 1.5 0 1 0 -3.0 0M1101.7 934.3a1.5 1.5 0 1 0 3.0 0a1.5 1.5 0 1 0 -3.0 0M1102.2 945.1a1.5 1.5 0 1 0 3.0 0a1.5 1.5 0 1 0 -3.0 0M1102.8 961.2a1.5 1.5 0 1 0 3.0 0a1.5 1.5 0 1 0 -3.0 0M1115.9 937.0a1.5 1.5 0 1 0 3.0 0a1.5 1.5 0 1 0 -3.0 0M1115.9 955.2a1.5 1.5 0 1 0 3.0 0a1.5 1.5 0 1 0 -3.0 0M1112.3 961.6a1.5 1.5 0 1 0 3.0 0a1.5 1.5 0 1 0 -3.0 0M1125.1 941.5a1.5 1.5 0 1 0 3.0 0a1.5 1.5 0 1 0 -3.0 0M1126.6 949.0a1.5 1.5 0 1 0 3.0 0a1.5 1.5 0 1 0 -3.0 0M1127.5 956.9a1.5 1.5 0 1 0 3.0 0a1.5 1.5 0 1 0 -3.0 0M1139.3 921.1a1.5 1.5 0 1 0 3.0 0a1.5 1.5 0 1 0 -3.0 0M1138.0 927.2a1.5 1.5 0 1 0 3.0 0a1.5 1.5 0 1 0 -3.0 0M1138.9 937.0a1.5 1.5 0 1 0 3.0 0a1.5 1.5 0 1 0 -3.0 0M1140.1 944.0a1.5 1.5 0 1 0 3.0 0a1.5 1.5 0 1 0 -3.0 0M1152.0 913.5a1.5 1.5 0 1 0 3.0 0a1.5 1.5 0 1 0 -3.0 0M1152.9 931.0a1.5 1.5 0 1 0 3.0 0a1.5 1.5 0 1 0 -3.0 0M1153.9 937.9a1.5 1.5 0 1 0 3.0 0a1.5 1.5 0 1 0 -3.0 0M1149.6 947.6a1.5 1.5 0 1 0 3.0 0a1.5 1.5 0 1 0 -3.0 0M1165.2 907.9a1.5 1.5 0 1 0 3.0 0a1.5 1.5 0 1 0 -3.0 0M1164.6 915.9a1.5 1.5 0 1 0 3.0 0a1.5 1.5 0 1 0 -3.0 0M1166.5 926.1a1.5 1.5 0 1 0 3.0 0a1.5 1.5 0 1 0 -3.0 0M1166.0 933.8a1.5 1.5 0 1 0 3.0 0a1.5 1.5 0 1 0 -3.0 0M1175.9 904.5a1.5 1.5 0 1 0 3.0 0a1.5 1.5 0 1 0 -3.0 0M1176.1 927.7a1.5 1.5 0 1 0 3.0 0a1.5 1.5 0 1 0 -3.0 0M1174.6 937.2a1.5 1.5 0 1 0 3.0 0a1.5 1.5 0 1 0 -3.0 0M227.5 1312.0a1.5 1.5 0 1 0 3.0 0a1.5 1.5 0 1 0 -3.0 0M227.5 1323.0a1.5 1.5 0 1 0 3.0 0a1.5 1.5 0 1 0 -3.0 0M227.5 1335.0a1.5 1.5 0 1 0 3.0 0a1.5 1.5 0 1 0 -3.0 0M235.5 1308.0a1.5 1.5 0 1 0 3.0 0a1.5 1.5 0 1 0 -3.0 0M247.5 1303.0a1.5 1.5 0 1 0 3.0 0a1.5 1.5 0 1 0 -3.0 0M247.5 1314.0a1.5 1.5 0 1 0 3.0 0a1.5 1.5 0 1 0 -3.0 0M247.5 1326.0a1.5 1.5 0 1 0 3.0 0a1.5 1.5 0 1 0 -3.0 0M262.5 1296.0a1.5 1.5 0 1 0 3.0 0a1.5 1.5 0 1 0 -3.0 0M262.5 1319.0a1.5 1.5 0 1 0 3.0 0a1.5 1.5 0 1 0 -3.0 0"/>
<path class="d" d="M254.1 1337.6a0.9 0.9 0 1 0 1.8 0a0.9 0.9 0 1 0 -1.8 0M267.1 1332.2a0.9 0.9 0 1 0 1.8 0a0.9 0.9 0 1 0 -1.8 0M280.1 1326.7a0.9 0.9 0 1 0 1.8 0a0.9 0.9 0 1 0 -1.8 0M291.1 1322.1a0.9 0.9 0 1 0 1.8 0a0.9 0.9 0 1 0 -1.8 0M304.1 1316.6a0.9 0.9 0 1 0 1.8 0a0.9 0.9 0 1 0 -1.8 0M319.1 1310.3a0.9 0.9 0 1 0 1.8 0a0.9 0.9 0 1 0 -1.8 0M354.1 1295.6a0.9 0.9 0 1 0 1.8 0a0.9 0.9 0 1 0 -1.8 0M439.1 1259.6a0.9 0.9 0 1 0 1.8 0a0.9 0.9 0 1 0 -1.8 0M451.1 1254.5a0.9 0.9 0 1 0 1.8 0a0.9 0.9 0 1 0 -1.8 0M466.1 1248.1a0.9 0.9 0 1 0 1.8 0a0.9 0.9 0 1 0 -1.8 0"/>
<g><ellipse class="h" cx="376.2" cy="1247.1" rx="2.8" ry="4.3" transform="rotate(20 376.2 1247.1)"/><ellipse class="h" cx="498.3" cy="1195" rx="1.8" ry="2.4" transform="rotate(20 498.3 1195)"/><ellipse class="h" cx="597.2" cy="1157.3" rx="2.3" ry="3.3" transform="rotate(20 597.2 1157.3)"/><ellipse class="h" cx="597.2" cy="1174" rx="2.3" ry="3.3" transform="rotate(20 597.2 1174)"/><ellipse class="h" cx="653" cy="1135" rx="2.5" ry="3.6" transform="rotate(20 653 1135)"/></g></g>
<g id="rail5"><path class="p" d="M835.7 1591.2 L826.3 1594.9 L834.6 1599.1 L836.5 1598Z"/>
<path class="p" d="M858.7 1530.9 L1812.2 1130.7 L1812.2 1185.9 L1800.0 1190.7 L835.7 1598.5 L836.3 1554.8 L852.4 1548.5 Q857.6 1546.6 858.9 1541 Q860.1 1535.1 858.7 1530.9Z"/>
<path class="p" d="M849.3 1526.8 L953.8 1482.4 L993.5 1461.5 L1692.7 1166.8 L1717.1 1159.5 L1802.4 1124.1 Q1810 1124 1812.2 1130.7 L858.7 1530.9Z"/>
<path class="d" d="M869.0 1547.1a1.55 1.55 0 1 0 3.1 0a1.55 1.55 0 1 0 -3.1 0M881.9 1551.1a1.55 1.55 0 1 0 3.1 0a1.55 1.55 0 1 0 -3.1 0M880.3 1561.6a1.55 1.55 0 1 0 3.1 0a1.55 1.55 0 1 0 -3.1 0M891.3 1554.9a1.55 1.55 0 1 0 3.1 0a1.55 1.55 0 1 0 -3.1 0M894.5 1566.6a1.55 1.55 0 1 0 3.1 0a1.55 1.55 0 1 0 -3.1 0M906.1 1549.4a1.55 1.55 0 1 0 3.1 0a1.55 1.55 0 1 0 -3.1 0M903.5 1560.8a1.55 1.55 0 1 0 3.1 0a1.55 1.55 0 1 0 -3.1 0M918.9 1523.6a1.55 1.55 0 1 0 3.1 0a1.55 1.55 0 1 0 -3.1 0M916.7 1536.1a1.55 1.55 0 1 0 3.1 0a1.55 1.55 0 1 0 -3.1 0M932.0 1510.3a1.55 1.55 0 1 0 3.1 0a1.55 1.55 0 1 0 -3.1 0M933.0 1520.1a1.55 1.55 0 1 0 3.1 0a1.55 1.55 0 1 0 -3.1 0M932.0 1529.7a1.55 1.55 0 1 0 3.1 0a1.55 1.55 0 1 0 -3.1 0M931.5 1538.4a1.55 1.55 0 1 0 3.1 0a1.55 1.55 0 1 0 -3.1 0M931.2 1548.3a1.55 1.55 0 1 0 3.1 0a1.55 1.55 0 1 0 -3.1 0M944.2 1514.0a1.55 1.55 0 1 0 3.1 0a1.55 1.55 0 1 0 -3.1 0M945.9 1523.2a1.55 1.55 0 1 0 3.1 0a1.55 1.55 0 1 0 -3.1 0M943.5 1533.7a1.55 1.55 0 1 0 3.1 0a1.55 1.55 0 1 0 -3.1 0M943.3 1544.7a1.55 1.55 0 1 0 3.1 0a1.55 1.55 0 1 0 -3.1 0M954.9 1498.3a1.55 1.55 0 1 0 3.1 0a1.55 1.55 0 1 0 -3.1 0M956.1 1520.5a1.55 1.55 0 1 0 3.1 0a1.55 1.55 0 1 0 -3.1 0M954.8 1529.4a1.55 1.55 0 1 0 3.1 0a1.55 1.55 0 1 0 -3.1 0M957.2 1538.9a1.55 1.55 0 1 0 3.1 0a1.55 1.55 0 1 0 -3.1 0M966.9 1495.4a1.55 1.55 0 1 0 3.1 0a1.55 1.55 0 1 0 -3.1 0M970.1 1504.6a1.55 1.55 0 1 0 3.1 0a1.55 1.55 0 1 0 -3.1 0M968.7 1535.2a1.55 1.55 0 1 0 3.1 0a1.55 1.55 0 1 0 -3.1 0M982.7 1489.2a1.55 1.55 0 1 0 3.1 0a1.55 1.55 0 1 0 -3.1 0M983.3 1498.1a1.55 1.55 0 1 0 3.1 0a1.55 1.55 0 1 0 -3.1 0M979.8 1508.7a1.55 1.55 0 1 0 3.1 0a1.55 1.55 0 1 0 -3.1 0M981.4 1518.5a1.55 1.55 0 1 0 3.1 0a1.55 1.55 0 1 0 -3.1 0M982.2 1529.0a1.55 1.55 0 1 0 3.1 0a1.55 1.55 0 1 0 -3.1 0M1003.8 1478.0a1.55 1.55 0 1 0 3.1 0a1.55 1.55 0 1 0 -3.1 0M1008.3 1488.6a1.55 1.55 0 1 0 3.1 0a1.55 1.55 0 1 0 -3.1 0M1003.9 1498.6a1.55 1.55 0 1 0 3.1 0a1.55 1.55 0 1 0 -3.1 0M1004.2 1506.7a1.55 1.55 0 1 0 3.1 0a1.55 1.55 0 1 0 -3.1 0M1008.2 1518.4a1.55 1.55 0 1 0 3.1 0a1.55 1.55 0 1 0 -3.1 0M1019.6 1472.0a1.55 1.55 0 1 0 3.1 0a1.55 1.55 0 1 0 -3.1 0M1020.7 1491.9a1.55 1.55 0 1 0 3.1 0a1.55 1.55 0 1 0 -3.1 0M1017.5 1501.6a1.55 1.55 0 1 0 3.1 0a1.55 1.55 0 1 0 -3.1 0M1030.8 1476.5a1.55 1.55 0 1 0 3.1 0a1.55 1.55 0 1 0 -3.1 0M1028.5 1498.3a1.55 1.55 0 1 0 3.1 0a1.55 1.55 0 1 0 -3.1 0M1031.7 1508.4a1.55 1.55 0 1 0 3.1 0a1.55 1.55 0 1 0 -3.1 0M1043.7 1463.8a1.55 1.55 0 1 0 3.1 0a1.55 1.55 0 1 0 -3.1 0M1042.2 1472.9a1.55 1.55 0 1 0 3.1 0a1.55 1.55 0 1 0 -3.1 0M1045.0 1483.3a1.55 1.55 0 1 0 3.1 0a1.55 1.55 0 1 0 -3.1 0M1056.1 1467.5a1.55 1.55 0 1 0 3.1 0a1.55 1.55 0 1 0 -3.1 0M1055.9 1486.9a1.55 1.55 0 1 0 3.1 0a1.55 1.55 0 1 0 -3.1 0M1054.3 1497.8a1.55 1.55 0 1 0 3.1 0a1.55 1.55 0 1 0 -3.1 0M1068.3 1470.8a1.55 1.55 0 1 0 3.1 0a1.55 1.55 0 1 0 -3.1 0M1066.6 1482.2a1.55 1.55 0 1 0 3.1 0a1.55 1.55 0 1 0 -3.1 0M1081.0 1465.5a1.55 1.55 0 1 0 3.1 0a1.55 1.55 0 1 0 -3.1 0M1079.7 1475.7a1.55 1.55 0 1 0 3.1 0a1.55 1.55 0 1 0 -3.1 0M1093.4 1450.7a1.55 1.55 0 1 0 3.1 0a1.55 1.55 0 1 0 -3.1 0M1095.2 1471.5a1.55 1.55 0 1 0 3.1 0a1.55 1.55 0 1 0 -3.1 0M1107.4 1456.4a1.55 1.55 0 1 0 3.1 0a1.55 1.55 0 1 0 -3.1 0M1105.9 1467.3a1.55 1.55 0 1 0 3.1 0a1.55 1.55 0 1 0 -3.1 0M1118.4 1450.5a1.55 1.55 0 1 0 3.1 0a1.55 1.55 0 1 0 -3.1 0M1132.7 1424.9a1.55 1.55 0 1 0 3.1 0a1.55 1.55 0 1 0 -3.1 0M1130.6 1436.9a1.55 1.55 0 1 0 3.1 0a1.55 1.55 0 1 0 -3.1 0M1128.9 1455.4a1.55 1.55 0 1 0 3.1 0a1.55 1.55 0 1 0 -3.1 0M1129.6 1464.1a1.55 1.55 0 1 0 3.1 0a1.55 1.55 0 1 0 -3.1 0M1142.3 1461.0a1.55 1.55 0 1 0 3.1 0a1.55 1.55 0 1 0 -3.1 0M1155.9 1416.1a1.55 1.55 0 1 0 3.1 0a1.55 1.55 0 1 0 -3.1 0M1155.2 1425.5a1.55 1.55 0 1 0 3.1 0a1.55 1.55 0 1 0 -3.1 0M1157.4 1443.6a1.55 1.55 0 1 0 3.1 0a1.55 1.55 0 1 0 -3.1 0M1155.0 1453.8a1.55 1.55 0 1 0 3.1 0a1.55 1.55 0 1 0 -3.1 0M1169.6 1420.8a1.55 1.55 0 1 0 3.1 0a1.55 1.55 0 1 0 -3.1 0M1169.2 1450.3a1.55 1.55 0 1 0 3.1 0a1.55 1.55 0 1 0 -3.1 0M1182.9 1434.8a1.55 1.55 0 1 0 3.1 0a1.55 1.55 0 1 0 -3.1 0M1183.0 1445.0a1.55 1.55 0 1 0 3.1 0a1.55 1.55 0 1 0 -3.1 0M1206.4 1402.5a1.55 1.55 0 1 0 3.1 0a1.55 1.55 0 1 0 -3.1 0M1207.0 1425.0a1.55 1.55 0 1 0 3.1 0a1.55 1.55 0 1 0 -3.1 0M1206.3 1433.0a1.55 1.55 0 1 0 3.1 0a1.55 1.55 0 1 0 -3.1 0M1216.8 1399.2a1.55 1.55 0 1 0 3.1 0a1.55 1.55 0 1 0 -3.1 0M1218.5 1408.5a1.55 1.55 0 1 0 3.1 0a1.55 1.55 0 1 0 -3.1 0M1216.5 1418.8a1.55 1.55 0 1 0 3.1 0a1.55 1.55 0 1 0 -3.1 0M1217.9 1428.5a1.55 1.55 0 1 0 3.1 0a1.55 1.55 0 1 0 -3.1 0M1230.3 1392.3a1.55 1.55 0 1 0 3.1 0a1.55 1.55 0 1 0 -3.1 0M1233.3 1404.0a1.55 1.55 0 1 0 3.1 0a1.55 1.55 0 1 0 -3.1 0M1233.4 1412.7a1.55 1.55 0 1 0 3.1 0a1.55 1.55 0 1 0 -3.1 0M1232.4 1422.2a1.55 1.55 0 1 0 3.1 0a1.55 1.55 0 1 0 -3.1 0M1242.5 1378.7a1.55 1.55 0 1 0 3.1 0a1.55 1.55 0 1 0 -3.1 0M1245.8 1398.3a1.55 1.55 0 1 0 3.1 0a1.55 1.55 0 1 0 -3.1 0M1241.3 1408.6a1.55 1.55 0 1 0 3.1 0a1.55 1.55 0 1 0 -3.1 0M1245.2 1417.1a1.55 1.55 0 1 0 3.1 0a1.55 1.55 0 1 0 -3.1 0M1254.9 1393.0a1.55 1.55 0 1 0 3.1 0a1.55 1.55 0 1 0 -3.1 0M1255.5 1404.1a1.55 1.55 0 1 0 3.1 0a1.55 1.55 0 1 0 -3.1 0M1255.2 1413.2a1.55 1.55 0 1 0 3.1 0a1.55 1.55 0 1 0 -3.1 0M1267.2 1367.7a1.55 1.55 0 1 0 3.1 0a1.55 1.55 0 1 0 -3.1 0M1266.8 1378.7a1.55 1.55 0 1 0 3.1 0a1.55 1.55 0 1 0 -3.1 0M1268.2 1387.4a1.55 1.55 0 1 0 3.1 0a1.55 1.55 0 1 0 -3.1 0M1266.6 1395.9a1.55 1.55 0 1 0 3.1 0a1.55 1.55 0 1 0 -3.1 0M1267.5 1407.7a1.55 1.55 0 1 0 3.1 0a1.55 1.55 0 1 0 -3.1 0M1282.4 1363.9a1.55 1.55 0 1 0 3.1 0a1.55 1.55 0 1 0 -3.1 0M1281.6 1371.5a1.55 1.55 0 1 0 3.1 0a1.55 1.55 0 1 0 -3.1 0M1279.9 1382.1a1.55 1.55 0 1 0 3.1 0a1.55 1.55 0 1 0 -3.1 0M1294.3 1357.6a1.55 1.55 0 1 0 3.1 0a1.55 1.55 0 1 0 -3.1 0M1291.4 1365.9a1.55 1.55 0 1 0 3.1 0a1.55 1.55 0 1 0 -3.1 0M1293.0 1376.4a1.55 1.55 0 1 0 3.1 0a1.55 1.55 0 1 0 -3.1 0M1292.4 1386.4a1.55 1.55 0 1 0 3.1 0a1.55 1.55 0 1 0 -3.1 0M1303.7 1372.7a1.55 1.55 0 1 0 3.1 0a1.55 1.55 0 1 0 -3.1 0M1304.7 1391.2a1.55 1.55 0 1 0 3.1 0a1.55 1.55 0 1 0 -3.1 0M1320.9 1347.3a1.55 1.55 0 1 0 3.1 0a1.55 1.55 0 1 0 -3.1 0M1317.2 1356.4a1.55 1.55 0 1 0 3.1 0a1.55 1.55 0 1 0 -3.1 0M1319.8 1366.0a1.55 1.55 0 1 0 3.1 0a1.55 1.55 0 1 0 -3.1 0M1317.6 1376.2a1.55 1.55 0 1 0 3.1 0a1.55 1.55 0 1 0 -3.1 0M1317.2 1386.3a1.55 1.55 0 1 0 3.1 0a1.55 1.55 0 1 0 -3.1 0M1333.2 1369.9a1.55 1.55 0 1 0 3.1 0a1.55 1.55 0 1 0 -3.1 0M1329.5 1381.2a1.55 1.55 0 1 0 3.1 0a1.55 1.55 0 1 0 -3.1 0M1342.4 1335.3a1.55 1.55 0 1 0 3.1 0a1.55 1.55 0 1 0 -3.1 0M1344.0 1366.8a1.55 1.55 0 1 0 3.1 0a1.55 1.55 0 1 0 -3.1 0M1357.7 1331.5a1.55 1.55 0 1 0 3.1 0a1.55 1.55 0 1 0 -3.1 0M1358.3 1350.3a1.55 1.55 0 1 0 3.1 0a1.55 1.55 0 1 0 -3.1 0M1356.0 1359.9a1.55 1.55 0 1 0 3.1 0a1.55 1.55 0 1 0 -3.1 0M1368.5 1364.9a1.55 1.55 0 1 0 3.1 0a1.55 1.55 0 1 0 -3.1 0M1380.9 1349.6a1.55 1.55 0 1 0 3.1 0a1.55 1.55 0 1 0 -3.1 0M1392.3 1336.3a1.55 1.55 0 1 0 3.1 0a1.55 1.55 0 1 0 -3.1 0M1406.1 1350.6a1.55 1.55 0 1 0 3.1 0a1.55 1.55 0 1 0 -3.1 0M1419.3 1303.8a1.55 1.55 0 1 0 3.1 0a1.55 1.55 0 1 0 -3.1 0M1420.8 1324.4a1.55 1.55 0 1 0 3.1 0a1.55 1.55 0 1 0 -3.1 0M1417.6 1344.7a1.55 1.55 0 1 0 3.1 0a1.55 1.55 0 1 0 -3.1 0M1430.2 1330.0a1.55 1.55 0 1 0 3.1 0a1.55 1.55 0 1 0 -3.1 0M1441.5 1324.3a1.55 1.55 0 1 0 3.1 0a1.55 1.55 0 1 0 -3.1 0M1458.4 1329.5a1.55 1.55 0 1 0 3.1 0a1.55 1.55 0 1 0 -3.1 0M1468.5 1282.9a1.55 1.55 0 1 0 3.1 0a1.55 1.55 0 1 0 -3.1 0M1467.3 1303.7a1.55 1.55 0 1 0 3.1 0a1.55 1.55 0 1 0 -3.1 0M1481.8 1289.8a1.55 1.55 0 1 0 3.1 0a1.55 1.55 0 1 0 -3.1 0M1479.5 1297.9a1.55 1.55 0 1 0 3.1 0a1.55 1.55 0 1 0 -3.1 0M1482.8 1307.8a1.55 1.55 0 1 0 3.1 0a1.55 1.55 0 1 0 -3.1 0M1480.1 1317.2a1.55 1.55 0 1 0 3.1 0a1.55 1.55 0 1 0 -3.1 0M1494.8 1282.8a1.55 1.55 0 1 0 3.1 0a1.55 1.55 0 1 0 -3.1 0M1495.6 1301.2a1.55 1.55 0 1 0 3.1 0a1.55 1.55 0 1 0 -3.1 0M1504.5 1287.1a1.55 1.55 0 1 0 3.1 0a1.55 1.55 0 1 0 -3.1 0M1519.2 1262.9a1.55 1.55 0 1 0 3.1 0a1.55 1.55 0 1 0 -3.1 0M1518.0 1281.3a1.55 1.55 0 1 0 3.1 0a1.55 1.55 0 1 0 -3.1 0M1518.3 1300.4a1.55 1.55 0 1 0 3.1 0a1.55 1.55 0 1 0 -3.1 0M1531.7 1258.7a1.55 1.55 0 1 0 3.1 0a1.55 1.55 0 1 0 -3.1 0M1530.4 1285.2a1.55 1.55 0 1 0 3.1 0a1.55 1.55 0 1 0 -3.1 0M1543.6 1251.0a1.55 1.55 0 1 0 3.1 0a1.55 1.55 0 1 0 -3.1 0M1545.2 1281.6a1.55 1.55 0 1 0 3.1 0a1.55 1.55 0 1 0 -3.1 0M1558.2 1246.0a1.55 1.55 0 1 0 3.1 0a1.55 1.55 0 1 0 -3.1 0M1558.4 1277.4a1.55 1.55 0 1 0 3.1 0a1.55 1.55 0 1 0 -3.1 0M1554.7 1286.3a1.55 1.55 0 1 0 3.1 0a1.55 1.55 0 1 0 -3.1 0M1568.8 1242.0a1.55 1.55 0 1 0 3.1 0a1.55 1.55 0 1 0 -3.1 0M1566.5 1250.6a1.55 1.55 0 1 0 3.1 0a1.55 1.55 0 1 0 -3.1 0M1568.4 1261.3a1.55 1.55 0 1 0 3.1 0a1.55 1.55 0 1 0 -3.1 0M1567.7 1271.2a1.55 1.55 0 1 0 3.1 0a1.55 1.55 0 1 0 -3.1 0M1567.0 1281.9a1.55 1.55 0 1 0 3.1 0a1.55 1.55 0 1 0 -3.1 0M1579.4 1236.3a1.55 1.55 0 1 0 3.1 0a1.55 1.55 0 1 0 -3.1 0M1580.8 1247.3a1.55 1.55 0 1 0 3.1 0a1.55 1.55 0 1 0 -3.1 0M1578.6 1256.3a1.55 1.55 0 1 0 3.1 0a1.55 1.55 0 1 0 -3.1 0M1580.1 1274.2a1.55 1.55 0 1 0 3.1 0a1.55 1.55 0 1 0 -3.1 0M1595.6 1230.8a1.55 1.55 0 1 0 3.1 0a1.55 1.55 0 1 0 -3.1 0M1592.9 1242.2a1.55 1.55 0 1 0 3.1 0a1.55 1.55 0 1 0 -3.1 0M1591.0 1251.2a1.55 1.55 0 1 0 3.1 0a1.55 1.55 0 1 0 -3.1 0M1592.2 1260.0a1.55 1.55 0 1 0 3.1 0a1.55 1.55 0 1 0 -3.1 0M1592.5 1270.4a1.55 1.55 0 1 0 3.1 0a1.55 1.55 0 1 0 -3.1 0M1606.4 1227.2a1.55 1.55 0 1 0 3.1 0a1.55 1.55 0 1 0 -3.1 0M1605.5 1255.4a1.55 1.55 0 1 0 3.1 0a1.55 1.55 0 1 0 -3.1 0M1605.0 1263.4a1.55 1.55 0 1 0 3.1 0a1.55 1.55 0 1 0 -3.1 0M1620.7 1220.6a1.55 1.55 0 1 0 3.1 0a1.55 1.55 0 1 0 -3.1 0M1617.7 1229.0a1.55 1.55 0 1 0 3.1 0a1.55 1.55 0 1 0 -3.1 0M1618.9 1251.0a1.55 1.55 0 1 0 3.1 0a1.55 1.55 0 1 0 -3.1 0M1620.6 1259.4a1.55 1.55 0 1 0 3.1 0a1.55 1.55 0 1 0 -3.1 0M1630.6 1214.3a1.55 1.55 0 1 0 3.1 0a1.55 1.55 0 1 0 -3.1 0M1630.4 1225.4a1.55 1.55 0 1 0 3.1 0a1.55 1.55 0 1 0 -3.1 0M1630.0 1235.9a1.55 1.55 0 1 0 3.1 0a1.55 1.55 0 1 0 -3.1 0M1642.4 1210.2a1.55 1.55 0 1 0 3.1 0a1.55 1.55 0 1 0 -3.1 0M1645.0 1219.1a1.55 1.55 0 1 0 3.1 0a1.55 1.55 0 1 0 -3.1 0M1641.7 1229.1a1.55 1.55 0 1 0 3.1 0a1.55 1.55 0 1 0 -3.1 0M1645.1 1239.5a1.55 1.55 0 1 0 3.1 0a1.55 1.55 0 1 0 -3.1 0M1645.4 1248.2a1.55 1.55 0 1 0 3.1 0a1.55 1.55 0 1 0 -3.1 0M1657.0 1205.2a1.55 1.55 0 1 0 3.1 0a1.55 1.55 0 1 0 -3.1 0M1653.9 1215.6a1.55 1.55 0 1 0 3.1 0a1.55 1.55 0 1 0 -3.1 0M1657.7 1233.3a1.55 1.55 0 1 0 3.1 0a1.55 1.55 0 1 0 -3.1 0M1657.3 1242.3a1.55 1.55 0 1 0 3.1 0a1.55 1.55 0 1 0 -3.1 0M1667.0 1199.8a1.55 1.55 0 1 0 3.1 0a1.55 1.55 0 1 0 -3.1 0M1670.1 1210.6a1.55 1.55 0 1 0 3.1 0a1.55 1.55 0 1 0 -3.1 0M1668.2 1227.6a1.55 1.55 0 1 0 3.1 0a1.55 1.55 0 1 0 -3.1 0M1668.0 1237.7a1.55 1.55 0 1 0 3.1 0a1.55 1.55 0 1 0 -3.1 0M1680.9 1194.9a1.55 1.55 0 1 0 3.1 0a1.55 1.55 0 1 0 -3.1 0M1683.0 1212.7a1.55 1.55 0 1 0 3.1 0a1.55 1.55 0 1 0 -3.1 0M1682.8 1232.0a1.55 1.55 0 1 0 3.1 0a1.55 1.55 0 1 0 -3.1 0M1695.3 1200.0a1.55 1.55 0 1 0 3.1 0a1.55 1.55 0 1 0 -3.1 0M1694.3 1207.4a1.55 1.55 0 1 0 3.1 0a1.55 1.55 0 1 0 -3.1 0M1704.4 1185.1a1.55 1.55 0 1 0 3.1 0a1.55 1.55 0 1 0 -3.1 0M1708.1 1214.2a1.55 1.55 0 1 0 3.1 0a1.55 1.55 0 1 0 -3.1 0M1717.9 1189.2a1.55 1.55 0 1 0 3.1 0a1.55 1.55 0 1 0 -3.1 0M1730.4 1174.1a1.55 1.55 0 1 0 3.1 0a1.55 1.55 0 1 0 -3.1 0M1733.0 1212.7a1.55 1.55 0 1 0 3.1 0a1.55 1.55 0 1 0 -3.1 0M1745.3 1186.2a1.55 1.55 0 1 0 3.1 0a1.55 1.55 0 1 0 -3.1 0M1758.3 1192.9a1.55 1.55 0 1 0 3.1 0a1.55 1.55 0 1 0 -3.1 0M1769.0 1157.8a1.55 1.55 0 1 0 3.1 0a1.55 1.55 0 1 0 -3.1 0M1782.1 1153.0a1.55 1.55 0 1 0 3.1 0a1.55 1.55 0 1 0 -3.1 0M1792.0 1174.9a1.55 1.55 0 1 0 3.1 0a1.55 1.55 0 1 0 -3.1 0M1795.6 1185.7a1.55 1.55 0 1 0 3.1 0a1.55 1.55 0 1 0 -3.1 0M840.5 1562.0a1.55 1.55 0 1 0 3.1 0a1.55 1.55 0 1 0 -3.1 0M840.5 1574.0a1.55 1.55 0 1 0 3.1 0a1.55 1.55 0 1 0 -3.1 0M840.5 1588.0a1.55 1.55 0 1 0 3.1 0a1.55 1.55 0 1 0 -3.1 0M853.5 1556.0a1.55 1.55 0 1 0 3.1 0a1.55 1.55 0 1 0 -3.1 0M853.5 1568.0a1.55 1.55 0 1 0 3.1 0a1.55 1.55 0 1 0 -3.1 0M853.5 1580.0a1.55 1.55 0 1 0 3.1 0a1.55 1.55 0 1 0 -3.1 0"/>
<g><ellipse class="h" cx="850.9" cy="1574.4" rx="3.4" ry="5" transform="rotate(55 850.9 1574.4)"/><ellipse class="h" cx="915.5" cy="1518.4" rx="1.9" ry="2.9" transform="rotate(20 915.5 1518.4)"/><ellipse class="h" cx="984.1" cy="1497.7" rx="2.8" ry="4.1" transform="rotate(20 984.1 1497.7)"/><ellipse class="h" cx="1112.1" cy="1446.9" rx="2.0" ry="2.8" transform="rotate(20 1112.1 1446.9)"/><ellipse class="h" cx="1244.4" cy="1396" rx="2.7" ry="4" transform="rotate(20 1244.4 1396)"/><ellipse class="h" cx="1304.9" cy="1370.2" rx="2.7" ry="4" transform="rotate(20 1304.9 1370.2)"/><ellipse class="h" cx="1339" cy="1347.8" rx="2.7" ry="4" transform="rotate(20 1339 1347.8)"/><ellipse class="h" cx="1370.2" cy="1342.9" rx="2.7" ry="4" transform="rotate(20 1370.2 1342.9)"/><ellipse class="h" cx="1779.8" cy="1174.1" rx="2.7" ry="4" transform="rotate(20 1779.8 1174.1)"/></g></g>
<g id="rail6"><path class="p" d="M835.7 1591.2 L826.3 1594.9 L834.6 1599.1 L836.5 1598Z"/>
<path class="p" d="M858.7 1530.9 L1812.2 1130.7 L1812.2 1185.9 L1800.0 1190.7 L835.7 1598.5 L836.3 1554.8 L852.4 1548.5 Q857.6 1546.6 858.9 1541 Q860.1 1535.1 858.7 1530.9Z"/>
<path class="p" d="M849.3 1526.8 L953.8 1482.4 L993.5 1461.5 L1692.7 1166.8 L1717.1 1159.5 L1802.4 1124.1 Q1810 1124 1812.2 1130.7 L858.7 1530.9Z"/>
<path class="d" d="M869.5 1557.4a1.55 1.55 0 1 0 3.1 0a1.55 1.55 0 1 0 -3.1 0M869.6 1566.8a1.55 1.55 0 1 0 3.1 0a1.55 1.55 0 1 0 -3.1 0M879.3 1532.2a1.55 1.55 0 1 0 3.1 0a1.55 1.55 0 1 0 -3.1 0M882.2 1549.8a1.55 1.55 0 1 0 3.1 0a1.55 1.55 0 1 0 -3.1 0M880.7 1560.0a1.55 1.55 0 1 0 3.1 0a1.55 1.55 0 1 0 -3.1 0M881.0 1571.3a1.55 1.55 0 1 0 3.1 0a1.55 1.55 0 1 0 -3.1 0M894.3 1526.9a1.55 1.55 0 1 0 3.1 0a1.55 1.55 0 1 0 -3.1 0M892.3 1534.3a1.55 1.55 0 1 0 3.1 0a1.55 1.55 0 1 0 -3.1 0M893.1 1554.8a1.55 1.55 0 1 0 3.1 0a1.55 1.55 0 1 0 -3.1 0M907.6 1529.4a1.55 1.55 0 1 0 3.1 0a1.55 1.55 0 1 0 -3.1 0M908.2 1539.5a1.55 1.55 0 1 0 3.1 0a1.55 1.55 0 1 0 -3.1 0M903.6 1550.8a1.55 1.55 0 1 0 3.1 0a1.55 1.55 0 1 0 -3.1 0M918.3 1514.7a1.55 1.55 0 1 0 3.1 0a1.55 1.55 0 1 0 -3.1 0M917.1 1524.6a1.55 1.55 0 1 0 3.1 0a1.55 1.55 0 1 0 -3.1 0M920.6 1534.1a1.55 1.55 0 1 0 3.1 0a1.55 1.55 0 1 0 -3.1 0M919.2 1545.5a1.55 1.55 0 1 0 3.1 0a1.55 1.55 0 1 0 -3.1 0M918.6 1556.4a1.55 1.55 0 1 0 3.1 0a1.55 1.55 0 1 0 -3.1 0M929.5 1509.1a1.55 1.55 0 1 0 3.1 0a1.55 1.55 0 1 0 -3.1 0M930.4 1528.5a1.55 1.55 0 1 0 3.1 0a1.55 1.55 0 1 0 -3.1 0M931.7 1538.9a1.55 1.55 0 1 0 3.1 0a1.55 1.55 0 1 0 -3.1 0M942.5 1503.5a1.55 1.55 0 1 0 3.1 0a1.55 1.55 0 1 0 -3.1 0M945.1 1544.7a1.55 1.55 0 1 0 3.1 0a1.55 1.55 0 1 0 -3.1 0M954.4 1500.6a1.55 1.55 0 1 0 3.1 0a1.55 1.55 0 1 0 -3.1 0M957.8 1528.4a1.55 1.55 0 1 0 3.1 0a1.55 1.55 0 1 0 -3.1 0M981.5 1490.1a1.55 1.55 0 1 0 3.1 0a1.55 1.55 0 1 0 -3.1 0M982.5 1529.9a1.55 1.55 0 1 0 3.1 0a1.55 1.55 0 1 0 -3.1 0M991.3 1483.6a1.55 1.55 0 1 0 3.1 0a1.55 1.55 0 1 0 -3.1 0M1020.0 1471.6a1.55 1.55 0 1 0 3.1 0a1.55 1.55 0 1 0 -3.1 0M1018.7 1481.5a1.55 1.55 0 1 0 3.1 0a1.55 1.55 0 1 0 -3.1 0M1017.6 1501.6a1.55 1.55 0 1 0 3.1 0a1.55 1.55 0 1 0 -3.1 0M1018.8 1511.5a1.55 1.55 0 1 0 3.1 0a1.55 1.55 0 1 0 -3.1 0M1041.5 1503.1a1.55 1.55 0 1 0 3.1 0a1.55 1.55 0 1 0 -3.1 0M1057.3 1468.6a1.55 1.55 0 1 0 3.1 0a1.55 1.55 0 1 0 -3.1 0M1058.0 1476.2a1.55 1.55 0 1 0 3.1 0a1.55 1.55 0 1 0 -3.1 0M1067.4 1450.8a1.55 1.55 0 1 0 3.1 0a1.55 1.55 0 1 0 -3.1 0M1067.5 1461.8a1.55 1.55 0 1 0 3.1 0a1.55 1.55 0 1 0 -3.1 0M1067.1 1471.5a1.55 1.55 0 1 0 3.1 0a1.55 1.55 0 1 0 -3.1 0M1069.3 1482.4a1.55 1.55 0 1 0 3.1 0a1.55 1.55 0 1 0 -3.1 0M1067.0 1492.1a1.55 1.55 0 1 0 3.1 0a1.55 1.55 0 1 0 -3.1 0M1082.5 1447.4a1.55 1.55 0 1 0 3.1 0a1.55 1.55 0 1 0 -3.1 0M1080.6 1456.9a1.55 1.55 0 1 0 3.1 0a1.55 1.55 0 1 0 -3.1 0M1080.8 1466.7a1.55 1.55 0 1 0 3.1 0a1.55 1.55 0 1 0 -3.1 0M1081.9 1476.4a1.55 1.55 0 1 0 3.1 0a1.55 1.55 0 1 0 -3.1 0M1081.6 1485.9a1.55 1.55 0 1 0 3.1 0a1.55 1.55 0 1 0 -3.1 0M1093.9 1442.6a1.55 1.55 0 1 0 3.1 0a1.55 1.55 0 1 0 -3.1 0M1093.0 1451.8a1.55 1.55 0 1 0 3.1 0a1.55 1.55 0 1 0 -3.1 0M1106.1 1435.8a1.55 1.55 0 1 0 3.1 0a1.55 1.55 0 1 0 -3.1 0M1105.0 1446.4a1.55 1.55 0 1 0 3.1 0a1.55 1.55 0 1 0 -3.1 0M1103.8 1465.8a1.55 1.55 0 1 0 3.1 0a1.55 1.55 0 1 0 -3.1 0M1117.3 1430.5a1.55 1.55 0 1 0 3.1 0a1.55 1.55 0 1 0 -3.1 0M1117.5 1439.9a1.55 1.55 0 1 0 3.1 0a1.55 1.55 0 1 0 -3.1 0M1116.6 1451.3a1.55 1.55 0 1 0 3.1 0a1.55 1.55 0 1 0 -3.1 0M1117.6 1460.0a1.55 1.55 0 1 0 3.1 0a1.55 1.55 0 1 0 -3.1 0M1129.1 1434.8a1.55 1.55 0 1 0 3.1 0a1.55 1.55 0 1 0 -3.1 0M1130.8 1446.8a1.55 1.55 0 1 0 3.1 0a1.55 1.55 0 1 0 -3.1 0M1131.9 1455.4a1.55 1.55 0 1 0 3.1 0a1.55 1.55 0 1 0 -3.1 0M1144.3 1419.3a1.55 1.55 0 1 0 3.1 0a1.55 1.55 0 1 0 -3.1 0M1141.1 1430.4a1.55 1.55 0 1 0 3.1 0a1.55 1.55 0 1 0 -3.1 0M1141.9 1440.2a1.55 1.55 0 1 0 3.1 0a1.55 1.55 0 1 0 -3.1 0M1142.6 1451.4a1.55 1.55 0 1 0 3.1 0a1.55 1.55 0 1 0 -3.1 0M1142.7 1461.4a1.55 1.55 0 1 0 3.1 0a1.55 1.55 0 1 0 -3.1 0M1154.3 1424.6a1.55 1.55 0 1 0 3.1 0a1.55 1.55 0 1 0 -3.1 0M1155.2 1434.8a1.55 1.55 0 1 0 3.1 0a1.55 1.55 0 1 0 -3.1 0M1157.9 1443.5a1.55 1.55 0 1 0 3.1 0a1.55 1.55 0 1 0 -3.1 0M1170.8 1411.1a1.55 1.55 0 1 0 3.1 0a1.55 1.55 0 1 0 -3.1 0M1170.2 1428.6a1.55 1.55 0 1 0 3.1 0a1.55 1.55 0 1 0 -3.1 0M1166.6 1438.2a1.55 1.55 0 1 0 3.1 0a1.55 1.55 0 1 0 -3.1 0M1179.6 1405.8a1.55 1.55 0 1 0 3.1 0a1.55 1.55 0 1 0 -3.1 0M1179.0 1433.2a1.55 1.55 0 1 0 3.1 0a1.55 1.55 0 1 0 -3.1 0M1191.8 1420.2a1.55 1.55 0 1 0 3.1 0a1.55 1.55 0 1 0 -3.1 0M1204.1 1405.4a1.55 1.55 0 1 0 3.1 0a1.55 1.55 0 1 0 -3.1 0M1207.5 1412.9a1.55 1.55 0 1 0 3.1 0a1.55 1.55 0 1 0 -3.1 0M1203.9 1434.1a1.55 1.55 0 1 0 3.1 0a1.55 1.55 0 1 0 -3.1 0M1230.5 1414.2a1.55 1.55 0 1 0 3.1 0a1.55 1.55 0 1 0 -3.1 0M1230.8 1421.9a1.55 1.55 0 1 0 3.1 0a1.55 1.55 0 1 0 -3.1 0M1243.2 1408.1a1.55 1.55 0 1 0 3.1 0a1.55 1.55 0 1 0 -3.1 0M1253.7 1373.2a1.55 1.55 0 1 0 3.1 0a1.55 1.55 0 1 0 -3.1 0M1256.0 1381.9a1.55 1.55 0 1 0 3.1 0a1.55 1.55 0 1 0 -3.1 0M1257.5 1412.4a1.55 1.55 0 1 0 3.1 0a1.55 1.55 0 1 0 -3.1 0M1283.3 1391.6a1.55 1.55 0 1 0 3.1 0a1.55 1.55 0 1 0 -3.1 0M1291.6 1386.2a1.55 1.55 0 1 0 3.1 0a1.55 1.55 0 1 0 -3.1 0M1305.9 1352.1a1.55 1.55 0 1 0 3.1 0a1.55 1.55 0 1 0 -3.1 0M1303.6 1362.7a1.55 1.55 0 1 0 3.1 0a1.55 1.55 0 1 0 -3.1 0M1318.0 1376.6a1.55 1.55 0 1 0 3.1 0a1.55 1.55 0 1 0 -3.1 0M1332.3 1362.1a1.55 1.55 0 1 0 3.1 0a1.55 1.55 0 1 0 -3.1 0M1332.2 1382.2a1.55 1.55 0 1 0 3.1 0a1.55 1.55 0 1 0 -3.1 0M1342.7 1354.6a1.55 1.55 0 1 0 3.1 0a1.55 1.55 0 1 0 -3.1 0M1356.1 1342.4a1.55 1.55 0 1 0 3.1 0a1.55 1.55 0 1 0 -3.1 0M1355.5 1361.9a1.55 1.55 0 1 0 3.1 0a1.55 1.55 0 1 0 -3.1 0M1356.2 1369.1a1.55 1.55 0 1 0 3.1 0a1.55 1.55 0 1 0 -3.1 0M1366.5 1345.0a1.55 1.55 0 1 0 3.1 0a1.55 1.55 0 1 0 -3.1 0M1380.5 1319.6a1.55 1.55 0 1 0 3.1 0a1.55 1.55 0 1 0 -3.1 0M1380.1 1331.4a1.55 1.55 0 1 0 3.1 0a1.55 1.55 0 1 0 -3.1 0M1382.3 1339.2a1.55 1.55 0 1 0 3.1 0a1.55 1.55 0 1 0 -3.1 0M1379.3 1348.9a1.55 1.55 0 1 0 3.1 0a1.55 1.55 0 1 0 -3.1 0M1392.6 1314.1a1.55 1.55 0 1 0 3.1 0a1.55 1.55 0 1 0 -3.1 0M1394.5 1325.7a1.55 1.55 0 1 0 3.1 0a1.55 1.55 0 1 0 -3.1 0M1392.5 1335.9a1.55 1.55 0 1 0 3.1 0a1.55 1.55 0 1 0 -3.1 0M1395.0 1343.2a1.55 1.55 0 1 0 3.1 0a1.55 1.55 0 1 0 -3.1 0M1407.8 1311.5a1.55 1.55 0 1 0 3.1 0a1.55 1.55 0 1 0 -3.1 0M1403.6 1319.2a1.55 1.55 0 1 0 3.1 0a1.55 1.55 0 1 0 -3.1 0M1407.0 1329.8a1.55 1.55 0 1 0 3.1 0a1.55 1.55 0 1 0 -3.1 0M1408.2 1338.8a1.55 1.55 0 1 0 3.1 0a1.55 1.55 0 1 0 -3.1 0M1404.7 1349.4a1.55 1.55 0 1 0 3.1 0a1.55 1.55 0 1 0 -3.1 0M1419.0 1316.0a1.55 1.55 0 1 0 3.1 0a1.55 1.55 0 1 0 -3.1 0M1419.5 1333.7a1.55 1.55 0 1 0 3.1 0a1.55 1.55 0 1 0 -3.1 0M1416.0 1344.4a1.55 1.55 0 1 0 3.1 0a1.55 1.55 0 1 0 -3.1 0M1429.8 1298.8a1.55 1.55 0 1 0 3.1 0a1.55 1.55 0 1 0 -3.1 0M1432.6 1309.1a1.55 1.55 0 1 0 3.1 0a1.55 1.55 0 1 0 -3.1 0M1433.3 1318.1a1.55 1.55 0 1 0 3.1 0a1.55 1.55 0 1 0 -3.1 0M1428.7 1327.9a1.55 1.55 0 1 0 3.1 0a1.55 1.55 0 1 0 -3.1 0M1429.5 1339.7a1.55 1.55 0 1 0 3.1 0a1.55 1.55 0 1 0 -3.1 0M1444.9 1294.3a1.55 1.55 0 1 0 3.1 0a1.55 1.55 0 1 0 -3.1 0M1454.9 1298.7a1.55 1.55 0 1 0 3.1 0a1.55 1.55 0 1 0 -3.1 0M1470.9 1285.1a1.55 1.55 0 1 0 3.1 0a1.55 1.55 0 1 0 -3.1 0M1467.6 1303.4a1.55 1.55 0 1 0 3.1 0a1.55 1.55 0 1 0 -3.1 0M1468.6 1323.8a1.55 1.55 0 1 0 3.1 0a1.55 1.55 0 1 0 -3.1 0M1478.5 1289.2a1.55 1.55 0 1 0 3.1 0a1.55 1.55 0 1 0 -3.1 0M1481.5 1297.3a1.55 1.55 0 1 0 3.1 0a1.55 1.55 0 1 0 -3.1 0M1478.6 1318.1a1.55 1.55 0 1 0 3.1 0a1.55 1.55 0 1 0 -3.1 0M1493.5 1282.4a1.55 1.55 0 1 0 3.1 0a1.55 1.55 0 1 0 -3.1 0M1495.7 1293.5a1.55 1.55 0 1 0 3.1 0a1.55 1.55 0 1 0 -3.1 0M1495.9 1302.9a1.55 1.55 0 1 0 3.1 0a1.55 1.55 0 1 0 -3.1 0M1505.4 1267.3a1.55 1.55 0 1 0 3.1 0a1.55 1.55 0 1 0 -3.1 0M1507.3 1276.7a1.55 1.55 0 1 0 3.1 0a1.55 1.55 0 1 0 -3.1 0M1504.7 1286.9a1.55 1.55 0 1 0 3.1 0a1.55 1.55 0 1 0 -3.1 0M1516.2 1273.9a1.55 1.55 0 1 0 3.1 0a1.55 1.55 0 1 0 -3.1 0M1531.7 1256.3a1.55 1.55 0 1 0 3.1 0a1.55 1.55 0 1 0 -3.1 0M1531.2 1267.9a1.55 1.55 0 1 0 3.1 0a1.55 1.55 0 1 0 -3.1 0M1541.1 1253.6a1.55 1.55 0 1 0 3.1 0a1.55 1.55 0 1 0 -3.1 0M1554.1 1265.5a1.55 1.55 0 1 0 3.1 0a1.55 1.55 0 1 0 -3.1 0M1570.2 1262.0a1.55 1.55 0 1 0 3.1 0a1.55 1.55 0 1 0 -3.1 0M1569.2 1271.3a1.55 1.55 0 1 0 3.1 0a1.55 1.55 0 1 0 -3.1 0M1570.3 1281.1a1.55 1.55 0 1 0 3.1 0a1.55 1.55 0 1 0 -3.1 0M1581.0 1236.9a1.55 1.55 0 1 0 3.1 0a1.55 1.55 0 1 0 -3.1 0M1580.9 1266.9a1.55 1.55 0 1 0 3.1 0a1.55 1.55 0 1 0 -3.1 0M1593.4 1251.4a1.55 1.55 0 1 0 3.1 0a1.55 1.55 0 1 0 -3.1 0M1593.4 1260.9a1.55 1.55 0 1 0 3.1 0a1.55 1.55 0 1 0 -3.1 0M1595.8 1271.1a1.55 1.55 0 1 0 3.1 0a1.55 1.55 0 1 0 -3.1 0M1607.6 1265.4a1.55 1.55 0 1 0 3.1 0a1.55 1.55 0 1 0 -3.1 0M1618.5 1238.9a1.55 1.55 0 1 0 3.1 0a1.55 1.55 0 1 0 -3.1 0M1631.0 1224.7a1.55 1.55 0 1 0 3.1 0a1.55 1.55 0 1 0 -3.1 0M1628.9 1245.8a1.55 1.55 0 1 0 3.1 0a1.55 1.55 0 1 0 -3.1 0M1645.8 1238.1a1.55 1.55 0 1 0 3.1 0a1.55 1.55 0 1 0 -3.1 0M1657.8 1206.4a1.55 1.55 0 1 0 3.1 0a1.55 1.55 0 1 0 -3.1 0M1657.8 1213.7a1.55 1.55 0 1 0 3.1 0a1.55 1.55 0 1 0 -3.1 0M1653.6 1224.5a1.55 1.55 0 1 0 3.1 0a1.55 1.55 0 1 0 -3.1 0M1656.4 1242.3a1.55 1.55 0 1 0 3.1 0a1.55 1.55 0 1 0 -3.1 0M1668.5 1209.1a1.55 1.55 0 1 0 3.1 0a1.55 1.55 0 1 0 -3.1 0M1670.3 1219.6a1.55 1.55 0 1 0 3.1 0a1.55 1.55 0 1 0 -3.1 0M1666.1 1227.8a1.55 1.55 0 1 0 3.1 0a1.55 1.55 0 1 0 -3.1 0M1668.0 1238.6a1.55 1.55 0 1 0 3.1 0a1.55 1.55 0 1 0 -3.1 0M1679.5 1214.6a1.55 1.55 0 1 0 3.1 0a1.55 1.55 0 1 0 -3.1 0M1680.0 1223.5a1.55 1.55 0 1 0 3.1 0a1.55 1.55 0 1 0 -3.1 0M1680.8 1232.1a1.55 1.55 0 1 0 3.1 0a1.55 1.55 0 1 0 -3.1 0M1693.1 1189.9a1.55 1.55 0 1 0 3.1 0a1.55 1.55 0 1 0 -3.1 0M1695.2 1218.3a1.55 1.55 0 1 0 3.1 0a1.55 1.55 0 1 0 -3.1 0M1694.0 1229.0a1.55 1.55 0 1 0 3.1 0a1.55 1.55 0 1 0 -3.1 0M1706.0 1184.6a1.55 1.55 0 1 0 3.1 0a1.55 1.55 0 1 0 -3.1 0M1705.7 1193.9a1.55 1.55 0 1 0 3.1 0a1.55 1.55 0 1 0 -3.1 0M1703.7 1211.4a1.55 1.55 0 1 0 3.1 0a1.55 1.55 0 1 0 -3.1 0M1705.4 1223.1a1.55 1.55 0 1 0 3.1 0a1.55 1.55 0 1 0 -3.1 0M1719.3 1188.0a1.55 1.55 0 1 0 3.1 0a1.55 1.55 0 1 0 -3.1 0M1718.3 1217.3a1.55 1.55 0 1 0 3.1 0a1.55 1.55 0 1 0 -3.1 0M1730.5 1174.0a1.55 1.55 0 1 0 3.1 0a1.55 1.55 0 1 0 -3.1 0M1731.1 1183.1a1.55 1.55 0 1 0 3.1 0a1.55 1.55 0 1 0 -3.1 0M1730.0 1192.9a1.55 1.55 0 1 0 3.1 0a1.55 1.55 0 1 0 -3.1 0M1730.1 1212.9a1.55 1.55 0 1 0 3.1 0a1.55 1.55 0 1 0 -3.1 0M1744.7 1167.6a1.55 1.55 0 1 0 3.1 0a1.55 1.55 0 1 0 -3.1 0M1744.4 1177.2a1.55 1.55 0 1 0 3.1 0a1.55 1.55 0 1 0 -3.1 0M1745.8 1187.0a1.55 1.55 0 1 0 3.1 0a1.55 1.55 0 1 0 -3.1 0M1745.7 1197.7a1.55 1.55 0 1 0 3.1 0a1.55 1.55 0 1 0 -3.1 0M1743.4 1206.1a1.55 1.55 0 1 0 3.1 0a1.55 1.55 0 1 0 -3.1 0M1756.5 1172.3a1.55 1.55 0 1 0 3.1 0a1.55 1.55 0 1 0 -3.1 0M1756.0 1181.0a1.55 1.55 0 1 0 3.1 0a1.55 1.55 0 1 0 -3.1 0M1753.7 1201.6a1.55 1.55 0 1 0 3.1 0a1.55 1.55 0 1 0 -3.1 0M1768.2 1158.4a1.55 1.55 0 1 0 3.1 0a1.55 1.55 0 1 0 -3.1 0M1770.5 1187.5a1.55 1.55 0 1 0 3.1 0a1.55 1.55 0 1 0 -3.1 0M1769.1 1194.9a1.55 1.55 0 1 0 3.1 0a1.55 1.55 0 1 0 -3.1 0M1781.4 1171.5a1.55 1.55 0 1 0 3.1 0a1.55 1.55 0 1 0 -3.1 0M1781.3 1179.8a1.55 1.55 0 1 0 3.1 0a1.55 1.55 0 1 0 -3.1 0M1782.9 1191.5a1.55 1.55 0 1 0 3.1 0a1.55 1.55 0 1 0 -3.1 0M1795.8 1147.8a1.55 1.55 0 1 0 3.1 0a1.55 1.55 0 1 0 -3.1 0M1794.0 1175.8a1.55 1.55 0 1 0 3.1 0a1.55 1.55 0 1 0 -3.1 0M840.5 1562.0a1.55 1.55 0 1 0 3.1 0a1.55 1.55 0 1 0 -3.1 0M840.5 1574.0a1.55 1.55 0 1 0 3.1 0a1.55 1.55 0 1 0 -3.1 0M840.5 1588.0a1.55 1.55 0 1 0 3.1 0a1.55 1.55 0 1 0 -3.1 0M853.5 1556.0a1.55 1.55 0 1 0 3.1 0a1.55 1.55 0 1 0 -3.1 0M853.5 1568.0a1.55 1.55 0 1 0 3.1 0a1.55 1.55 0 1 0 -3.1 0M853.5 1580.0a1.55 1.55 0 1 0 3.1 0a1.55 1.55 0 1 0 -3.1 0"/>
<g><ellipse class="h" cx="850.9" cy="1574.4" rx="3.4" ry="5" transform="rotate(55 850.9 1574.4)"/><ellipse class="h" cx="915.5" cy="1518.4" rx="1.9" ry="2.9" transform="rotate(20 915.5 1518.4)"/><ellipse class="h" cx="984.1" cy="1497.7" rx="2.8" ry="4.1" transform="rotate(20 984.1 1497.7)"/><ellipse class="h" cx="1112.1" cy="1446.9" rx="2.0" ry="2.8" transform="rotate(20 1112.1 1446.9)"/><ellipse class="h" cx="1244.4" cy="1396" rx="2.7" ry="4" transform="rotate(20 1244.4 1396)"/><ellipse class="h" cx="1304.9" cy="1370.2" rx="2.7" ry="4" transform="rotate(20 1304.9 1370.2)"/><ellipse class="h" cx="1339" cy="1347.8" rx="2.7" ry="4" transform="rotate(20 1339 1347.8)"/><ellipse class="h" cx="1370.2" cy="1342.9" rx="2.7" ry="4" transform="rotate(20 1370.2 1342.9)"/><ellipse class="h" cx="1779.8" cy="1174.1" rx="2.7" ry="4" transform="rotate(20 1779.8 1174.1)"/></g></g></defs>
<use href="#plate2"/>
<use href="#rail1"/>
<use href="#rail4" transform="translate(149.4 64.3)"/>
<use href="#pA" transform="translate(1355.57 793.05) scale(0.697)"/>
<use href="#r16l" transform="translate(545.89 726.55) scale(0.886)"/>
<use href="#r16r" transform="translate(537.11 792.04) scale(0.886)"/>
<use href="#pB" transform="translate(537.19 921.91) scale(0.886)"/>
<use href="#pC" transform="translate(349.81 1042.51) scale(0.534)"/>
<use href="#pC" transform="translate(183.11 1113.51) scale(0.534)"/>
<use href="#rail5"/>
<use href="#rail6" transform="translate(136.9 56.6)"/>
<use href="#plate2" transform="translate(1088.3 498.3)"/>
<use href="#br3" transform="translate(0 0)"/>
<use href="#br3" transform="translate(159.7 -74.5)"/>
<use href="#br3r" transform="translate(0 0)"/>
<use href="#br3r" transform="translate(-168.1 64.7)"/>
<path class="ln" style="stroke-width:2.7" d="M476 1087.6 L586.1 1133.6 M636.2 1014.6 L751.9 1064.2 M885 908.1 L1003.4 957.4 M1460 997.5 L1480.6 1005.9 L1480.6 1058.5 L1554.9 1090 M1576.1 1099.8 L1715.9 1159.5 M1536.6 1152.2 L1630.5 1192.4 M1511 1163.9 L1604.4 1203.9 M1737.3 1168.5 L1849.5 1216.8 M1698 1221.7 L1765.1 1250.2 M1672 1232.7 L1739 1261.5 M1875.6 1227.8 L1977 1271.5 M1835.4 1281 L1960.5 1334 M1772.4 1277.1 L1933.2 1346 M1414.3 1345.6 L1475.1 1372.2 M1249 1416.5 L1309 1442.5 M1386.8 1474.5 L1558.8 1549 M1552.6 1404.7 L1726.1 1478.4 M1087.8 1347.8 L1175.6 1385.4 M1254.1 1276.8 L1341.5 1314.6 M2047.5 1371 L2133.9 1406.4 M2181 1426 L2228.6 1446.9"/>
<g transform="translate(1420.9 981.6) rotate(18.6) scale(1.0)">
<path class="p" style="stroke-width:1.9" d="M5 -5.0 L38 -5.0 Q41.8 -4.5 41.8 -0.5 Q41.8 3.5 38 4.0 L5 4.0Z"/>
<path class="o" style="stroke-width:1.2" d="M38 -5.0 Q34.4 -0.5 38 4.0"/>
<path class="p" style="stroke-width:2.3" d="M-1.2 -10.6 L3.8 -11 Q7.5 -10 7.9 -7 L8.2 4.4 Q7 8.5 3.7 9.3 L-1.7 9.2 L-6.5 5 L-7.7 -0.2 L-6.7 -6.2Z"/>
<path class="o" style="stroke-width:1.3" d="M-6.7 -6.2 L-2.8 -4.6 L1.6 -9.8 M-2.8 -4.6 L-1.8 4.8 L-6.5 5 M-1.8 4.8 L2.4 8.8 M2.4 -10.9 Q5.7 -5 5.5 0 Q5.3 5.5 3.1 9.3"/>
<path class="o" style="stroke-width:1.5" d="M7.6 -5.3 Q4.4 -0.5 7.6 4.1"/>
</g>
<g transform="translate(2141.1 1409.6) rotate(22.3) scale(1.0)">
<path class="p" style="stroke-width:1.9" d="M5 -5.0 L37.5 -5.0 Q41.3 -4.5 41.3 -0.5 Q41.3 3.5 37.5 4.0 L5 4.0Z"/>
<path class="o" style="stroke-width:1.2" d="M37.5 -5.0 Q33.9 -0.5 37.5 4.0"/>
<path class="p" style="stroke-width:2.3" d="M-1.2 -10.6 L3.8 -11 Q7.5 -10 7.9 -7 L8.2 4.4 Q7 8.5 3.7 9.3 L-1.7 9.2 L-6.5 5 L-7.7 -0.2 L-6.7 -6.2Z"/>
<path class="o" style="stroke-width:1.3" d="M-6.7 -6.2 L-2.8 -4.6 L1.6 -9.8 M-2.8 -4.6 L-1.8 4.8 L-6.5 5 M-1.8 4.8 L2.4 8.8 M2.4 -10.9 Q5.7 -5 5.5 0 Q5.3 5.5 3.1 9.3"/>
<path class="o" style="stroke-width:1.5" d="M7.6 -5.3 Q4.4 -0.5 7.6 4.1"/>
</g>
<g transform="translate(1985.3 1274.9) rotate(0) scale(1.0)">
<path class="p" style="stroke-width:2.1" d="M-9.3 -3.5 L-5.5 -8.6 L1.5 -10.6 L7 -7.6 L10 0 L8.5 6 L4 10.3 L-2 10.8 L-7 7.4 L-9.6 3Z"/>
<path class="o" style="stroke-width:1.6" d="M-5.5 -8.6 L-1.6 -5.4 L4.2 -7.2 M-1.6 -5.4 L-4.6 3.4 L-9.6 3 M-4.6 3.4 L-2.4 10.4"/>
<ellipse class="o" style="stroke-width:1.9" cx="3.6" cy="1.8" rx="5.6" ry="7.9" transform="rotate(17 3.6 1.8)"/>
<ellipse class="o" style="stroke-width:1.9" cx="3.4" cy="2" rx="2.7" ry="5.2" transform="rotate(17 3.4 2)"/>
</g>
<g transform="translate(2237.0 1450.5) rotate(0) scale(1.0)">
<path class="p" style="stroke-width:2.1" d="M-9.3 -3.5 L-5.5 -8.6 L1.5 -10.6 L7 -7.6 L10 0 L8.5 6 L4 10.3 L-2 10.8 L-7 7.4 L-9.6 3Z"/>
<path class="o" style="stroke-width:1.6" d="M-5.5 -8.6 L-1.6 -5.4 L4.2 -7.2 M-1.6 -5.4 L-4.6 3.4 L-9.6 3 M-4.6 3.4 L-2.4 10.4"/>
<ellipse class="o" style="stroke-width:1.9" cx="3.6" cy="1.8" rx="5.6" ry="7.9" transform="rotate(17 3.6 1.8)"/>
<ellipse class="o" style="stroke-width:1.9" cx="3.4" cy="2" rx="2.7" ry="5.2" transform="rotate(17 3.4 2)"/>
</g>
<path d="M1590.1 932.4L1597.9 1018L1606.3 932.4Z" fill="#000" stroke="#fff" stroke-width="3" paint-order="stroke"/>
<rect x="1556.8" y="851.9" width="83.3" height="83.0" fill="#fff"/>
<rect x="1561.1" y="856.1999999999999" width="74.7" height="74.4" fill="#fff" stroke="#000" stroke-width="5.6"/>
<path d="M1590.1 932.4L1597.9 1018L1606.3 932.4Z" fill="#000"/>
<text class="bx" x="1573.30" y="916.50">A</text>
<path d="M1349.9 1025.8L1357.9 1111L1365.8 1025.8Z" fill="#000" stroke="#fff" stroke-width="3" paint-order="stroke"/>
<rect x="1316.8" y="945.3" width="83.3" height="83.0" fill="#fff"/>
<rect x="1321.1" y="949.5999999999999" width="74.7" height="74.4" fill="#fff" stroke="#000" stroke-width="5.6"/>
<path d="M1349.9 1025.8L1357.9 1111L1365.8 1025.8Z" fill="#000"/>
<text class="bx" x="1334.80" y="1010.00">B</text>
<path d="M1187.6 1105.4L1195.3 1190.7L1203.3 1105.4Z" fill="#000" stroke="#fff" stroke-width="3" paint-order="stroke"/>
<rect x="1154.0" y="1024.6" width="83.5" height="83.3" fill="#fff"/>
<rect x="1158.3" y="1028.8999999999999" width="74.9" height="74.7" fill="#fff" stroke="#000" stroke-width="5.6"/>
<path d="M1187.6 1105.4L1195.3 1190.7L1203.3 1105.4Z" fill="#000"/>
<text class="bx" x="1171.80" y="1091.00">C</text>
<path d="M1040.3 1173.6L1048.3 1258.6L1056.4 1173.6Z" fill="#000" stroke="#fff" stroke-width="3" paint-order="stroke"/>
<rect x="1006.8" y="1092.6" width="83.7" height="83.5" fill="#fff"/>
<rect x="1011.0999999999999" y="1096.8999999999999" width="75.1" height="74.9" fill="#fff" stroke="#000" stroke-width="5.6"/>
<path d="M1040.3 1173.6L1048.3 1258.6L1056.4 1173.6Z" fill="#000"/>
<text class="bx" x="1024.20" y="1156.80">D</text>
<text class="lb" x="1424.80" y="901.10">9</text>
<rect x="1422.95" y="915" width="3.7" height="52.1" fill="#000"/>
<text x="1020" y="928.3" textLength="520" lengthAdjust="spacingAndGlyphs" style="font-family:'Liberation Sans',Arial,sans-serif;font-size:77px;fill:#fff;stroke:#000;stroke-width:2.7px;paint-order:normal">woooyeah.com</text>
<text x="1068.3" y="913.8" textLength="425.2" lengthAdjust="spacingAndGlyphs" style="font-family:'Liberation Sans',Arial,sans-serif;font-size:37px;fill:#0a66c8">www.supplypartstore.com</text>
<text x="2199.5" y="1781.8" textLength="334.3" lengthAdjust="spacingAndGlyphs" style="font-family:'Liberation Sans',Arial,sans-serif;font-size:40.4px;fill:#000">I1400-2714011914</text>
<text class="bx" x="30.60" y="91.00">A</text>
<text class="bx" x="668.20" y="89.20">B</text>
<text class="bx" x="1307.40" y="89.90">C</text>
<text class="bx" x="1944.60" y="89.20">D</text>
<text class="lb" x="87.60" y="252.00">11</text>
<text class="lb" x="332.00" y="233.50">12</text>
<text class="lb" x="548.30" y="387.20">10</text>
<text class="lb" x="788.80" y="122.50">19</text>
<text class="lb" x="1128.50" y="122.50">13</text>
<text class="lb" x="909.80" y="415.50">18</text>
<text class="lb" x="1130.90" y="415.50">9</text>
<text class="lb" x="1231.80" y="461.50">8</text>
<text class="lb" x="767.50" y="462.40">17</text>
<text class="lb" x="695.70" y="540.00">16</text>
<text class="lb" x="764.00" y="598.00">14</text>
<text class="lb" x="773.80" y="659.00">8</text>
<text class="lb" x="943.10" y="666.50">15</text>
<text class="lb" x="1050.90" y="574.20">16</text>
<text class="lb" x="1119.60" y="589.60">14</text>
<text class="lb" x="1180.90" y="616.10">8</text>
<text class="lb" x="1430.60" y="473.80">20</text>
<text class="lb" x="1536.10" y="511.80">11</text>
<text class="lb" x="1726.00" y="592.80">10</text>
<text class="lb" x="2130.90" y="172.30">21</text>
<text class="lb" x="2242.60" y="219.40">22</text>
<text class="lb" x="2361.90" y="318.50">23</text>
<text class="lb" x="2025.50" y="293.70">20</text>
<text class="lb" x="477.60" y="932.00">3</text>
<text class="lb" x="636.60" y="862.80">3</text>
<text class="lb" x="822.70" y="787.90">2</text>
<text class="lb" x="1150.00" y="822.20">1</text>
<text class="lb" x="1985.60" y="1193.70">8</text>
<text class="lb" x="1574.20" y="1650.00">3</text>
<text class="lb" x="1743.20" y="1586.50">3</text>
<text class="lb" x="1911.20" y="1554.30">2</text>
<text class="lb" x="2137.40" y="1508.80">7</text>
<text class="lb" x="2233.50" y="1554.30">8</text>
<text class="lb" x="427.20" y="1492.10">4</text>
<text class="lb" x="868.70" y="1680.50">5</text>
<text class="lb" x="1156.80" y="1675.50">6</text>
<rect x="87.85" y="265" width="3.7" height="51.6" fill="#000"/>
<rect x="330.35" y="246.9" width="3.7" height="51.6" fill="#000"/>
<rect x="546.95" y="401" width="3.7" height="51.6" fill="#000"/>
<rect x="1127.85" y="136.7" width="3.7" height="51.5" fill="#000"/>
<rect x="1129.75" y="327.6" width="3.7" height="48.6" fill="#000"/>
<rect x="1230.45" y="374.6" width="3.7" height="47.4" fill="#000"/>
<rect x="1048.35" y="486.7" width="3.7" height="48.7" fill="#000"/>
<rect x="1118.65" y="502.8" width="3.7" height="48.8" fill="#000"/>
<rect x="1178.85" y="528.5" width="3.7" height="48.7" fill="#000"/>
<rect x="941.95" y="578.9" width="3.7" height="48.0" fill="#000"/>
<rect x="1429.95" y="385" width="3.7" height="48.8" fill="#000"/>
<rect x="1536.45" y="424.6" width="3.7" height="48.7" fill="#000"/>
<rect x="1724.65" y="503.6" width="3.7" height="48.8" fill="#000"/>
<rect x="2131.45" y="185" width="3.7" height="51.6" fill="#000"/>
<rect x="2241.45" y="232.4" width="3.7" height="51.6" fill="#000"/>
<rect x="2360.55" y="330.8" width="3.7" height="52.1" fill="#000"/>
<rect x="2023.55" y="306.3" width="3.7" height="52.4" fill="#000"/>
<rect x="476.05" y="946.3" width="3.7" height="51.5" fill="#000"/>
<rect x="635.25" y="876" width="3.7" height="51.6" fill="#000"/>
<rect x="821.45" y="800.2" width="3.7" height="51.9" fill="#000"/>
<rect x="1150.65" y="836.2" width="3.7" height="51.5" fill="#000"/>
<rect x="1983.75" y="1206.6" width="3.7" height="51.6" fill="#000"/>
<rect x="1572.55" y="1561.9" width="3.7" height="48.6" fill="#000"/>
<rect x="1741.15" y="1498" width="3.7" height="48.2" fill="#000"/>
<rect x="1910.05" y="1466.6" width="3.7" height="48.3" fill="#000"/>
<rect x="2136.15" y="1421.7" width="3.7" height="48.9" fill="#000"/>
<rect x="2231.95" y="1465.5" width="3.7" height="49.0" fill="#000"/>
<rect x="426.25" y="1403.1" width="3.7" height="49.0" fill="#000"/>
<rect x="867.25" y="1592" width="3.7" height="48.2" fill="#000"/>
<rect x="1154.85" y="1587.4" width="3.7" height="47.8" fill="#000"/>
<rect x="821.3" y="108.05" width="49.3" height="3.7" fill="#000"/>
<rect x="943.8" y="402.85" width="49.3" height="3.7" fill="#000"/>
<rect x="800.8" y="448.55" width="48.7" height="3.7" fill="#000"/>
<rect x="728.3" y="526.65" width="48.8" height="3.7" fill="#000"/>
<rect x="797.1" y="584.05" width="52.4" height="3.7" fill="#000"/>
<rect x="797.1" y="645.95" width="48.3" height="3.7" fill="#000"/>
</svg>
</body></html>
